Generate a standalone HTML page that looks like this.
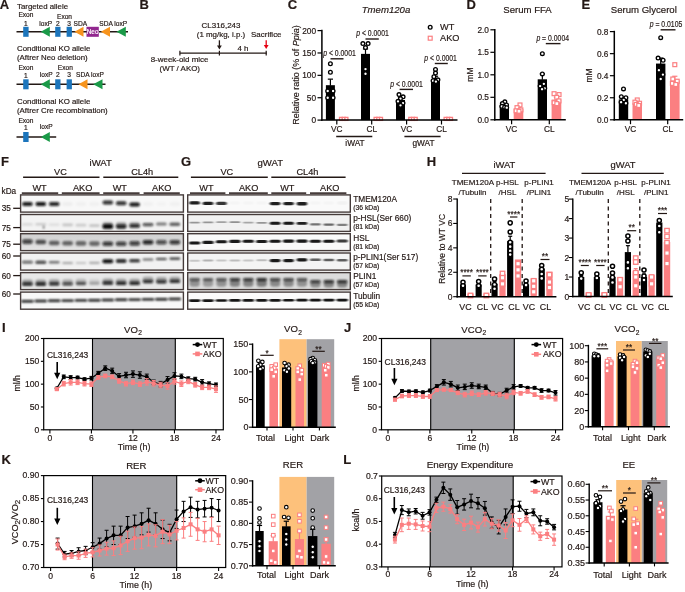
<!DOCTYPE html>
<html><head><meta charset="utf-8"><title>Figure</title>
<style>html,body{margin:0;padding:0;background:#fff;}body{width:685px;height:592px;overflow:hidden;font-family:"Liberation Sans",sans-serif;}svg{display:block;filter:blur(0.3px);}</style>
</head><body>
<svg width="685" height="592" viewBox="0 0 685 592" font-family="'Liberation Sans', sans-serif">
<defs><filter id="blF" x="-50%" y="-200%" width="200%" height="500%"><feGaussianBlur stdDeviation="1.3 0.9"/></filter>
<linearGradient id="g3" x1="0" y1="0" x2="0" y2="1"><stop offset="0" stop-color="#cfcfcf"/><stop offset="1" stop-color="#e6e6e6"/></linearGradient>
<filter id="bl" x="-50%" y="-200%" width="200%" height="500%"><feGaussianBlur stdDeviation="1.15 0.7"/></filter>
<filter id="bl2" x="-50%" y="-200%" width="200%" height="500%"><feGaussianBlur stdDeviation="1.1 1.0"/></filter></defs>
<text x="-0.3" y="9.2" font-size="13" text-anchor="start" fill="#231815" stroke="#231815" stroke-width="0.18" font-weight="bold">A</text>
<text x="17" y="8.7" font-size="7.85" text-anchor="start" fill="#231815" stroke="#231815" stroke-width="0.18">Targeted allele</text>
<text x="18.4" y="17.4" font-size="6.6" text-anchor="start" fill="#231815" stroke="#231815" stroke-width="0.18">Exon</text>
<text x="25.8" y="25.7" font-size="6.6" text-anchor="middle" fill="#231815" stroke="#231815" stroke-width="0.18">1</text>
<text x="39.3" y="25.7" font-size="6.6" text-anchor="start" fill="#231815" stroke="#231815" stroke-width="0.18">loxP</text>
<text x="57" y="19.2" font-size="6.6" text-anchor="start" fill="#231815" stroke="#231815" stroke-width="0.18">Exon</text>
<text x="57.8" y="25.7" font-size="6.6" text-anchor="middle" fill="#231815" stroke="#231815" stroke-width="0.18">2</text>
<text x="69.2" y="25.7" font-size="6.6" text-anchor="middle" fill="#231815" stroke="#231815" stroke-width="0.18">3</text>
<text x="73.5" y="25.7" font-size="6.6" text-anchor="start" fill="#231815" stroke="#231815" stroke-width="0.18">SDA</text>
<text x="99.3" y="25.7" font-size="6.6" text-anchor="start" fill="#231815" stroke="#231815" stroke-width="0.18">SDA</text>
<text x="114.3" y="25.7" font-size="6.6" text-anchor="start" fill="#231815" stroke="#231815" stroke-width="0.18">loxP</text>
<line x1="16.5" y1="31.8" x2="128" y2="31.8" stroke="#231815" stroke-width="1.5" stroke-linecap="butt"/>
<rect x="23.2" y="26.8" width="5.4" height="10" fill="#1c75bc" />
<polygon points="40.8,31.8 49.8,26.8 49.8,36.8" fill="#1a9a48"/>
<rect x="55.2" y="26.8" width="5.3" height="10" fill="#1c75bc" />
<rect x="66.6" y="26.8" width="5.3" height="10" fill="#1c75bc" />
<polygon points="74.5,31.8 83.5,26.8 83.5,36.8" fill="#f7941d"/>
<rect x="86.5" y="26.8" width="12.3" height="10" fill="#92278f" />
<text x="92.6" y="34.2" font-size="6.4" text-anchor="middle" fill="#ffffff" stroke="#ffffff" stroke-width="0.18">Neo</text>
<polygon points="100.8,31.8 110,26.8 110,36.8" fill="#f7941d"/>
<polygon points="116.5,31.8 125.8,26.8 125.8,36.8" fill="#1a9a48"/>
<text x="17" y="50.6" font-size="7.85" text-anchor="start" fill="#231815" stroke="#231815" stroke-width="0.18">Conditional KO allele</text>
<text x="17" y="60.1" font-size="7.85" text-anchor="start" fill="#231815" stroke="#231815" stroke-width="0.18">(Aftrer Neo deletion)</text>
<text x="18.4" y="70.2" font-size="6.6" text-anchor="start" fill="#231815" stroke="#231815" stroke-width="0.18">Exon</text>
<text x="25.8" y="77.8" font-size="6.6" text-anchor="middle" fill="#231815" stroke="#231815" stroke-width="0.18">1</text>
<text x="39.8" y="77" font-size="6.6" text-anchor="start" fill="#231815" stroke="#231815" stroke-width="0.18">loxP</text>
<text x="57.8" y="70.2" font-size="6.6" text-anchor="start" fill="#231815" stroke="#231815" stroke-width="0.18">Exon</text>
<text x="57.8" y="77" font-size="6.6" text-anchor="middle" fill="#231815" stroke="#231815" stroke-width="0.18">2</text>
<text x="69.2" y="77" font-size="6.6" text-anchor="middle" fill="#231815" stroke="#231815" stroke-width="0.18">3</text>
<text x="76" y="77" font-size="6.6" text-anchor="start" fill="#231815" stroke="#231815" stroke-width="0.18">SDA</text>
<text x="91" y="77" font-size="6.6" text-anchor="start" fill="#231815" stroke="#231815" stroke-width="0.18">loxP</text>
<line x1="16.5" y1="84.3" x2="105.5" y2="84.3" stroke="#231815" stroke-width="1.5" stroke-linecap="butt"/>
<rect x="23.2" y="79.3" width="5.4" height="10" fill="#1c75bc" />
<polygon points="40.8,84.3 49.8,79.3 49.8,89.3" fill="#1a9a48"/>
<rect x="55.2" y="79.3" width="5.3" height="10" fill="#1c75bc" />
<rect x="66.6" y="79.3" width="5.3" height="10" fill="#1c75bc" />
<polygon points="78.5,84.3 87.5,79.3 87.5,89.3" fill="#f7941d"/>
<polygon points="93.2,84.3 102.5,79.3 102.5,89.3" fill="#1a9a48"/>
<text x="17" y="103.7" font-size="7.85" text-anchor="start" fill="#231815" stroke="#231815" stroke-width="0.18">Conditional KO allele</text>
<text x="17" y="113.1" font-size="7.85" text-anchor="start" fill="#231815" stroke="#231815" stroke-width="0.18">(Aftrer Cre recombination)</text>
<text x="18.4" y="122.8" font-size="6.6" text-anchor="start" fill="#231815" stroke="#231815" stroke-width="0.18">Exon</text>
<text x="25.8" y="130.2" font-size="6.6" text-anchor="middle" fill="#231815" stroke="#231815" stroke-width="0.18">1</text>
<text x="39.8" y="129.4" font-size="6.6" text-anchor="start" fill="#231815" stroke="#231815" stroke-width="0.18">loxP</text>
<line x1="16.5" y1="137" x2="56.2" y2="137" stroke="#231815" stroke-width="1.5" stroke-linecap="butt"/>
<rect x="23.2" y="132" width="5.4" height="10" fill="#1c75bc" />
<polygon points="40.8,137 49.8,132 49.8,142" fill="#1a9a48"/>
<text x="139.6" y="9.2" font-size="13" text-anchor="start" fill="#231815" stroke="#231815" stroke-width="0.18" font-weight="bold">B</text>
<text x="221" y="28" font-size="7.95" text-anchor="middle" fill="#231815" stroke="#231815" stroke-width="0.18">CL316,243</text>
<text x="221" y="37.2" font-size="7.95" text-anchor="middle" fill="#231815" stroke="#231815" stroke-width="0.18">(1 mg/kg, i.p.)</text>
<text x="266.3" y="36.6" font-size="7.95" text-anchor="middle" fill="#231815" stroke="#231815" stroke-width="0.18">Sacrifice</text>
<line x1="219.4" y1="40.3" x2="219.4" y2="47.2" stroke="#231815" stroke-width="1.3" stroke-linecap="butt"/>
<polygon points="217,45.6 221.8,45.6 219.4,49.6" fill="#231815"/>
<line x1="266.2" y1="40.3" x2="266.2" y2="46.6" stroke="#e60012" stroke-width="1.3" stroke-linecap="butt"/>
<polygon points="263.8,45 268.6,45 266.2,49" fill="#e60012"/>
<line x1="179.9" y1="53.2" x2="266.7" y2="53.2" stroke="#231815" stroke-width="1.3" stroke-linecap="butt"/>
<line x1="179.9" y1="50.7" x2="179.9" y2="55.6" stroke="#231815" stroke-width="1.2" stroke-linecap="butt"/>
<line x1="219.4" y1="50.7" x2="219.4" y2="55.6" stroke="#231815" stroke-width="1.2" stroke-linecap="butt"/>
<line x1="266.2" y1="50.7" x2="266.2" y2="55.6" stroke="#231815" stroke-width="1.2" stroke-linecap="butt"/>
<text x="243" y="50.6" font-size="7.95" text-anchor="middle" fill="#231815" stroke="#231815" stroke-width="0.18">4 h</text>
<text x="179.6" y="62" font-size="7.95" text-anchor="middle" fill="#231815" stroke="#231815" stroke-width="0.18">8-week-old mice</text>
<text x="179.8" y="71" font-size="7.95" text-anchor="middle" fill="#231815" stroke="#231815" stroke-width="0.18">(WT / AKO)</text>
<text x="287.8" y="9.2" font-size="13" text-anchor="start" fill="#231815" stroke="#231815" stroke-width="0.18" font-weight="bold">C</text>
<text x="386" y="13.2" font-size="9.6" text-anchor="middle" fill="#231815" stroke="#231815" stroke-width="0.18" font-style="italic">Tmem120a</text>
<text x="0" y="0" font-size="9" text-anchor="middle" fill="#231815" stroke="#231815" stroke-width="0.18" transform="translate(299.3 75) rotate(-90)">Relative ratio (% of <tspan font-style="italic">Ppia</tspan>)</text>
<rect x="325.9" y="85.19" width="9" height="34.91" fill="#000000" />
<line x1="330.4" y1="79.15" x2="330.4" y2="85.69" stroke="#000000" stroke-width="1.2" stroke-linecap="butt"/>
<line x1="327.8" y1="79.15" x2="333" y2="79.15" stroke="#000000" stroke-width="1.2" stroke-linecap="butt"/>
<circle cx="330.4" cy="63.71" r="1.85" fill="#ffffff" stroke="#000000" stroke-width="1.35"/>
<circle cx="330.4" cy="72.22" r="1.85" fill="#ffffff" stroke="#000000" stroke-width="1.35"/>
<circle cx="327.7" cy="91.01" r="1.85" fill="#ffffff" stroke="#000000" stroke-width="1.35"/>
<circle cx="333.1" cy="91.01" r="1.85" fill="#ffffff" stroke="#000000" stroke-width="1.35"/>
<circle cx="327.7" cy="97.72" r="1.85" fill="#ffffff" stroke="#000000" stroke-width="1.35"/>
<circle cx="333.1" cy="97.72" r="1.85" fill="#ffffff" stroke="#000000" stroke-width="1.35"/>
<rect x="339.2" y="119.56" width="9" height="0.54" fill="#fb7f81" />
<rect x="339.5" y="117.39" width="3" height="3" fill="#ffffff" stroke="#fb7f81" stroke-width="1.3" />
<rect x="342.2" y="117.39" width="3" height="3" fill="#ffffff" stroke="#fb7f81" stroke-width="1.3" />
<rect x="344.9" y="117.39" width="3" height="3" fill="#ffffff" stroke="#fb7f81" stroke-width="1.3" />
<rect x="361" y="53.87" width="9" height="66.23" fill="#000000" />
<line x1="365.5" y1="48.95" x2="365.5" y2="54.37" stroke="#000000" stroke-width="1.2" stroke-linecap="butt"/>
<line x1="362.9" y1="48.95" x2="368.1" y2="48.95" stroke="#000000" stroke-width="1.2" stroke-linecap="butt"/>
<circle cx="362.9" cy="43.58" r="1.85" fill="#ffffff" stroke="#000000" stroke-width="1.35"/>
<circle cx="368.1" cy="43.58" r="1.85" fill="#ffffff" stroke="#000000" stroke-width="1.35"/>
<circle cx="365.5" cy="47.6" r="1.85" fill="#ffffff" stroke="#000000" stroke-width="1.35"/>
<circle cx="365.5" cy="69.08" r="1.85" fill="#ffffff" stroke="#000000" stroke-width="1.35"/>
<circle cx="365.5" cy="73.78" r="1.85" fill="#ffffff" stroke="#000000" stroke-width="1.35"/>
<rect x="373.8" y="119.56" width="9" height="0.54" fill="#fb7f81" />
<rect x="374.1" y="117.39" width="3" height="3" fill="#ffffff" stroke="#fb7f81" stroke-width="1.3" />
<rect x="376.8" y="117.39" width="3" height="3" fill="#ffffff" stroke="#fb7f81" stroke-width="1.3" />
<rect x="379.5" y="117.39" width="3" height="3" fill="#ffffff" stroke="#fb7f81" stroke-width="1.3" />
<rect x="396" y="99.96" width="9" height="20.14" fill="#000000" />
<line x1="400.5" y1="97.28" x2="400.5" y2="100.46" stroke="#000000" stroke-width="1.2" stroke-linecap="butt"/>
<line x1="397.9" y1="97.28" x2="403.1" y2="97.28" stroke="#000000" stroke-width="1.2" stroke-linecap="butt"/>
<circle cx="399" cy="94.59" r="1.85" fill="#ffffff" stroke="#000000" stroke-width="1.35"/>
<circle cx="403.1" cy="96.83" r="1.85" fill="#ffffff" stroke="#000000" stroke-width="1.35"/>
<circle cx="400.5" cy="98.62" r="1.85" fill="#ffffff" stroke="#000000" stroke-width="1.35"/>
<circle cx="398" cy="101.3" r="1.85" fill="#ffffff" stroke="#000000" stroke-width="1.35"/>
<circle cx="403" cy="103.09" r="1.85" fill="#ffffff" stroke="#000000" stroke-width="1.35"/>
<circle cx="400.5" cy="105.33" r="1.85" fill="#ffffff" stroke="#000000" stroke-width="1.35"/>
<rect x="408.5" y="119.56" width="9" height="0.54" fill="#fb7f81" />
<rect x="408.8" y="117.39" width="3" height="3" fill="#ffffff" stroke="#fb7f81" stroke-width="1.3" />
<rect x="411.5" y="117.39" width="3" height="3" fill="#ffffff" stroke="#fb7f81" stroke-width="1.3" />
<rect x="414.2" y="117.39" width="3" height="3" fill="#ffffff" stroke="#fb7f81" stroke-width="1.3" />
<rect x="431" y="79.82" width="9" height="40.28" fill="#000000" />
<line x1="435.5" y1="76.24" x2="435.5" y2="80.32" stroke="#000000" stroke-width="1.2" stroke-linecap="butt"/>
<line x1="432.9" y1="76.24" x2="438.1" y2="76.24" stroke="#000000" stroke-width="1.2" stroke-linecap="butt"/>
<circle cx="435.5" cy="69.53" r="1.85" fill="#ffffff" stroke="#000000" stroke-width="1.35"/>
<circle cx="435.5" cy="73.11" r="1.85" fill="#ffffff" stroke="#000000" stroke-width="1.35"/>
<circle cx="433.9" cy="76.69" r="1.85" fill="#ffffff" stroke="#000000" stroke-width="1.35"/>
<circle cx="437.9" cy="79.82" r="1.85" fill="#ffffff" stroke="#000000" stroke-width="1.35"/>
<circle cx="433.1" cy="80.72" r="1.85" fill="#ffffff" stroke="#000000" stroke-width="1.35"/>
<circle cx="435.9" cy="81.61" r="1.85" fill="#ffffff" stroke="#000000" stroke-width="1.35"/>
<rect x="443.8" y="119.56" width="9" height="0.54" fill="#fb7f81" />
<rect x="444.1" y="117.39" width="3" height="3" fill="#ffffff" stroke="#fb7f81" stroke-width="1.3" />
<rect x="446.8" y="117.39" width="3" height="3" fill="#ffffff" stroke="#fb7f81" stroke-width="1.3" />
<rect x="449.5" y="117.39" width="3" height="3" fill="#ffffff" stroke="#fb7f81" stroke-width="1.3" />
<line x1="321.9" y1="29.8" x2="321.9" y2="120.85" stroke="#000000" stroke-width="1.5" stroke-linecap="butt"/>
<line x1="321.15" y1="120.1" x2="457.5" y2="120.1" stroke="#000000" stroke-width="1.5" stroke-linecap="butt"/>
<line x1="317.5" y1="120.1" x2="321.9" y2="120.1" stroke="#000000" stroke-width="1.2" stroke-linecap="butt"/>
<text x="316.1" y="123" font-size="8.3" text-anchor="end" fill="#231815" stroke="#231815" stroke-width="0.18">0</text>
<line x1="317.5" y1="97.72" x2="321.9" y2="97.72" stroke="#000000" stroke-width="1.2" stroke-linecap="butt"/>
<text x="316.1" y="100.62" font-size="8.3" text-anchor="end" fill="#231815" stroke="#231815" stroke-width="0.18">50</text>
<line x1="317.5" y1="75.35" x2="321.9" y2="75.35" stroke="#000000" stroke-width="1.2" stroke-linecap="butt"/>
<text x="316.1" y="78.25" font-size="8.3" text-anchor="end" fill="#231815" stroke="#231815" stroke-width="0.18">100</text>
<line x1="317.5" y1="52.97" x2="321.9" y2="52.97" stroke="#000000" stroke-width="1.2" stroke-linecap="butt"/>
<text x="316.1" y="55.87" font-size="8.3" text-anchor="end" fill="#231815" stroke="#231815" stroke-width="0.18">150</text>
<line x1="317.5" y1="30.6" x2="321.9" y2="30.6" stroke="#000000" stroke-width="1.2" stroke-linecap="butt"/>
<text x="316.1" y="33.5" font-size="8.3" text-anchor="end" fill="#231815" stroke="#231815" stroke-width="0.18">200</text>
<line x1="336.8" y1="120.1" x2="336.8" y2="124.5" stroke="#000000" stroke-width="1.2" stroke-linecap="butt"/>
<text x="336.8" y="132" font-size="8.3" text-anchor="middle" fill="#231815" stroke="#231815" stroke-width="0.18">VC</text>
<line x1="371.7" y1="120.1" x2="371.7" y2="124.5" stroke="#000000" stroke-width="1.2" stroke-linecap="butt"/>
<text x="371.7" y="132" font-size="8.3" text-anchor="middle" fill="#231815" stroke="#231815" stroke-width="0.18">CL</text>
<line x1="406.6" y1="120.1" x2="406.6" y2="124.5" stroke="#000000" stroke-width="1.2" stroke-linecap="butt"/>
<text x="406.6" y="132" font-size="8.3" text-anchor="middle" fill="#231815" stroke="#231815" stroke-width="0.18">VC</text>
<line x1="441.5" y1="120.1" x2="441.5" y2="124.5" stroke="#000000" stroke-width="1.2" stroke-linecap="butt"/>
<text x="441.5" y="132" font-size="8.3" text-anchor="middle" fill="#231815" stroke="#231815" stroke-width="0.18">CL</text>
<line x1="336.2" y1="136.5" x2="372.3" y2="136.5" stroke="#231815" stroke-width="1.5" stroke-linecap="butt"/>
<text x="355" y="146" font-size="8.3" text-anchor="middle" fill="#231815" stroke="#231815" stroke-width="0.18">iWAT</text>
<line x1="404.4" y1="136.5" x2="440.6" y2="136.5" stroke="#231815" stroke-width="1.5" stroke-linecap="butt"/>
<text x="423.5" y="146" font-size="8.3" text-anchor="middle" fill="#231815" stroke="#231815" stroke-width="0.18">gWAT</text>
<text x="0" y="0" font-size="8.7" text-anchor="middle" fill="#231815" stroke="#231815" stroke-width="0.18" transform="translate(339.5 56) scale(0.79 1)"><tspan font-style="italic">p</tspan> &lt; 0.0001</text>
<line x1="330.5" y1="58.8" x2="343.5" y2="58.8" stroke="#231815" stroke-width="1.4" stroke-linecap="butt"/>
<text x="0" y="0" font-size="8.7" text-anchor="middle" fill="#231815" stroke="#231815" stroke-width="0.18" transform="translate(372.5 35.9) scale(0.79 1)"><tspan font-style="italic">p</tspan> &lt; 0.0001</text>
<line x1="365.5" y1="39" x2="378.8" y2="39" stroke="#231815" stroke-width="1.4" stroke-linecap="butt"/>
<text x="0" y="0" font-size="8.7" text-anchor="middle" fill="#231815" stroke="#231815" stroke-width="0.18" transform="translate(406.5 87.4) scale(0.79 1)"><tspan font-style="italic">p</tspan> &lt; 0.0001</text>
<line x1="399.6" y1="89.4" x2="413" y2="89.4" stroke="#231815" stroke-width="1.4" stroke-linecap="butt"/>
<text x="0" y="0" font-size="8.7" text-anchor="middle" fill="#231815" stroke="#231815" stroke-width="0.18" transform="translate(440.6 61) scale(0.79 1)"><tspan font-style="italic">p</tspan> &lt; 0.0001</text>
<line x1="434.8" y1="63.5" x2="447.8" y2="63.5" stroke="#231815" stroke-width="1.4" stroke-linecap="butt"/>
<circle cx="430.2" cy="27.2" r="1.85" fill="#ffffff" stroke="#000000" stroke-width="1.35"/>
<text x="440" y="30.4" font-size="9.2" text-anchor="start" fill="#231815" stroke="#231815" stroke-width="0.18">WT</text>
<rect x="428.25" y="36.25" width="3.9" height="3.9" fill="#ffffff" stroke="#fb7f81" stroke-width="1.2" />
<text x="440" y="41.4" font-size="9.2" text-anchor="start" fill="#231815" stroke="#231815" stroke-width="0.18">AKO</text>
<text x="466.6" y="9.2" font-size="13" text-anchor="start" fill="#231815" stroke="#231815" stroke-width="0.18" font-weight="bold">D</text>
<text x="527.5" y="13.2" font-size="9.6" text-anchor="middle" fill="#231815" stroke="#231815" stroke-width="0.18">Serum FFA</text>
<text x="0" y="0" font-size="8.5" text-anchor="middle" fill="#231815" stroke="#231815" stroke-width="0.18" transform="translate(472.6 74.6) rotate(-90)">mM</text>
<rect x="499.7" y="105.4" width="9.3" height="14.4" fill="#000000" />
<line x1="504.35" y1="104.05" x2="504.35" y2="105.9" stroke="#000000" stroke-width="1.2" stroke-linecap="butt"/>
<line x1="501.75" y1="104.05" x2="506.95" y2="104.05" stroke="#000000" stroke-width="1.2" stroke-linecap="butt"/>
<circle cx="504.85" cy="101.8" r="1.85" fill="#ffffff" stroke="#000000" stroke-width="1.35"/>
<circle cx="502.35" cy="103.6" r="1.85" fill="#ffffff" stroke="#000000" stroke-width="1.35"/>
<circle cx="506.55" cy="104.95" r="1.85" fill="#ffffff" stroke="#000000" stroke-width="1.35"/>
<circle cx="501.85" cy="106.3" r="1.85" fill="#ffffff" stroke="#000000" stroke-width="1.35"/>
<circle cx="504.65" cy="107.2" r="1.85" fill="#ffffff" stroke="#000000" stroke-width="1.35"/>
<circle cx="506.75" cy="107.65" r="1.85" fill="#ffffff" stroke="#000000" stroke-width="1.35"/>
<rect x="513.7" y="109" width="9.6" height="10.8" fill="#fb7f81" />
<line x1="518.5" y1="107.65" x2="518.5" y2="109.5" stroke="#fb7f81" stroke-width="1.2" stroke-linecap="butt"/>
<line x1="515.9" y1="107.65" x2="521.1" y2="107.65" stroke="#fb7f81" stroke-width="1.2" stroke-linecap="butt"/>
<rect x="518.05" y="103" width="3.9" height="3.9" fill="#ffffff" stroke="#fb7f81" stroke-width="1.2" />
<rect x="515.05" y="105.7" width="3.9" height="3.9" fill="#ffffff" stroke="#fb7f81" stroke-width="1.2" />
<rect x="518.95" y="107.95" width="3.9" height="3.9" fill="#ffffff" stroke="#fb7f81" stroke-width="1.2" />
<rect x="514.15" y="108.85" width="3.9" height="3.9" fill="#ffffff" stroke="#fb7f81" stroke-width="1.2" />
<rect x="517.05" y="109.3" width="3.9" height="3.9" fill="#ffffff" stroke="#fb7f81" stroke-width="1.2" />
<rect x="537.7" y="79.3" width="9.3" height="40.5" fill="#000000" />
<line x1="542.35" y1="73.9" x2="542.35" y2="79.8" stroke="#000000" stroke-width="1.2" stroke-linecap="butt"/>
<line x1="539.75" y1="73.9" x2="544.95" y2="73.9" stroke="#000000" stroke-width="1.2" stroke-linecap="butt"/>
<circle cx="542.35" cy="53.65" r="1.85" fill="#ffffff" stroke="#000000" stroke-width="1.35"/>
<circle cx="542.35" cy="73.9" r="1.85" fill="#ffffff" stroke="#000000" stroke-width="1.35"/>
<circle cx="543.85" cy="83.8" r="1.85" fill="#ffffff" stroke="#000000" stroke-width="1.35"/>
<circle cx="540.15" cy="86.05" r="1.85" fill="#ffffff" stroke="#000000" stroke-width="1.35"/>
<circle cx="544.75" cy="88.3" r="1.85" fill="#ffffff" stroke="#000000" stroke-width="1.35"/>
<circle cx="542.05" cy="89.2" r="1.85" fill="#ffffff" stroke="#000000" stroke-width="1.35"/>
<rect x="551.6" y="99.55" width="9.7" height="20.25" fill="#fb7f81" />
<line x1="556.45" y1="97.3" x2="556.45" y2="100.05" stroke="#fb7f81" stroke-width="1.2" stroke-linecap="butt"/>
<line x1="553.85" y1="97.3" x2="559.05" y2="97.3" stroke="#fb7f81" stroke-width="1.2" stroke-linecap="butt"/>
<rect x="552.1" y="91.75" width="3.9" height="3.9" fill="#ffffff" stroke="#fb7f81" stroke-width="1.2" />
<rect x="557.1" y="92.65" width="3.9" height="3.9" fill="#ffffff" stroke="#fb7f81" stroke-width="1.2" />
<rect x="554.8" y="95.35" width="3.9" height="3.9" fill="#ffffff" stroke="#fb7f81" stroke-width="1.2" />
<rect x="557" y="98.95" width="3.9" height="3.9" fill="#ffffff" stroke="#fb7f81" stroke-width="1.2" />
<rect x="552.2" y="100.75" width="3.9" height="3.9" fill="#ffffff" stroke="#fb7f81" stroke-width="1.2" />
<rect x="554.9" y="101.65" width="3.9" height="3.9" fill="#ffffff" stroke="#fb7f81" stroke-width="1.2" />
<line x1="494.8" y1="29" x2="494.8" y2="120.55" stroke="#000000" stroke-width="1.5" stroke-linecap="butt"/>
<line x1="494.05" y1="119.8" x2="565.8" y2="119.8" stroke="#000000" stroke-width="1.5" stroke-linecap="butt"/>
<line x1="490.4" y1="119.8" x2="494.8" y2="119.8" stroke="#000000" stroke-width="1.2" stroke-linecap="butt"/>
<text x="489" y="122.7" font-size="8.3" text-anchor="end" fill="#231815" stroke="#231815" stroke-width="0.18">0.0</text>
<line x1="490.4" y1="97.3" x2="494.8" y2="97.3" stroke="#000000" stroke-width="1.2" stroke-linecap="butt"/>
<text x="489" y="100.2" font-size="8.3" text-anchor="end" fill="#231815" stroke="#231815" stroke-width="0.18">0.5</text>
<line x1="490.4" y1="74.8" x2="494.8" y2="74.8" stroke="#000000" stroke-width="1.2" stroke-linecap="butt"/>
<text x="489" y="77.7" font-size="8.3" text-anchor="end" fill="#231815" stroke="#231815" stroke-width="0.18">1.0</text>
<line x1="490.4" y1="52.3" x2="494.8" y2="52.3" stroke="#000000" stroke-width="1.2" stroke-linecap="butt"/>
<text x="489" y="55.2" font-size="8.3" text-anchor="end" fill="#231815" stroke="#231815" stroke-width="0.18">1.5</text>
<line x1="490.4" y1="29.8" x2="494.8" y2="29.8" stroke="#000000" stroke-width="1.2" stroke-linecap="butt"/>
<text x="489" y="32.7" font-size="8.3" text-anchor="end" fill="#231815" stroke="#231815" stroke-width="0.18">2.0</text>
<line x1="511.6" y1="119.8" x2="511.6" y2="124.2" stroke="#000000" stroke-width="1.2" stroke-linecap="butt"/>
<text x="511.6" y="132" font-size="8.3" text-anchor="middle" fill="#231815" stroke="#231815" stroke-width="0.18">VC</text>
<line x1="549.3" y1="119.8" x2="549.3" y2="124.2" stroke="#000000" stroke-width="1.2" stroke-linecap="butt"/>
<text x="549.3" y="132" font-size="8.3" text-anchor="middle" fill="#231815" stroke="#231815" stroke-width="0.18">CL</text>
<text x="0" y="0" font-size="8.7" text-anchor="middle" fill="#231815" stroke="#231815" stroke-width="0.18" transform="translate(552.7 41.4) scale(0.79 1)"><tspan font-style="italic">p</tspan> = 0.0004</text>
<line x1="545.8" y1="43.6" x2="560.5" y2="43.6" stroke="#231815" stroke-width="1.4" stroke-linecap="butt"/>
<text x="581.6" y="9.2" font-size="13" text-anchor="start" fill="#231815" stroke="#231815" stroke-width="0.18" font-weight="bold">E</text>
<text x="643.8" y="13.2" font-size="9.6" text-anchor="middle" fill="#231815" stroke="#231815" stroke-width="0.18">Serum Glycerol</text>
<text x="0" y="0" font-size="8.5" text-anchor="middle" fill="#231815" stroke="#231815" stroke-width="0.18" transform="translate(591.8 75.4) rotate(-90)">mM</text>
<rect x="618.8" y="99.4" width="9.4" height="20.4" fill="#000000" />
<line x1="623.5" y1="97.2" x2="623.5" y2="99.9" stroke="#000000" stroke-width="1.2" stroke-linecap="butt"/>
<line x1="620.9" y1="97.2" x2="626.1" y2="97.2" stroke="#000000" stroke-width="1.2" stroke-linecap="butt"/>
<circle cx="623.5" cy="88.93" r="1.85" fill="#ffffff" stroke="#000000" stroke-width="1.35"/>
<circle cx="621.3" cy="96.65" r="1.85" fill="#ffffff" stroke="#000000" stroke-width="1.35"/>
<circle cx="625.9" cy="97.75" r="1.85" fill="#ffffff" stroke="#000000" stroke-width="1.35"/>
<circle cx="623.7" cy="99.95" r="1.85" fill="#ffffff" stroke="#000000" stroke-width="1.35"/>
<circle cx="621.1" cy="102.16" r="1.85" fill="#ffffff" stroke="#000000" stroke-width="1.35"/>
<circle cx="625.9" cy="103.26" r="1.85" fill="#ffffff" stroke="#000000" stroke-width="1.35"/>
<rect x="632.5" y="103.26" width="9.5" height="16.54" fill="#fb7f81" />
<line x1="637.25" y1="101.94" x2="637.25" y2="103.76" stroke="#fb7f81" stroke-width="1.2" stroke-linecap="butt"/>
<line x1="634.65" y1="101.94" x2="639.85" y2="101.94" stroke="#fb7f81" stroke-width="1.2" stroke-linecap="butt"/>
<rect x="635.3" y="98" width="3.9" height="3.9" fill="#ffffff" stroke="#fb7f81" stroke-width="1.2" />
<rect x="633" y="100.21" width="3.9" height="3.9" fill="#ffffff" stroke="#fb7f81" stroke-width="1.2" />
<rect x="637.6" y="101.31" width="3.9" height="3.9" fill="#ffffff" stroke="#fb7f81" stroke-width="1.2" />
<rect x="634.3" y="102.41" width="3.9" height="3.9" fill="#ffffff" stroke="#fb7f81" stroke-width="1.2" />
<rect x="636.8" y="103.52" width="3.9" height="3.9" fill="#ffffff" stroke="#fb7f81" stroke-width="1.2" />
<rect x="656" y="63.57" width="9.4" height="56.23" fill="#000000" />
<line x1="660.7" y1="58.06" x2="660.7" y2="64.07" stroke="#000000" stroke-width="1.2" stroke-linecap="butt"/>
<line x1="658.1" y1="58.06" x2="663.3" y2="58.06" stroke="#000000" stroke-width="1.2" stroke-linecap="butt"/>
<circle cx="660.7" cy="37.66" r="1.85" fill="#ffffff" stroke="#000000" stroke-width="1.35"/>
<circle cx="658.1" cy="58.06" r="1.85" fill="#ffffff" stroke="#000000" stroke-width="1.35"/>
<circle cx="663.1" cy="60.27" r="1.85" fill="#ffffff" stroke="#000000" stroke-width="1.35"/>
<circle cx="658.9" cy="70.19" r="1.85" fill="#ffffff" stroke="#000000" stroke-width="1.35"/>
<circle cx="662.9" cy="74.6" r="1.85" fill="#ffffff" stroke="#000000" stroke-width="1.35"/>
<circle cx="660.7" cy="79.01" r="1.85" fill="#ffffff" stroke="#000000" stroke-width="1.35"/>
<rect x="670" y="80.66" width="9.6" height="39.14" fill="#fb7f81" />
<line x1="674.8" y1="76.25" x2="674.8" y2="81.16" stroke="#fb7f81" stroke-width="1.2" stroke-linecap="butt"/>
<line x1="672.2" y1="76.25" x2="677.4" y2="76.25" stroke="#fb7f81" stroke-width="1.2" stroke-linecap="butt"/>
<rect x="672.85" y="62.73" width="3.9" height="3.9" fill="#ffffff" stroke="#fb7f81" stroke-width="1.2" />
<rect x="670.85" y="77.06" width="3.9" height="3.9" fill="#ffffff" stroke="#fb7f81" stroke-width="1.2" />
<rect x="675.25" y="79.26" width="3.9" height="3.9" fill="#ffffff" stroke="#fb7f81" stroke-width="1.2" />
<rect x="670.45" y="81.47" width="3.9" height="3.9" fill="#ffffff" stroke="#fb7f81" stroke-width="1.2" />
<rect x="673.85" y="82.57" width="3.9" height="3.9" fill="#ffffff" stroke="#fb7f81" stroke-width="1.2" />
<line x1="614.3" y1="30.8" x2="614.3" y2="120.55" stroke="#000000" stroke-width="1.5" stroke-linecap="butt"/>
<line x1="613.55" y1="119.8" x2="683.2" y2="119.8" stroke="#000000" stroke-width="1.5" stroke-linecap="butt"/>
<line x1="609.9" y1="119.8" x2="614.3" y2="119.8" stroke="#000000" stroke-width="1.2" stroke-linecap="butt"/>
<text x="608.5" y="122.7" font-size="8.3" text-anchor="end" fill="#231815" stroke="#231815" stroke-width="0.18">0.0</text>
<line x1="609.9" y1="97.75" x2="614.3" y2="97.75" stroke="#000000" stroke-width="1.2" stroke-linecap="butt"/>
<text x="608.5" y="100.65" font-size="8.3" text-anchor="end" fill="#231815" stroke="#231815" stroke-width="0.18">0.2</text>
<line x1="609.9" y1="75.7" x2="614.3" y2="75.7" stroke="#000000" stroke-width="1.2" stroke-linecap="butt"/>
<text x="608.5" y="78.6" font-size="8.3" text-anchor="end" fill="#231815" stroke="#231815" stroke-width="0.18">0.4</text>
<line x1="609.9" y1="53.65" x2="614.3" y2="53.65" stroke="#000000" stroke-width="1.2" stroke-linecap="butt"/>
<text x="608.5" y="56.55" font-size="8.3" text-anchor="end" fill="#231815" stroke="#231815" stroke-width="0.18">0.6</text>
<line x1="609.9" y1="31.6" x2="614.3" y2="31.6" stroke="#000000" stroke-width="1.2" stroke-linecap="butt"/>
<text x="608.5" y="34.5" font-size="8.3" text-anchor="end" fill="#231815" stroke="#231815" stroke-width="0.18">0.8</text>
<line x1="630.5" y1="119.8" x2="630.5" y2="124.2" stroke="#000000" stroke-width="1.2" stroke-linecap="butt"/>
<text x="630.5" y="132" font-size="8.3" text-anchor="middle" fill="#231815" stroke="#231815" stroke-width="0.18">VC</text>
<line x1="667.7" y1="119.8" x2="667.7" y2="124.2" stroke="#000000" stroke-width="1.2" stroke-linecap="butt"/>
<text x="667.7" y="132" font-size="8.3" text-anchor="middle" fill="#231815" stroke="#231815" stroke-width="0.18">CL</text>
<text x="0" y="0" font-size="8.7" text-anchor="middle" fill="#231815" stroke="#231815" stroke-width="0.18" transform="translate(666 27.4) scale(0.79 1)"><tspan font-style="italic">p</tspan> = 0.0105</text>
<line x1="660.6" y1="29.8" x2="675.5" y2="29.8" stroke="#231815" stroke-width="1.4" stroke-linecap="butt"/>
<text x="1" y="166.2" font-size="13" text-anchor="start" fill="#231815" stroke="#231815" stroke-width="0.18" font-weight="bold">F</text>
<text x="100.7" y="166.2" font-size="9.6" text-anchor="middle" fill="#231815" stroke="#231815" stroke-width="0.18">iWAT</text>
<text x="60.4" y="175.4" font-size="9.2" text-anchor="middle" fill="#231815" stroke="#231815" stroke-width="0.18">VC</text>
<text x="142.2" y="175.4" font-size="9.2" text-anchor="middle" fill="#231815" stroke="#231815" stroke-width="0.18">CL4h</text>
<line x1="23.1" y1="177.2" x2="99.5" y2="177.2" stroke="#231815" stroke-width="1.5" stroke-linecap="butt"/>
<line x1="103.3" y1="177.2" x2="178.3" y2="177.2" stroke="#231815" stroke-width="1.5" stroke-linecap="butt"/>
<text x="39.6" y="191" font-size="9.2" text-anchor="middle" fill="#231815" stroke="#231815" stroke-width="0.18">WT</text>
<text x="82.6" y="191" font-size="9.2" text-anchor="middle" fill="#231815" stroke="#231815" stroke-width="0.18">AKO</text>
<text x="119.8" y="191" font-size="9.2" text-anchor="middle" fill="#231815" stroke="#231815" stroke-width="0.18">WT</text>
<text x="161.8" y="191" font-size="9.2" text-anchor="middle" fill="#231815" stroke="#231815" stroke-width="0.18">AKO</text>
<text x="1.6" y="194.4" font-size="8.2" text-anchor="start" fill="#231815" stroke="#231815" stroke-width="0.18">kDa</text>
<line x1="21.8" y1="193.3" x2="58.2" y2="193.3" stroke="#463c3b" stroke-width="2" stroke-linecap="butt"/>
<line x1="61.8" y1="193.3" x2="99.6" y2="193.3" stroke="#463c3b" stroke-width="2" stroke-linecap="butt"/>
<line x1="103.2" y1="193.3" x2="139.6" y2="193.3" stroke="#463c3b" stroke-width="2" stroke-linecap="butt"/>
<line x1="143.6" y1="193.3" x2="179.8" y2="193.3" stroke="#463c3b" stroke-width="2" stroke-linecap="butt"/>
<text x="1.8" y="211.2" font-size="8.2" text-anchor="start" fill="#231815" stroke="#231815" stroke-width="0.18">35</text>
<line x1="13.2" y1="208.3" x2="20.3" y2="208.3" stroke="#231815" stroke-width="1.3" stroke-linecap="butt"/>
<text x="1.8" y="230.5" font-size="8.2" text-anchor="start" fill="#231815" stroke="#231815" stroke-width="0.18">75</text>
<line x1="13.2" y1="227.6" x2="20.3" y2="227.6" stroke="#231815" stroke-width="1.3" stroke-linecap="butt"/>
<text x="1.8" y="247.1" font-size="8.2" text-anchor="start" fill="#231815" stroke="#231815" stroke-width="0.18">75</text>
<line x1="13.2" y1="244.2" x2="20.3" y2="244.2" stroke="#231815" stroke-width="1.3" stroke-linecap="butt"/>
<text x="1.8" y="258.9" font-size="8.2" text-anchor="start" fill="#231815" stroke="#231815" stroke-width="0.18">60</text>
<line x1="13.2" y1="256" x2="20.3" y2="256" stroke="#231815" stroke-width="1.3" stroke-linecap="butt"/>
<text x="1.8" y="278.5" font-size="8.2" text-anchor="start" fill="#231815" stroke="#231815" stroke-width="0.18">60</text>
<line x1="13.2" y1="275.6" x2="20.3" y2="275.6" stroke="#231815" stroke-width="1.3" stroke-linecap="butt"/>
<text x="1.8" y="296.9" font-size="8.2" text-anchor="start" fill="#231815" stroke="#231815" stroke-width="0.18">60</text>
<line x1="13.2" y1="294" x2="20.3" y2="294" stroke="#231815" stroke-width="1.3" stroke-linecap="butt"/>
<clipPath id="c1"><rect x="20" y="194.3" width="164" height="18.4"/></clipPath>
<rect x="20" y="194.3" width="164" height="18.4" fill="#f8f8f8" />
<g clip-path="url(#c1)"><g filter="url(#blF)">
<rect x="22.1" y="202.1" width="10.6" height="4" rx="2" fill="#0a0a0a" fill-opacity="0.95"/>
<rect x="35.5" y="201.9" width="10.6" height="4" rx="2" fill="#0a0a0a" fill-opacity="0.97"/>
<rect x="48.9" y="202.1" width="10.6" height="4" rx="2" fill="#0a0a0a" fill-opacity="0.9"/>
<rect x="62.3" y="202.1" width="10.6" height="4" rx="2" fill="#0a0a0a" fill-opacity="0.04"/>
<rect x="75.7" y="202.1" width="10.6" height="4" rx="2" fill="#0a0a0a" fill-opacity="0.03"/>
<rect x="89.1" y="202.1" width="10.6" height="4" rx="2" fill="#0a0a0a" fill-opacity="0.03"/>
<rect x="102.5" y="200.5" width="10.6" height="4" rx="2" fill="#0a0a0a" fill-opacity="0.85"/>
<rect x="115.9" y="201.3" width="10.6" height="4" rx="2" fill="#0a0a0a" fill-opacity="0.85"/>
<rect x="129.3" y="202.6" width="10.6" height="4" rx="2" fill="#0a0a0a" fill-opacity="0.95"/>
<rect x="142.7" y="202.1" width="10.6" height="4" rx="2" fill="#0a0a0a" fill-opacity="0.03"/>
<rect x="156.1" y="202.1" width="10.6" height="4" rx="2" fill="#0a0a0a" fill-opacity="0.02"/>
<rect x="169.5" y="202.1" width="10.6" height="4" rx="2" fill="#0a0a0a" fill-opacity="0.03"/>
</g></g>
<rect x="20.6" y="194.9" width="162.8" height="17.2" fill="none" stroke="#463c3b" stroke-width="1.4" />
<clipPath id="c2"><rect x="20" y="213.9" width="164" height="18.1"/></clipPath>
<rect x="20" y="213.9" width="164" height="18.1" fill="#f3f3f3" />
<g clip-path="url(#c2)"><g filter="url(#blF)">
<rect x="22" y="223.2" width="10.8" height="2.4" rx="1.2" fill="#0a0a0a" fill-opacity="0.13"/>
<rect x="35.4" y="223" width="10.8" height="2.4" rx="1.2" fill="#0a0a0a" fill-opacity="0.16"/>
<rect x="48.8" y="223.4" width="10.8" height="2.4" rx="1.2" fill="#0a0a0a" fill-opacity="0.1"/>
<rect x="62.2" y="223.4" width="10.8" height="2.8" rx="1.4" fill="#0a0a0a" fill-opacity="0.2"/>
<rect x="75.6" y="223.8" width="10.8" height="2.8" rx="1.4" fill="#0a0a0a" fill-opacity="0.17"/>
<rect x="89" y="224.2" width="10.8" height="2.8" rx="1.4" fill="#0a0a0a" fill-opacity="0.2"/>
<rect x="102.4" y="224.1" width="10.8" height="5" rx="2.5" fill="#0a0a0a" fill-opacity="1"/>
<rect x="115.8" y="224.5" width="10.8" height="4.2" rx="2.1" fill="#0a0a0a" fill-opacity="0.9"/>
<rect x="129.2" y="224.1" width="10.8" height="3.8" rx="1.9" fill="#0a0a0a" fill-opacity="0.8"/>
<rect x="142.6" y="222.9" width="10.8" height="3.4" rx="1.7" fill="#0a0a0a" fill-opacity="0.7"/>
<rect x="156" y="222.4" width="10.8" height="3.2" rx="1.6" fill="#0a0a0a" fill-opacity="0.5"/>
<rect x="169.4" y="222.5" width="10.8" height="3.4" rx="1.7" fill="#0a0a0a" fill-opacity="0.6"/>
<rect x="43.25" y="225.6" width="1" height="3.4" rx="1.7" fill="#0a0a0a" fill-opacity="0.9"/>
<rect x="102.4" y="221.9" width="10.8" height="5" rx="2.5" fill="#0a0a0a" fill-opacity="0.3"/>
<rect x="115.8" y="221.9" width="10.8" height="5" rx="2.5" fill="#0a0a0a" fill-opacity="0.3"/>
<rect x="129.2" y="221.9" width="10.8" height="5" rx="2.5" fill="#0a0a0a" fill-opacity="0.3"/>
</g></g>
<rect x="20.6" y="214.5" width="162.8" height="16.9" fill="none" stroke="#463c3b" stroke-width="1.4" />
<clipPath id="c3"><rect x="20" y="233.1" width="164" height="18.1"/></clipPath>
<rect x="20" y="233.1" width="164" height="18.1" fill="url(#g3)" />
<g clip-path="url(#c3)"><g filter="url(#bl2)">
<rect x="22" y="239.3" width="10.8" height="4.6" rx="2.3" fill="#0a0a0a" fill-opacity="0.74"/>
<rect x="35.4" y="239.7" width="10.8" height="4.6" rx="2.3" fill="#0a0a0a" fill-opacity="0.64"/>
<rect x="48.8" y="240.7" width="10.8" height="4.6" rx="2.3" fill="#0a0a0a" fill-opacity="0.57"/>
<rect x="62.2" y="240.9" width="10.8" height="4.6" rx="2.3" fill="#0a0a0a" fill-opacity="0.55"/>
<rect x="75.6" y="241.1" width="10.8" height="4.6" rx="2.3" fill="#0a0a0a" fill-opacity="0.53"/>
<rect x="89" y="241.3" width="10.8" height="4.6" rx="2.3" fill="#0a0a0a" fill-opacity="0.53"/>
<rect x="102.4" y="241.5" width="10.8" height="4.6" rx="2.3" fill="#0a0a0a" fill-opacity="0.78"/>
<rect x="115.8" y="241.5" width="10.8" height="4.6" rx="2.3" fill="#0a0a0a" fill-opacity="0.74"/>
<rect x="129.2" y="241.1" width="10.8" height="4.6" rx="2.3" fill="#0a0a0a" fill-opacity="0.74"/>
<rect x="142.6" y="239.9" width="10.8" height="4.6" rx="2.3" fill="#0a0a0a" fill-opacity="0.87"/>
<rect x="156" y="239.9" width="10.8" height="4.6" rx="2.3" fill="#0a0a0a" fill-opacity="0.69"/>
<rect x="169.4" y="239.9" width="10.8" height="4.6" rx="2.3" fill="#0a0a0a" fill-opacity="0.78"/>
</g></g>
<rect x="20.6" y="233.7" width="162.8" height="16.9" fill="none" stroke="#463c3b" stroke-width="1.4" />
<clipPath id="c4"><rect x="20" y="252.4" width="164" height="18.3"/></clipPath>
<rect x="20" y="252.4" width="164" height="18.3" fill="#f2f2f2" />
<g clip-path="url(#c4)"><g filter="url(#blF)">
<rect x="22" y="260.8" width="10.8" height="2.8" rx="1.4" fill="#0a0a0a" fill-opacity="0.65"/>
<rect x="35.4" y="260.7" width="10.8" height="3" rx="1.5" fill="#0a0a0a" fill-opacity="0.78"/>
<rect x="48.8" y="260.9" width="10.8" height="2.6" rx="1.3" fill="#0a0a0a" fill-opacity="0.55"/>
<rect x="62.2" y="261.9" width="10.8" height="2.2" rx="1.1" fill="#0a0a0a" fill-opacity="0.32"/>
<rect x="75.6" y="261.9" width="10.8" height="2.2" rx="1.1" fill="#0a0a0a" fill-opacity="0.2"/>
<rect x="89" y="261.7" width="10.8" height="2.2" rx="1.1" fill="#0a0a0a" fill-opacity="0.3"/>
<rect x="102.4" y="259.2" width="10.8" height="4" rx="2" fill="#0a0a0a" fill-opacity="1"/>
<rect x="115.8" y="259.3" width="10.8" height="3.4" rx="1.7" fill="#0a0a0a" fill-opacity="0.95"/>
<rect x="129.2" y="259.3" width="10.8" height="3" rx="1.5" fill="#0a0a0a" fill-opacity="0.9"/>
<rect x="142.6" y="258.6" width="10.8" height="2" rx="1" fill="#0a0a0a" fill-opacity="0.6"/>
<rect x="156" y="257.9" width="10.8" height="2.2" rx="1.1" fill="#0a0a0a" fill-opacity="0.8"/>
<rect x="169.4" y="257.5" width="10.8" height="2.2" rx="1.1" fill="#0a0a0a" fill-opacity="0.8"/>
</g></g>
<rect x="20.6" y="253" width="162.8" height="17.1" fill="none" stroke="#463c3b" stroke-width="1.4" />
<clipPath id="c5"><rect x="20" y="272" width="164" height="18.2"/></clipPath>
<rect x="20" y="272" width="164" height="18.2" fill="#e8e8e8" />
<g clip-path="url(#c5)"><g filter="url(#blF)">
<rect x="21.9" y="279.45" width="11" height="5.5" rx="2.75" fill="#0a0a0a" fill-opacity="0.32"/>
<rect x="22.1" y="282.6" width="10.6" height="3.2" rx="1.6" fill="#0a0a0a" fill-opacity="0.9"/>
<rect x="35.3" y="279.45" width="11" height="5.5" rx="2.75" fill="#0a0a0a" fill-opacity="0.33"/>
<rect x="35.5" y="282.6" width="10.6" height="3.2" rx="1.6" fill="#0a0a0a" fill-opacity="0.95"/>
<rect x="48.7" y="279.25" width="11" height="5.5" rx="2.75" fill="#0a0a0a" fill-opacity="0.32"/>
<rect x="48.9" y="282.4" width="10.6" height="3.2" rx="1.6" fill="#0a0a0a" fill-opacity="0.9"/>
<rect x="62.1" y="279.25" width="11" height="5.5" rx="2.75" fill="#0a0a0a" fill-opacity="0.26"/>
<rect x="62.3" y="282.4" width="10.6" height="3.2" rx="1.6" fill="#0a0a0a" fill-opacity="0.75"/>
<rect x="75.5" y="278.85" width="11" height="5.5" rx="2.75" fill="#0a0a0a" fill-opacity="0.21"/>
<rect x="75.7" y="282" width="10.6" height="3.2" rx="1.6" fill="#0a0a0a" fill-opacity="0.6"/>
<rect x="88.9" y="278.65" width="11" height="5.5" rx="2.75" fill="#0a0a0a" fill-opacity="0.09"/>
<rect x="89.1" y="281.8" width="10.6" height="3.2" rx="1.6" fill="#0a0a0a" fill-opacity="0.25"/>
<rect x="102.3" y="278.45" width="11" height="5.5" rx="2.75" fill="#0a0a0a" fill-opacity="0.32"/>
<rect x="102.5" y="281.6" width="10.6" height="3.2" rx="1.6" fill="#0a0a0a" fill-opacity="0.9"/>
<rect x="115.7" y="278.65" width="11" height="5.5" rx="2.75" fill="#0a0a0a" fill-opacity="0.32"/>
<rect x="115.9" y="281.8" width="10.6" height="3.2" rx="1.6" fill="#0a0a0a" fill-opacity="0.9"/>
<rect x="129.1" y="278.65" width="11" height="5.5" rx="2.75" fill="#0a0a0a" fill-opacity="0.32"/>
<rect x="129.3" y="281.8" width="10.6" height="3.2" rx="1.6" fill="#0a0a0a" fill-opacity="0.9"/>
<rect x="142.5" y="276.85" width="11" height="5.5" rx="2.75" fill="#0a0a0a" fill-opacity="0.3"/>
<rect x="142.7" y="280" width="10.6" height="3.2" rx="1.6" fill="#0a0a0a" fill-opacity="0.85"/>
<rect x="155.9" y="277.05" width="11" height="5.5" rx="2.75" fill="#0a0a0a" fill-opacity="0.3"/>
<rect x="156.1" y="280.2" width="10.6" height="3.2" rx="1.6" fill="#0a0a0a" fill-opacity="0.85"/>
<rect x="169.3" y="276.65" width="11" height="5.5" rx="2.75" fill="#0a0a0a" fill-opacity="0.3"/>
<rect x="169.5" y="279.8" width="10.6" height="3.2" rx="1.6" fill="#0a0a0a" fill-opacity="0.85"/>
</g></g>
<rect x="20.6" y="272.6" width="162.8" height="17" fill="none" stroke="#463c3b" stroke-width="1.4" />
<clipPath id="c6"><rect x="20" y="291.5" width="164" height="18.3"/></clipPath>
<rect x="20" y="291.5" width="164" height="18.3" fill="#f8f8f8" />
<g clip-path="url(#c6)"><g filter="url(#blF)">
<rect x="21.2" y="300" width="12.4" height="2.4" rx="1.2" fill="#0a0a0a" fill-opacity="0.95"/>
<rect x="34.6" y="299.8" width="12.4" height="2.4" rx="1.2" fill="#0a0a0a" fill-opacity="0.95"/>
<rect x="48" y="299.6" width="12.4" height="2.4" rx="1.2" fill="#0a0a0a" fill-opacity="0.95"/>
<rect x="61.4" y="299.4" width="12.4" height="2.4" rx="1.2" fill="#0a0a0a" fill-opacity="0.95"/>
<rect x="74.8" y="299.2" width="12.4" height="2.4" rx="1.2" fill="#0a0a0a" fill-opacity="0.95"/>
<rect x="88.2" y="299" width="12.4" height="2.4" rx="1.2" fill="#0a0a0a" fill-opacity="0.95"/>
<rect x="101.6" y="298.8" width="12.4" height="2.4" rx="1.2" fill="#0a0a0a" fill-opacity="0.95"/>
<rect x="115" y="298.6" width="12.4" height="2.4" rx="1.2" fill="#0a0a0a" fill-opacity="0.95"/>
<rect x="128.4" y="298.4" width="12.4" height="2.4" rx="1.2" fill="#0a0a0a" fill-opacity="0.95"/>
<rect x="141.8" y="298.2" width="12.4" height="2.4" rx="1.2" fill="#0a0a0a" fill-opacity="0.95"/>
<rect x="155.2" y="298" width="12.4" height="2.4" rx="1.2" fill="#0a0a0a" fill-opacity="0.95"/>
<rect x="168.6" y="297.8" width="12.4" height="2.4" rx="1.2" fill="#0a0a0a" fill-opacity="0.95"/>
</g></g>
<rect x="20.6" y="292.1" width="162.8" height="17.1" fill="none" stroke="#463c3b" stroke-width="1.4" />
<text x="181" y="166.2" font-size="13" text-anchor="start" fill="#231815" stroke="#231815" stroke-width="0.18" font-weight="bold">G</text>
<text x="270.3" y="166.2" font-size="9.6" text-anchor="middle" fill="#231815" stroke="#231815" stroke-width="0.18">gWAT</text>
<text x="226.8" y="175.4" font-size="9.2" text-anchor="middle" fill="#231815" stroke="#231815" stroke-width="0.18">VC</text>
<text x="307.4" y="175.4" font-size="9.2" text-anchor="middle" fill="#231815" stroke="#231815" stroke-width="0.18">CL4h</text>
<line x1="190.9" y1="177.2" x2="267.8" y2="177.2" stroke="#231815" stroke-width="1.5" stroke-linecap="butt"/>
<line x1="271.3" y1="177.2" x2="345.6" y2="177.2" stroke="#231815" stroke-width="1.5" stroke-linecap="butt"/>
<text x="206.5" y="191" font-size="9.2" text-anchor="middle" fill="#231815" stroke="#231815" stroke-width="0.18">WT</text>
<text x="248.6" y="191" font-size="9.2" text-anchor="middle" fill="#231815" stroke="#231815" stroke-width="0.18">AKO</text>
<text x="287.3" y="191" font-size="9.2" text-anchor="middle" fill="#231815" stroke="#231815" stroke-width="0.18">WT</text>
<text x="329.8" y="191" font-size="9.2" text-anchor="middle" fill="#231815" stroke="#231815" stroke-width="0.18">AKO</text>
<line x1="190" y1="193.3" x2="225.4" y2="193.3" stroke="#463c3b" stroke-width="2" stroke-linecap="butt"/>
<line x1="229" y1="193.3" x2="267.8" y2="193.3" stroke="#463c3b" stroke-width="2" stroke-linecap="butt"/>
<line x1="271.3" y1="193.3" x2="306.2" y2="193.3" stroke="#463c3b" stroke-width="2" stroke-linecap="butt"/>
<line x1="310" y1="193.3" x2="346.4" y2="193.3" stroke="#463c3b" stroke-width="2" stroke-linecap="butt"/>
<clipPath id="c7"><rect x="187.1" y="194.3" width="163.8" height="18.4"/></clipPath>
<rect x="187.1" y="194.3" width="163.8" height="18.4" fill="#fafafa" />
<g clip-path="url(#c7)"><g filter="url(#bl)">
<rect x="189.3" y="201.2" width="10.6" height="3.4" rx="1.7" fill="#0a0a0a" fill-opacity="0.93"/>
<rect x="202.72" y="201.7" width="10.6" height="3.4" rx="1.7" fill="#0a0a0a" fill-opacity="0.93"/>
<rect x="216.14" y="201.7" width="10.6" height="3.4" rx="1.7" fill="#0a0a0a" fill-opacity="0.84"/>
<rect x="229.56" y="201.3" width="10.6" height="3.4" rx="1.7" fill="#0a0a0a" fill-opacity="0.02"/>
<rect x="242.98" y="201.3" width="10.6" height="3.4" rx="1.7" fill="#0a0a0a" fill-opacity="0.02"/>
<rect x="256.4" y="201.3" width="10.6" height="3.4" rx="1.7" fill="#0a0a0a" fill-opacity="0.02"/>
<rect x="269.82" y="201.9" width="10.6" height="3.4" rx="1.7" fill="#0a0a0a" fill-opacity="0.93"/>
<rect x="283.24" y="201.9" width="10.6" height="3.4" rx="1.7" fill="#0a0a0a" fill-opacity="0.93"/>
<rect x="296.66" y="202.1" width="10.6" height="3.4" rx="1.7" fill="#0a0a0a" fill-opacity="0.93"/>
<rect x="310.08" y="201.3" width="10.6" height="3.4" rx="1.7" fill="#0a0a0a" fill-opacity="0.02"/>
<rect x="323.5" y="201.3" width="10.6" height="3.4" rx="1.7" fill="#0a0a0a" fill-opacity="0.02"/>
<rect x="336.92" y="201.3" width="10.6" height="3.4" rx="1.7" fill="#0a0a0a" fill-opacity="0.03"/>
</g></g>
<rect x="187.7" y="194.9" width="162.6" height="17.2" fill="none" stroke="#463c3b" stroke-width="1.4" />
<clipPath id="c8"><rect x="187.1" y="213.9" width="163.8" height="18.1"/></clipPath>
<rect x="187.1" y="213.9" width="163.8" height="18.1" fill="#f1f1f1" />
<g clip-path="url(#c8)"><g filter="url(#bl)">
<rect x="189.3" y="221.7" width="10.6" height="1.8" rx="0.9" fill="#0a0a0a" fill-opacity="0.38"/>
<rect x="202.72" y="221.5" width="10.6" height="1.8" rx="0.9" fill="#0a0a0a" fill-opacity="0.38"/>
<rect x="216.14" y="221.3" width="10.6" height="1.8" rx="0.9" fill="#0a0a0a" fill-opacity="0.33"/>
<rect x="229.56" y="221.3" width="10.6" height="1.8" rx="0.9" fill="#0a0a0a" fill-opacity="0.4"/>
<rect x="242.98" y="221.7" width="10.6" height="1.8" rx="0.9" fill="#0a0a0a" fill-opacity="0.31"/>
<rect x="256.4" y="221.9" width="10.6" height="1.8" rx="0.9" fill="#0a0a0a" fill-opacity="0.38"/>
<rect x="269.82" y="221.67" width="10.6" height="3.06" rx="1.53" fill="#0a0a0a" fill-opacity="0.95"/>
<rect x="283.24" y="221.67" width="10.6" height="3.06" rx="1.53" fill="#0a0a0a" fill-opacity="0.95"/>
<rect x="296.66" y="221.96" width="10.6" height="2.88" rx="1.44" fill="#0a0a0a" fill-opacity="0.92"/>
<rect x="310.08" y="223.32" width="10.6" height="2.16" rx="1.08" fill="#0a0a0a" fill-opacity="0.52"/>
<rect x="323.5" y="223.52" width="10.6" height="2.16" rx="1.08" fill="#0a0a0a" fill-opacity="0.57"/>
<rect x="336.92" y="223.72" width="10.6" height="2.16" rx="1.08" fill="#0a0a0a" fill-opacity="0.47"/>
</g></g>
<rect x="187.7" y="214.5" width="162.6" height="16.9" fill="none" stroke="#463c3b" stroke-width="1.4" />
<clipPath id="c9"><rect x="187.1" y="233.1" width="163.8" height="18.1"/></clipPath>
<rect x="187.1" y="233.1" width="163.8" height="18.1" fill="#f9f9f9" />
<g clip-path="url(#c9)"><g filter="url(#bl)">
<rect x="189" y="241.45" width="11.2" height="3.1" rx="1.55" fill="#0a0a0a" fill-opacity="0.95"/>
<rect x="202.42" y="240.85" width="11.2" height="3.1" rx="1.55" fill="#0a0a0a" fill-opacity="0.95"/>
<rect x="215.84" y="240.25" width="11.2" height="3.1" rx="1.55" fill="#0a0a0a" fill-opacity="0.95"/>
<rect x="229.26" y="239.85" width="11.2" height="3.1" rx="1.55" fill="#0a0a0a" fill-opacity="0.95"/>
<rect x="242.68" y="239.75" width="11.2" height="3.1" rx="1.55" fill="#0a0a0a" fill-opacity="0.95"/>
<rect x="256.1" y="239.95" width="11.2" height="3.1" rx="1.55" fill="#0a0a0a" fill-opacity="0.95"/>
<rect x="269.52" y="239.75" width="11.2" height="3.1" rx="1.55" fill="#0a0a0a" fill-opacity="0.95"/>
<rect x="282.94" y="239.55" width="11.2" height="3.1" rx="1.55" fill="#0a0a0a" fill-opacity="0.95"/>
<rect x="296.36" y="239.55" width="11.2" height="3.1" rx="1.55" fill="#0a0a0a" fill-opacity="0.95"/>
<rect x="309.78" y="239.75" width="11.2" height="3.1" rx="1.55" fill="#0a0a0a" fill-opacity="0.95"/>
<rect x="323.2" y="239.75" width="11.2" height="3.1" rx="1.55" fill="#0a0a0a" fill-opacity="0.95"/>
<rect x="336.62" y="239.45" width="11.2" height="3.1" rx="1.55" fill="#0a0a0a" fill-opacity="0.8"/>
</g></g>
<rect x="187.7" y="233.7" width="162.6" height="16.9" fill="none" stroke="#463c3b" stroke-width="1.4" />
<clipPath id="c10"><rect x="187.1" y="252.4" width="163.8" height="18.3"/></clipPath>
<rect x="187.1" y="252.4" width="163.8" height="18.3" fill="#f4f4f4" />
<g clip-path="url(#c10)"><g filter="url(#bl)">
<rect x="189.3" y="259.81" width="10.6" height="1.98" rx="0.99" fill="#0a0a0a" fill-opacity="0.19"/>
<rect x="202.72" y="259.61" width="10.6" height="1.98" rx="0.99" fill="#0a0a0a" fill-opacity="0.27"/>
<rect x="216.14" y="259.61" width="10.6" height="1.98" rx="0.99" fill="#0a0a0a" fill-opacity="0.19"/>
<rect x="229.56" y="259.61" width="10.6" height="1.98" rx="0.99" fill="#0a0a0a" fill-opacity="0.23"/>
<rect x="242.98" y="259.41" width="10.6" height="1.98" rx="0.99" fill="#0a0a0a" fill-opacity="0.19"/>
<rect x="256.4" y="259.21" width="10.6" height="1.98" rx="0.99" fill="#0a0a0a" fill-opacity="0.23"/>
<rect x="269.82" y="258.89" width="10.6" height="3.42" rx="1.71" fill="#0a0a0a" fill-opacity="0.95"/>
<rect x="283.24" y="258.89" width="10.6" height="3.42" rx="1.71" fill="#0a0a0a" fill-opacity="0.95"/>
<rect x="296.66" y="258.18" width="10.6" height="3.24" rx="1.62" fill="#0a0a0a" fill-opacity="0.95"/>
<rect x="310.08" y="258.54" width="10.6" height="2.52" rx="1.26" fill="#0a0a0a" fill-opacity="0.66"/>
<rect x="323.5" y="258.74" width="10.6" height="2.52" rx="1.26" fill="#0a0a0a" fill-opacity="0.62"/>
<rect x="336.92" y="258.94" width="10.6" height="2.52" rx="1.26" fill="#0a0a0a" fill-opacity="0.62"/>
</g></g>
<rect x="187.7" y="253" width="162.6" height="17.1" fill="none" stroke="#463c3b" stroke-width="1.4" />
<clipPath id="c11"><rect x="187.1" y="272" width="163.8" height="18.2"/></clipPath>
<rect x="187.1" y="272" width="163.8" height="18.2" fill="#dcdcdc" />
<g clip-path="url(#c11)"><g filter="url(#bl2)">
<rect x="189.4" y="279.7" width="10.4" height="7" rx="3.5" fill="#0a0a0a" fill-opacity="0.34"/>
<rect x="189.3" y="278.1" width="10.6" height="3" rx="1.5" fill="#0a0a0a" fill-opacity="0.65"/>
<rect x="202.82" y="279.7" width="10.4" height="7" rx="3.5" fill="#0a0a0a" fill-opacity="0.3"/>
<rect x="202.72" y="278.1" width="10.6" height="3" rx="1.5" fill="#0a0a0a" fill-opacity="0.58"/>
<rect x="216.24" y="279.7" width="10.4" height="7" rx="3.5" fill="#0a0a0a" fill-opacity="0.34"/>
<rect x="216.14" y="278.1" width="10.6" height="3" rx="1.5" fill="#0a0a0a" fill-opacity="0.65"/>
<rect x="229.66" y="279.7" width="10.4" height="7" rx="3.5" fill="#0a0a0a" fill-opacity="0.41"/>
<rect x="229.56" y="278.1" width="10.6" height="3" rx="1.5" fill="#0a0a0a" fill-opacity="0.8"/>
<rect x="243.08" y="279.7" width="10.4" height="7" rx="3.5" fill="#0a0a0a" fill-opacity="0.41"/>
<rect x="242.98" y="278.1" width="10.6" height="3" rx="1.5" fill="#0a0a0a" fill-opacity="0.8"/>
<rect x="256.5" y="279.7" width="10.4" height="7" rx="3.5" fill="#0a0a0a" fill-opacity="0.45"/>
<rect x="256.4" y="278.1" width="10.6" height="3" rx="1.5" fill="#0a0a0a" fill-opacity="0.87"/>
<rect x="269.92" y="279.7" width="10.4" height="7" rx="3.5" fill="#0a0a0a" fill-opacity="0.38"/>
<rect x="269.82" y="278.1" width="10.6" height="3" rx="1.5" fill="#0a0a0a" fill-opacity="0.72"/>
<rect x="283.34" y="279.7" width="10.4" height="7" rx="3.5" fill="#0a0a0a" fill-opacity="0.38"/>
<rect x="283.24" y="278.1" width="10.6" height="3" rx="1.5" fill="#0a0a0a" fill-opacity="0.72"/>
<rect x="296.76" y="279.7" width="10.4" height="7" rx="3.5" fill="#0a0a0a" fill-opacity="0.34"/>
<rect x="296.66" y="278.1" width="10.6" height="3" rx="1.5" fill="#0a0a0a" fill-opacity="0.65"/>
<rect x="310.18" y="280.6" width="10.4" height="7" rx="3.5" fill="#0a0a0a" fill-opacity="0.38"/>
<rect x="310.08" y="279.9" width="10.6" height="3" rx="1.5" fill="#0a0a0a" fill-opacity="0.72"/>
<rect x="323.6" y="280.6" width="10.4" height="7" rx="3.5" fill="#0a0a0a" fill-opacity="0.41"/>
<rect x="323.5" y="279.9" width="10.6" height="3" rx="1.5" fill="#0a0a0a" fill-opacity="0.8"/>
<rect x="337.02" y="280.6" width="10.4" height="7" rx="3.5" fill="#0a0a0a" fill-opacity="0.41"/>
<rect x="336.92" y="279.9" width="10.6" height="3" rx="1.5" fill="#0a0a0a" fill-opacity="0.8"/>
</g></g>
<rect x="187.7" y="272.6" width="162.6" height="17" fill="none" stroke="#463c3b" stroke-width="1.4" />
<clipPath id="c12"><rect x="187.1" y="291.5" width="163.8" height="18.3"/></clipPath>
<rect x="187.1" y="291.5" width="163.8" height="18.3" fill="#fbfbfb" />
<g clip-path="url(#c12)"><g filter="url(#bl)">
<rect x="188.9" y="299.25" width="11.4" height="2.7" rx="1.35" fill="#0a0a0a" fill-opacity="0.97"/>
<rect x="202.32" y="299.2" width="11.4" height="2.7" rx="1.35" fill="#0a0a0a" fill-opacity="0.97"/>
<rect x="215.74" y="299.15" width="11.4" height="2.7" rx="1.35" fill="#0a0a0a" fill-opacity="0.97"/>
<rect x="229.16" y="299.1" width="11.4" height="2.7" rx="1.35" fill="#0a0a0a" fill-opacity="0.97"/>
<rect x="242.58" y="299.05" width="11.4" height="2.7" rx="1.35" fill="#0a0a0a" fill-opacity="0.97"/>
<rect x="256" y="299" width="11.4" height="2.7" rx="1.35" fill="#0a0a0a" fill-opacity="0.97"/>
<rect x="269.42" y="298.95" width="11.4" height="2.7" rx="1.35" fill="#0a0a0a" fill-opacity="0.97"/>
<rect x="282.84" y="298.9" width="11.4" height="2.7" rx="1.35" fill="#0a0a0a" fill-opacity="0.97"/>
<rect x="296.26" y="298.85" width="11.4" height="2.7" rx="1.35" fill="#0a0a0a" fill-opacity="0.97"/>
<rect x="309.68" y="298.8" width="11.4" height="2.7" rx="1.35" fill="#0a0a0a" fill-opacity="0.97"/>
<rect x="323.1" y="298.75" width="11.4" height="2.7" rx="1.35" fill="#0a0a0a" fill-opacity="0.97"/>
<rect x="336.52" y="298.7" width="11.4" height="2.7" rx="1.35" fill="#0a0a0a" fill-opacity="0.97"/>
</g></g>
<rect x="187.7" y="292.1" width="162.6" height="17.1" fill="none" stroke="#463c3b" stroke-width="1.4" />
<text x="353.2" y="202.2" font-size="8.3" text-anchor="start" fill="#231815" stroke="#231815" stroke-width="0.18">TMEM120A</text>
<text x="353.2" y="209.7" font-size="6.8" text-anchor="start" fill="#231815" stroke="#231815" stroke-width="0.18">(36 kDa)</text>
<text x="353.2" y="221" font-size="8.3" text-anchor="start" fill="#231815" stroke="#231815" stroke-width="0.18">p-HSL(Ser 660)</text>
<text x="353.2" y="229.4" font-size="6.8" text-anchor="start" fill="#231815" stroke="#231815" stroke-width="0.18">(81 kDa)</text>
<text x="353.2" y="241.2" font-size="8.3" text-anchor="start" fill="#231815" stroke="#231815" stroke-width="0.18">HSL</text>
<text x="353.2" y="249.4" font-size="6.8" text-anchor="start" fill="#231815" stroke="#231815" stroke-width="0.18">(81 kDa)</text>
<text x="353.2" y="260.1" font-size="8.3" text-anchor="start" fill="#231815" stroke="#231815" stroke-width="0.18">p-PLIN1(Ser 517)</text>
<text x="353.2" y="268.3" font-size="6.8" text-anchor="start" fill="#231815" stroke="#231815" stroke-width="0.18">(57 kDa)</text>
<text x="353.2" y="279" font-size="8.3" text-anchor="start" fill="#231815" stroke="#231815" stroke-width="0.18">PLIN1</text>
<text x="353.2" y="287.4" font-size="6.8" text-anchor="start" fill="#231815" stroke="#231815" stroke-width="0.18">(57 kDa)</text>
<text x="353.2" y="298.7" font-size="8.3" text-anchor="start" fill="#231815" stroke="#231815" stroke-width="0.18">Tubulin</text>
<text x="353.2" y="306.7" font-size="6.8" text-anchor="start" fill="#231815" stroke="#231815" stroke-width="0.18">(55 kDa)</text>
<text x="426.7" y="166.2" font-size="13" text-anchor="start" fill="#231815" stroke="#231815" stroke-width="0.18" font-weight="bold">H</text>
<text x="504.4" y="167.8" font-size="9.4" text-anchor="middle" fill="#231815" stroke="#231815" stroke-width="0.18">iWAT</text>
<line x1="462" y1="173.3" x2="545.6" y2="173.3" stroke="#231815" stroke-width="1.2" stroke-linecap="butt"/>
<text x="472.9" y="185.3" font-size="8" text-anchor="middle" fill="#231815" stroke="#231815" stroke-width="0.18">TMEM120A</text>
<text x="472.5" y="194.9" font-size="8" text-anchor="middle" fill="#231815" stroke="#231815" stroke-width="0.18">/Tubulin</text>
<text x="507.4" y="185.3" font-size="8" text-anchor="middle" fill="#231815" stroke="#231815" stroke-width="0.18">p-HSL</text>
<text x="507.5" y="194.9" font-size="8" text-anchor="middle" fill="#231815" stroke="#231815" stroke-width="0.18">/HSL</text>
<text x="539" y="185.3" font-size="8" text-anchor="middle" fill="#231815" stroke="#231815" stroke-width="0.18">p-PLIN1</text>
<text x="539" y="194.9" font-size="8" text-anchor="middle" fill="#231815" stroke="#231815" stroke-width="0.18">/PLIN1</text>
<text x="0" y="0" font-size="8.5" text-anchor="middle" fill="#231815" stroke="#231815" stroke-width="0.18" transform="translate(444.5 248.8) rotate(-90)">Relative to WT VC</text>
<rect x="460" y="284.49" width="6" height="12.21" fill="#000000" />
<line x1="463" y1="283.27" x2="463" y2="284.99" stroke="#000000" stroke-width="1.2" stroke-linecap="butt"/>
<line x1="461" y1="283.27" x2="465" y2="283.27" stroke="#000000" stroke-width="1.2" stroke-linecap="butt"/>
<circle cx="463" cy="282.29" r="2.05" fill="#ffffff" stroke="#000000" stroke-width="1.5"/>
<circle cx="463" cy="285.71" r="2.05" fill="#ffffff" stroke="#000000" stroke-width="1.5"/>
<rect x="467.4" y="293.65" width="6.2" height="3.05" fill="#fb7f81" />
<rect x="468.25" y="293.23" width="4.5" height="4.5" fill="#ffffff" stroke="#fb7f81" stroke-width="1.3" />
<rect x="475.6" y="284.49" width="6.1" height="12.21" fill="#000000" />
<line x1="478.65" y1="283.02" x2="478.65" y2="284.99" stroke="#000000" stroke-width="1.2" stroke-linecap="butt"/>
<line x1="476.65" y1="283.02" x2="480.65" y2="283.02" stroke="#000000" stroke-width="1.2" stroke-linecap="butt"/>
<circle cx="478.65" cy="281.44" r="2.05" fill="#ffffff" stroke="#000000" stroke-width="1.5"/>
<circle cx="478.65" cy="285.71" r="2.05" fill="#ffffff" stroke="#000000" stroke-width="1.5"/>
<rect x="483.3" y="293.65" width="6.1" height="3.05" fill="#fb7f81" />
<rect x="484.1" y="293.23" width="4.5" height="4.5" fill="#ffffff" stroke="#fb7f81" stroke-width="1.3" />
<rect x="491.5" y="283.88" width="6.1" height="12.82" fill="#000000" />
<line x1="494.55" y1="281.44" x2="494.55" y2="284.38" stroke="#000000" stroke-width="1.2" stroke-linecap="butt"/>
<line x1="492.55" y1="281.44" x2="496.55" y2="281.44" stroke="#000000" stroke-width="1.2" stroke-linecap="butt"/>
<circle cx="494.55" cy="279" r="2.05" fill="#ffffff" stroke="#000000" stroke-width="1.5"/>
<circle cx="494.55" cy="284.49" r="2.05" fill="#ffffff" stroke="#000000" stroke-width="1.5"/>
<circle cx="494.55" cy="288.76" r="2.05" fill="#ffffff" stroke="#000000" stroke-width="1.5"/>
<rect x="499.4" y="274.11" width="6.2" height="22.59" fill="#fb7f81" />
<rect x="500.25" y="271.25" width="4.5" height="4.5" fill="#ffffff" stroke="#fb7f81" stroke-width="1.3" />
<rect x="500.25" y="275.52" width="4.5" height="4.5" fill="#ffffff" stroke="#fb7f81" stroke-width="1.3" />
<rect x="500.25" y="281.63" width="4.5" height="4.5" fill="#ffffff" stroke="#fb7f81" stroke-width="1.3" />
<rect x="507.1" y="241.14" width="6.2" height="55.56" fill="#000000" />
<line x1="510.2" y1="236.26" x2="510.2" y2="241.64" stroke="#000000" stroke-width="1.2" stroke-linecap="butt"/>
<line x1="508.2" y1="236.26" x2="512.2" y2="236.26" stroke="#000000" stroke-width="1.2" stroke-linecap="butt"/>
<circle cx="510.2" cy="222.83" r="2.05" fill="#ffffff" stroke="#000000" stroke-width="1.5"/>
<circle cx="510.2" cy="231.99" r="2.05" fill="#ffffff" stroke="#000000" stroke-width="1.5"/>
<circle cx="510.2" cy="242.37" r="2.05" fill="#ffffff" stroke="#000000" stroke-width="1.5"/>
<circle cx="510.2" cy="246.64" r="2.05" fill="#ffffff" stroke="#000000" stroke-width="1.5"/>
<circle cx="510.2" cy="250.91" r="2.05" fill="#ffffff" stroke="#000000" stroke-width="1.5"/>
<circle cx="510.2" cy="254.58" r="2.05" fill="#ffffff" stroke="#000000" stroke-width="1.5"/>
<rect x="514.9" y="259.46" width="6.3" height="37.24" fill="#fb7f81" />
<rect x="515.8" y="261.48" width="4.5" height="4.5" fill="#ffffff" stroke="#fb7f81" stroke-width="1.3" />
<rect x="515.8" y="267.59" width="4.5" height="4.5" fill="#ffffff" stroke="#fb7f81" stroke-width="1.3" />
<rect x="515.8" y="273.69" width="4.5" height="4.5" fill="#ffffff" stroke="#fb7f81" stroke-width="1.3" />
<rect x="523" y="284.49" width="6.1" height="12.21" fill="#000000" />
<line x1="526.05" y1="283.02" x2="526.05" y2="284.99" stroke="#000000" stroke-width="1.2" stroke-linecap="butt"/>
<line x1="524.05" y1="283.02" x2="528.05" y2="283.02" stroke="#000000" stroke-width="1.2" stroke-linecap="butt"/>
<circle cx="526.05" cy="281.07" r="2.05" fill="#ffffff" stroke="#000000" stroke-width="1.5"/>
<circle cx="526.05" cy="285.1" r="2.05" fill="#ffffff" stroke="#000000" stroke-width="1.5"/>
<rect x="530.6" y="278.38" width="6.2" height="18.31" fill="#fb7f81" />
<rect x="531.45" y="278.58" width="4.5" height="4.5" fill="#ffffff" stroke="#fb7f81" stroke-width="1.3" />
<rect x="531.45" y="284.07" width="4.5" height="4.5" fill="#ffffff" stroke="#fb7f81" stroke-width="1.3" />
<rect x="531.45" y="289.57" width="4.5" height="4.5" fill="#ffffff" stroke="#fb7f81" stroke-width="1.3" />
<rect x="538.6" y="268.62" width="6.2" height="28.08" fill="#000000" />
<line x1="541.7" y1="266.18" x2="541.7" y2="269.12" stroke="#000000" stroke-width="1.2" stroke-linecap="butt"/>
<line x1="539.7" y1="266.18" x2="543.7" y2="266.18" stroke="#000000" stroke-width="1.2" stroke-linecap="butt"/>
<circle cx="541.7" cy="265.56" r="2.05" fill="#ffffff" stroke="#000000" stroke-width="1.5"/>
<circle cx="541.7" cy="269.23" r="2.05" fill="#ffffff" stroke="#000000" stroke-width="1.5"/>
<circle cx="541.7" cy="274.11" r="2.05" fill="#ffffff" stroke="#000000" stroke-width="1.5"/>
<circle cx="541.7" cy="278.38" r="2.05" fill="#ffffff" stroke="#000000" stroke-width="1.5"/>
<rect x="546.3" y="271.67" width="6.3" height="25.03" fill="#fb7f81" />
<rect x="547.2" y="272.47" width="4.5" height="4.5" fill="#ffffff" stroke="#fb7f81" stroke-width="1.3" />
<rect x="547.2" y="279.8" width="4.5" height="4.5" fill="#ffffff" stroke="#fb7f81" stroke-width="1.3" />
<rect x="547.2" y="285.29" width="4.5" height="4.5" fill="#ffffff" stroke="#fb7f81" stroke-width="1.3" />
<line x1="490.7" y1="199" x2="490.7" y2="296.7" stroke="#231815" stroke-width="1.3" stroke-linecap="butt" stroke-dasharray="4.0 3.5"/>
<line x1="522.2" y1="199" x2="522.2" y2="296.7" stroke="#231815" stroke-width="1.3" stroke-linecap="butt" stroke-dasharray="4.0 3.5"/>
<line x1="457.2" y1="198.4" x2="457.2" y2="297.4" stroke="#000000" stroke-width="1.4" stroke-linecap="butt"/>
<line x1="456.5" y1="296.7" x2="556.4" y2="296.7" stroke="#000000" stroke-width="1.4" stroke-linecap="butt"/>
<line x1="453.2" y1="296.7" x2="457.2" y2="296.7" stroke="#000000" stroke-width="1.1" stroke-linecap="butt"/>
<text x="452.4" y="299.7" font-size="8.5" text-anchor="end" fill="#231815" stroke="#231815" stroke-width="0.18">0</text>
<line x1="453.2" y1="272.28" x2="457.2" y2="272.28" stroke="#000000" stroke-width="1.1" stroke-linecap="butt"/>
<text x="452.4" y="275.28" font-size="8.5" text-anchor="end" fill="#231815" stroke="#231815" stroke-width="0.18">2</text>
<line x1="453.2" y1="247.86" x2="457.2" y2="247.86" stroke="#000000" stroke-width="1.1" stroke-linecap="butt"/>
<text x="452.4" y="250.86" font-size="8.5" text-anchor="end" fill="#231815" stroke="#231815" stroke-width="0.18">4</text>
<line x1="453.2" y1="223.44" x2="457.2" y2="223.44" stroke="#000000" stroke-width="1.1" stroke-linecap="butt"/>
<text x="452.4" y="226.44" font-size="8.5" text-anchor="end" fill="#231815" stroke="#231815" stroke-width="0.18">6</text>
<line x1="453.2" y1="199.02" x2="457.2" y2="199.02" stroke="#000000" stroke-width="1.1" stroke-linecap="butt"/>
<text x="452.4" y="202.02" font-size="8.5" text-anchor="end" fill="#231815" stroke="#231815" stroke-width="0.18">8</text>
<text x="465.5" y="309.6" font-size="8.9" text-anchor="middle" fill="#231815" stroke="#231815" stroke-width="0.18">VC</text>
<text x="482.5" y="309.6" font-size="8.9" text-anchor="middle" fill="#231815" stroke="#231815" stroke-width="0.18">CL</text>
<text x="497.5" y="309.6" font-size="8.9" text-anchor="middle" fill="#231815" stroke="#231815" stroke-width="0.18">VC</text>
<text x="514" y="309.6" font-size="8.9" text-anchor="middle" fill="#231815" stroke="#231815" stroke-width="0.18">CL</text>
<text x="529" y="309.6" font-size="8.9" text-anchor="middle" fill="#231815" stroke="#231815" stroke-width="0.18">VC</text>
<text x="545.4" y="309.6" font-size="8.9" text-anchor="middle" fill="#231815" stroke="#231815" stroke-width="0.18">CL</text>
<line x1="462.4" y1="275.9" x2="470.8" y2="275.9" stroke="#231815" stroke-width="1.2" stroke-linecap="butt"/>
<text x="0" y="0" font-size="8.6" text-anchor="middle" fill="#231815" stroke="#231815" stroke-width="0.18" transform="translate(466.6 275.4) scale(0.95 1)">****</text>
<line x1="478.2" y1="275.9" x2="486.6" y2="275.9" stroke="#231815" stroke-width="1.2" stroke-linecap="butt"/>
<text x="0" y="0" font-size="8.6" text-anchor="middle" fill="#231815" stroke="#231815" stroke-width="0.18" transform="translate(482.4 275.4) scale(0.95 1)">****</text>
<line x1="510" y1="217" x2="517.4" y2="217" stroke="#231815" stroke-width="1.2" stroke-linecap="butt"/>
<text x="0" y="0" font-size="8.6" text-anchor="middle" fill="#231815" stroke="#231815" stroke-width="0.18" transform="translate(513.7 216.5) scale(0.95 1)">****</text>
<line x1="540.5" y1="259.5" x2="549.5" y2="259.5" stroke="#231815" stroke-width="1.2" stroke-linecap="butt"/>
<text x="0" y="0" font-size="8.6" text-anchor="middle" fill="#231815" stroke="#231815" stroke-width="0.18" transform="translate(545 259) scale(0.95 1)">**</text>
<text x="623" y="168" font-size="9.4" text-anchor="middle" fill="#231815" stroke="#231815" stroke-width="0.18">gWAT</text>
<line x1="581.5" y1="173.3" x2="663.8" y2="173.3" stroke="#231815" stroke-width="1.2" stroke-linecap="butt"/>
<text x="590" y="185.3" font-size="8" text-anchor="middle" fill="#231815" stroke="#231815" stroke-width="0.18">TMEM120A</text>
<text x="589.7" y="194.9" font-size="8" text-anchor="middle" fill="#231815" stroke="#231815" stroke-width="0.18">/Tubulin</text>
<text x="625.7" y="185.3" font-size="8" text-anchor="middle" fill="#231815" stroke="#231815" stroke-width="0.18">p-HSL</text>
<text x="625.7" y="194.9" font-size="8" text-anchor="middle" fill="#231815" stroke="#231815" stroke-width="0.18">/HSL</text>
<text x="656" y="185.3" font-size="8" text-anchor="middle" fill="#231815" stroke="#231815" stroke-width="0.18">p-PLIN1</text>
<text x="656.3" y="194.9" font-size="8" text-anchor="middle" fill="#231815" stroke="#231815" stroke-width="0.18">/PLIN1</text>
<rect x="578.2" y="277.02" width="6.1" height="19.48" fill="#000000" />
<line x1="581.25" y1="275.46" x2="581.25" y2="277.52" stroke="#000000" stroke-width="1.2" stroke-linecap="butt"/>
<line x1="579.25" y1="275.46" x2="583.25" y2="275.46" stroke="#000000" stroke-width="1.2" stroke-linecap="butt"/>
<circle cx="581.25" cy="272.73" r="2.05" fill="#ffffff" stroke="#000000" stroke-width="1.5"/>
<circle cx="581.25" cy="278.58" r="2.05" fill="#ffffff" stroke="#000000" stroke-width="1.5"/>
<rect x="585.6" y="292.6" width="6.1" height="3.9" fill="#fb7f81" />
<rect x="586.4" y="292.69" width="4.5" height="4.5" fill="#ffffff" stroke="#fb7f81" stroke-width="1.3" />
<rect x="593.8" y="277.02" width="6.1" height="19.48" fill="#000000" />
<line x1="596.85" y1="275.85" x2="596.85" y2="277.52" stroke="#000000" stroke-width="1.2" stroke-linecap="butt"/>
<line x1="594.85" y1="275.85" x2="598.85" y2="275.85" stroke="#000000" stroke-width="1.2" stroke-linecap="butt"/>
<circle cx="596.85" cy="274.1" r="2.05" fill="#ffffff" stroke="#000000" stroke-width="1.5"/>
<circle cx="596.85" cy="277.99" r="2.05" fill="#ffffff" stroke="#000000" stroke-width="1.5"/>
<rect x="601.3" y="292.6" width="6.1" height="3.9" fill="#fb7f81" />
<rect x="602.1" y="292.69" width="4.5" height="4.5" fill="#ffffff" stroke="#fb7f81" stroke-width="1.3" />
<rect x="609.4" y="277.02" width="6.2" height="19.48" fill="#000000" />
<line x1="612.5" y1="273.12" x2="612.5" y2="277.52" stroke="#000000" stroke-width="1.2" stroke-linecap="butt"/>
<line x1="610.5" y1="273.12" x2="614.5" y2="273.12" stroke="#000000" stroke-width="1.2" stroke-linecap="butt"/>
<circle cx="612.5" cy="266.31" r="2.05" fill="#ffffff" stroke="#000000" stroke-width="1.5"/>
<circle cx="612.5" cy="273.12" r="2.05" fill="#ffffff" stroke="#000000" stroke-width="1.5"/>
<circle cx="612.5" cy="277.41" r="2.05" fill="#ffffff" stroke="#000000" stroke-width="1.5"/>
<circle cx="612.5" cy="282.47" r="2.05" fill="#ffffff" stroke="#000000" stroke-width="1.5"/>
<rect x="617" y="277.02" width="6.2" height="19.48" fill="#fb7f81" />
<rect x="617.85" y="277.5" width="4.5" height="4.5" fill="#ffffff" stroke="#fb7f81" stroke-width="1.3" />
<rect x="617.85" y="284.51" width="4.5" height="4.5" fill="#ffffff" stroke="#fb7f81" stroke-width="1.3" />
<rect x="624.8" y="252.09" width="6.2" height="44.41" fill="#000000" />
<line x1="627.9" y1="245.66" x2="627.9" y2="252.59" stroke="#000000" stroke-width="1.2" stroke-linecap="butt"/>
<line x1="625.9" y1="245.66" x2="629.9" y2="245.66" stroke="#000000" stroke-width="1.2" stroke-linecap="butt"/>
<circle cx="627.9" cy="236.11" r="2.05" fill="#ffffff" stroke="#000000" stroke-width="1.5"/>
<circle cx="627.9" cy="240.98" r="2.05" fill="#ffffff" stroke="#000000" stroke-width="1.5"/>
<circle cx="627.9" cy="262.41" r="2.05" fill="#ffffff" stroke="#000000" stroke-width="1.5"/>
<circle cx="627.9" cy="268.25" r="2.05" fill="#ffffff" stroke="#000000" stroke-width="1.5"/>
<rect x="632.6" y="271.18" width="6.3" height="25.32" fill="#fb7f81" />
<line x1="635.75" y1="268.64" x2="635.75" y2="271.68" stroke="#fb7f81" stroke-width="1.2" stroke-linecap="butt"/>
<line x1="633.75" y1="268.64" x2="637.75" y2="268.64" stroke="#fb7f81" stroke-width="1.2" stroke-linecap="butt"/>
<rect x="633.5" y="255.87" width="4.5" height="4.5" fill="#ffffff" stroke="#fb7f81" stroke-width="1.3" />
<rect x="633.5" y="259.77" width="4.5" height="4.5" fill="#ffffff" stroke="#fb7f81" stroke-width="1.3" />
<rect x="633.5" y="270.48" width="4.5" height="4.5" fill="#ffffff" stroke="#fb7f81" stroke-width="1.3" />
<rect x="633.5" y="274.77" width="4.5" height="4.5" fill="#ffffff" stroke="#fb7f81" stroke-width="1.3" />
<rect x="633.5" y="283.54" width="4.5" height="4.5" fill="#ffffff" stroke="#fb7f81" stroke-width="1.3" />
<rect x="640.9" y="277.02" width="6.2" height="19.48" fill="#000000" />
<line x1="644" y1="274.1" x2="644" y2="277.52" stroke="#000000" stroke-width="1.2" stroke-linecap="butt"/>
<line x1="642" y1="274.1" x2="646" y2="274.1" stroke="#000000" stroke-width="1.2" stroke-linecap="butt"/>
<circle cx="644" cy="270.01" r="2.05" fill="#ffffff" stroke="#000000" stroke-width="1.5"/>
<circle cx="644" cy="276.05" r="2.05" fill="#ffffff" stroke="#000000" stroke-width="1.5"/>
<circle cx="644" cy="279.94" r="2.05" fill="#ffffff" stroke="#000000" stroke-width="1.5"/>
<rect x="648.5" y="275.07" width="6.2" height="21.43" fill="#fb7f81" />
<rect x="649.35" y="274.77" width="4.5" height="4.5" fill="#ffffff" stroke="#fb7f81" stroke-width="1.3" />
<rect x="649.35" y="281.59" width="4.5" height="4.5" fill="#ffffff" stroke="#fb7f81" stroke-width="1.3" />
<rect x="656.2" y="222.48" width="6.2" height="74.02" fill="#000000" />
<line x1="659.3" y1="220.14" x2="659.3" y2="222.98" stroke="#000000" stroke-width="1.2" stroke-linecap="butt"/>
<line x1="657.3" y1="220.14" x2="661.3" y2="220.14" stroke="#000000" stroke-width="1.2" stroke-linecap="butt"/>
<circle cx="659.3" cy="220.53" r="2.05" fill="#ffffff" stroke="#000000" stroke-width="1.5"/>
<circle cx="659.3" cy="225.98" r="2.05" fill="#ffffff" stroke="#000000" stroke-width="1.5"/>
<circle cx="659.3" cy="232.22" r="2.05" fill="#ffffff" stroke="#000000" stroke-width="1.5"/>
<rect x="663.8" y="241.96" width="6.4" height="54.54" fill="#fb7f81" />
<rect x="664.75" y="228.41" width="4.5" height="4.5" fill="#ffffff" stroke="#fb7f81" stroke-width="1.3" />
<rect x="664.75" y="234.25" width="4.5" height="4.5" fill="#ffffff" stroke="#fb7f81" stroke-width="1.3" />
<rect x="664.75" y="240.49" width="4.5" height="4.5" fill="#ffffff" stroke="#fb7f81" stroke-width="1.3" />
<rect x="664.75" y="250.81" width="4.5" height="4.5" fill="#ffffff" stroke="#fb7f81" stroke-width="1.3" />
<rect x="664.75" y="261.33" width="4.5" height="4.5" fill="#ffffff" stroke="#fb7f81" stroke-width="1.3" />
<line x1="608.3" y1="199.1" x2="608.3" y2="296.5" stroke="#231815" stroke-width="1.3" stroke-linecap="butt" stroke-dasharray="4.0 3.5"/>
<line x1="639.8" y1="199.1" x2="639.8" y2="296.5" stroke="#231815" stroke-width="1.3" stroke-linecap="butt" stroke-dasharray="4.0 3.5"/>
<line x1="572.8" y1="198.5" x2="572.8" y2="297.2" stroke="#000000" stroke-width="1.4" stroke-linecap="butt"/>
<line x1="572.1" y1="296.5" x2="672.8" y2="296.5" stroke="#000000" stroke-width="1.4" stroke-linecap="butt"/>
<line x1="568.8" y1="296.5" x2="572.8" y2="296.5" stroke="#000000" stroke-width="1.1" stroke-linecap="butt"/>
<text x="569.2" y="299.5" font-size="8.5" text-anchor="end" fill="#231815" stroke="#231815" stroke-width="0.18">0</text>
<line x1="568.8" y1="277.02" x2="572.8" y2="277.02" stroke="#000000" stroke-width="1.1" stroke-linecap="butt"/>
<text x="569.2" y="280.02" font-size="8.5" text-anchor="end" fill="#231815" stroke="#231815" stroke-width="0.18">1</text>
<line x1="568.8" y1="257.54" x2="572.8" y2="257.54" stroke="#000000" stroke-width="1.1" stroke-linecap="butt"/>
<text x="569.2" y="260.54" font-size="8.5" text-anchor="end" fill="#231815" stroke="#231815" stroke-width="0.18">2</text>
<line x1="568.8" y1="238.06" x2="572.8" y2="238.06" stroke="#000000" stroke-width="1.1" stroke-linecap="butt"/>
<text x="569.2" y="241.06" font-size="8.5" text-anchor="end" fill="#231815" stroke="#231815" stroke-width="0.18">3</text>
<line x1="568.8" y1="218.58" x2="572.8" y2="218.58" stroke="#000000" stroke-width="1.1" stroke-linecap="butt"/>
<text x="569.2" y="221.58" font-size="8.5" text-anchor="end" fill="#231815" stroke="#231815" stroke-width="0.18">4</text>
<line x1="568.8" y1="199.1" x2="572.8" y2="199.1" stroke="#000000" stroke-width="1.1" stroke-linecap="butt"/>
<text x="569.2" y="202.1" font-size="8.5" text-anchor="end" fill="#231815" stroke="#231815" stroke-width="0.18">5</text>
<text x="584.2" y="309.6" font-size="8.9" text-anchor="middle" fill="#231815" stroke="#231815" stroke-width="0.18">VC</text>
<text x="600" y="309.6" font-size="8.9" text-anchor="middle" fill="#231815" stroke="#231815" stroke-width="0.18">CL</text>
<text x="615.7" y="309.6" font-size="8.9" text-anchor="middle" fill="#231815" stroke="#231815" stroke-width="0.18">VC</text>
<text x="632" y="309.6" font-size="8.9" text-anchor="middle" fill="#231815" stroke="#231815" stroke-width="0.18">CL</text>
<text x="647.7" y="309.6" font-size="8.9" text-anchor="middle" fill="#231815" stroke="#231815" stroke-width="0.18">VC</text>
<text x="663.6" y="309.6" font-size="8.9" text-anchor="middle" fill="#231815" stroke="#231815" stroke-width="0.18">CL</text>
<line x1="580.8" y1="265.5" x2="588.8" y2="265.5" stroke="#231815" stroke-width="1.2" stroke-linecap="butt"/>
<text x="0" y="0" font-size="8.6" text-anchor="middle" fill="#231815" stroke="#231815" stroke-width="0.18" transform="translate(584.8 265) scale(0.95 1)">****</text>
<line x1="596.2" y1="265.5" x2="604.6" y2="265.5" stroke="#231815" stroke-width="1.2" stroke-linecap="butt"/>
<text x="0" y="0" font-size="8.6" text-anchor="middle" fill="#231815" stroke="#231815" stroke-width="0.18" transform="translate(600.4 265) scale(0.95 1)">****</text>
<line x1="627.2" y1="230.7" x2="636.2" y2="230.7" stroke="#231815" stroke-width="1.2" stroke-linecap="butt"/>
<text x="0" y="0" font-size="8.6" text-anchor="middle" fill="#231815" stroke="#231815" stroke-width="0.18" transform="translate(631.7 230.2) scale(0.95 1)">**</text>
<line x1="658" y1="213.5" x2="667" y2="213.5" stroke="#231815" stroke-width="1.2" stroke-linecap="butt"/>
<text x="0" y="0" font-size="8.6" text-anchor="middle" fill="#231815" stroke="#231815" stroke-width="0.18" transform="translate(662.5 213) scale(0.95 1)">***</text>
<text x="1.9" y="332" font-size="13" text-anchor="start" fill="#231815" stroke="#231815" stroke-width="0.18" font-weight="bold">I</text>
<rect x="92.5" y="338.5" width="82.8" height="91.3" fill="#a2a2a6" />
<line x1="92.5" y1="338.5" x2="92.5" y2="429.8" stroke="#000000" stroke-width="1.1" stroke-linecap="butt"/>
<line x1="175.3" y1="338.5" x2="175.3" y2="429.8" stroke="#000000" stroke-width="1.1" stroke-linecap="butt"/>
<line x1="56.82" y1="387.35" x2="56.82" y2="389.17" stroke="#000000" stroke-width="1" stroke-linecap="butt"/>
<line x1="54.82" y1="387.35" x2="58.82" y2="387.35" stroke="#000000" stroke-width="1" stroke-linecap="butt"/>
<line x1="54.82" y1="389.17" x2="58.82" y2="389.17" stroke="#000000" stroke-width="1" stroke-linecap="butt"/>
<line x1="63.74" y1="375.02" x2="63.74" y2="378.67" stroke="#000000" stroke-width="1" stroke-linecap="butt"/>
<line x1="61.74" y1="375.02" x2="65.74" y2="375.02" stroke="#000000" stroke-width="1" stroke-linecap="butt"/>
<line x1="61.74" y1="378.67" x2="65.74" y2="378.67" stroke="#000000" stroke-width="1" stroke-linecap="butt"/>
<line x1="70.66" y1="375.7" x2="70.66" y2="379.36" stroke="#000000" stroke-width="1" stroke-linecap="butt"/>
<line x1="68.66" y1="375.7" x2="72.66" y2="375.7" stroke="#000000" stroke-width="1" stroke-linecap="butt"/>
<line x1="68.66" y1="379.36" x2="72.66" y2="379.36" stroke="#000000" stroke-width="1" stroke-linecap="butt"/>
<line x1="77.58" y1="376.16" x2="77.58" y2="378.9" stroke="#000000" stroke-width="1" stroke-linecap="butt"/>
<line x1="75.58" y1="376.16" x2="79.58" y2="376.16" stroke="#000000" stroke-width="1" stroke-linecap="butt"/>
<line x1="75.58" y1="378.9" x2="79.58" y2="378.9" stroke="#000000" stroke-width="1" stroke-linecap="butt"/>
<line x1="84.5" y1="377.76" x2="84.5" y2="380.5" stroke="#000000" stroke-width="1" stroke-linecap="butt"/>
<line x1="82.5" y1="377.76" x2="86.5" y2="377.76" stroke="#000000" stroke-width="1" stroke-linecap="butt"/>
<line x1="82.5" y1="380.5" x2="86.5" y2="380.5" stroke="#000000" stroke-width="1" stroke-linecap="butt"/>
<line x1="91.42" y1="376.39" x2="91.42" y2="380.04" stroke="#000000" stroke-width="1" stroke-linecap="butt"/>
<line x1="89.42" y1="376.39" x2="93.42" y2="376.39" stroke="#000000" stroke-width="1" stroke-linecap="butt"/>
<line x1="89.42" y1="380.04" x2="93.42" y2="380.04" stroke="#000000" stroke-width="1" stroke-linecap="butt"/>
<line x1="98.34" y1="371.37" x2="98.34" y2="375.02" stroke="#000000" stroke-width="1" stroke-linecap="butt"/>
<line x1="96.34" y1="371.37" x2="100.34" y2="371.37" stroke="#000000" stroke-width="1" stroke-linecap="butt"/>
<line x1="96.34" y1="375.02" x2="100.34" y2="375.02" stroke="#000000" stroke-width="1" stroke-linecap="butt"/>
<line x1="105.26" y1="365.89" x2="105.26" y2="370.46" stroke="#000000" stroke-width="1" stroke-linecap="butt"/>
<line x1="103.26" y1="365.89" x2="107.26" y2="365.89" stroke="#000000" stroke-width="1" stroke-linecap="butt"/>
<line x1="103.26" y1="370.46" x2="107.26" y2="370.46" stroke="#000000" stroke-width="1" stroke-linecap="butt"/>
<line x1="112.18" y1="368.17" x2="112.18" y2="373.65" stroke="#000000" stroke-width="1" stroke-linecap="butt"/>
<line x1="110.18" y1="368.17" x2="114.18" y2="368.17" stroke="#000000" stroke-width="1" stroke-linecap="butt"/>
<line x1="110.18" y1="373.65" x2="114.18" y2="373.65" stroke="#000000" stroke-width="1" stroke-linecap="butt"/>
<line x1="119.1" y1="373.65" x2="119.1" y2="379.13" stroke="#000000" stroke-width="1" stroke-linecap="butt"/>
<line x1="117.1" y1="373.65" x2="121.1" y2="373.65" stroke="#000000" stroke-width="1" stroke-linecap="butt"/>
<line x1="117.1" y1="379.13" x2="121.1" y2="379.13" stroke="#000000" stroke-width="1" stroke-linecap="butt"/>
<line x1="126.02" y1="372.28" x2="126.02" y2="377.76" stroke="#000000" stroke-width="1" stroke-linecap="butt"/>
<line x1="124.02" y1="372.28" x2="128.02" y2="372.28" stroke="#000000" stroke-width="1" stroke-linecap="butt"/>
<line x1="124.02" y1="377.76" x2="128.02" y2="377.76" stroke="#000000" stroke-width="1" stroke-linecap="butt"/>
<line x1="132.94" y1="370.91" x2="132.94" y2="377.3" stroke="#000000" stroke-width="1" stroke-linecap="butt"/>
<line x1="130.94" y1="370.91" x2="134.94" y2="370.91" stroke="#000000" stroke-width="1" stroke-linecap="butt"/>
<line x1="130.94" y1="377.3" x2="134.94" y2="377.3" stroke="#000000" stroke-width="1" stroke-linecap="butt"/>
<line x1="139.86" y1="371.82" x2="139.86" y2="378.22" stroke="#000000" stroke-width="1" stroke-linecap="butt"/>
<line x1="137.86" y1="371.82" x2="141.86" y2="371.82" stroke="#000000" stroke-width="1" stroke-linecap="butt"/>
<line x1="137.86" y1="378.22" x2="141.86" y2="378.22" stroke="#000000" stroke-width="1" stroke-linecap="butt"/>
<line x1="146.78" y1="374.11" x2="146.78" y2="379.58" stroke="#000000" stroke-width="1" stroke-linecap="butt"/>
<line x1="144.78" y1="374.11" x2="148.78" y2="374.11" stroke="#000000" stroke-width="1" stroke-linecap="butt"/>
<line x1="144.78" y1="379.58" x2="148.78" y2="379.58" stroke="#000000" stroke-width="1" stroke-linecap="butt"/>
<line x1="153.7" y1="380.04" x2="153.7" y2="384.61" stroke="#000000" stroke-width="1" stroke-linecap="butt"/>
<line x1="151.7" y1="380.04" x2="155.7" y2="380.04" stroke="#000000" stroke-width="1" stroke-linecap="butt"/>
<line x1="151.7" y1="384.61" x2="155.7" y2="384.61" stroke="#000000" stroke-width="1" stroke-linecap="butt"/>
<line x1="160.62" y1="381.41" x2="160.62" y2="386.89" stroke="#000000" stroke-width="1" stroke-linecap="butt"/>
<line x1="158.62" y1="381.41" x2="162.62" y2="381.41" stroke="#000000" stroke-width="1" stroke-linecap="butt"/>
<line x1="158.62" y1="386.89" x2="162.62" y2="386.89" stroke="#000000" stroke-width="1" stroke-linecap="butt"/>
<line x1="167.54" y1="376.62" x2="167.54" y2="383.01" stroke="#000000" stroke-width="1" stroke-linecap="butt"/>
<line x1="165.54" y1="376.62" x2="169.54" y2="376.62" stroke="#000000" stroke-width="1" stroke-linecap="butt"/>
<line x1="165.54" y1="383.01" x2="169.54" y2="383.01" stroke="#000000" stroke-width="1" stroke-linecap="butt"/>
<line x1="174.46" y1="372.74" x2="174.46" y2="379.13" stroke="#000000" stroke-width="1" stroke-linecap="butt"/>
<line x1="172.46" y1="372.74" x2="176.46" y2="372.74" stroke="#000000" stroke-width="1" stroke-linecap="butt"/>
<line x1="172.46" y1="379.13" x2="176.46" y2="379.13" stroke="#000000" stroke-width="1" stroke-linecap="butt"/>
<line x1="181.38" y1="374.11" x2="181.38" y2="378.67" stroke="#000000" stroke-width="1" stroke-linecap="butt"/>
<line x1="179.38" y1="374.11" x2="183.38" y2="374.11" stroke="#000000" stroke-width="1" stroke-linecap="butt"/>
<line x1="179.38" y1="378.67" x2="183.38" y2="378.67" stroke="#000000" stroke-width="1" stroke-linecap="butt"/>
<line x1="188.3" y1="376.85" x2="188.3" y2="380.5" stroke="#000000" stroke-width="1" stroke-linecap="butt"/>
<line x1="186.3" y1="376.85" x2="190.3" y2="376.85" stroke="#000000" stroke-width="1" stroke-linecap="butt"/>
<line x1="186.3" y1="380.5" x2="190.3" y2="380.5" stroke="#000000" stroke-width="1" stroke-linecap="butt"/>
<line x1="195.22" y1="377.3" x2="195.22" y2="380.95" stroke="#000000" stroke-width="1" stroke-linecap="butt"/>
<line x1="193.22" y1="377.3" x2="197.22" y2="377.3" stroke="#000000" stroke-width="1" stroke-linecap="butt"/>
<line x1="193.22" y1="380.95" x2="197.22" y2="380.95" stroke="#000000" stroke-width="1" stroke-linecap="butt"/>
<line x1="202.14" y1="379.59" x2="202.14" y2="385.06" stroke="#000000" stroke-width="1" stroke-linecap="butt"/>
<line x1="200.14" y1="379.59" x2="204.14" y2="379.59" stroke="#000000" stroke-width="1" stroke-linecap="butt"/>
<line x1="200.14" y1="385.06" x2="204.14" y2="385.06" stroke="#000000" stroke-width="1" stroke-linecap="butt"/>
<line x1="209.06" y1="381.87" x2="209.06" y2="385.52" stroke="#000000" stroke-width="1" stroke-linecap="butt"/>
<line x1="207.06" y1="381.87" x2="211.06" y2="381.87" stroke="#000000" stroke-width="1" stroke-linecap="butt"/>
<line x1="207.06" y1="385.52" x2="211.06" y2="385.52" stroke="#000000" stroke-width="1" stroke-linecap="butt"/>
<line x1="215.98" y1="383.01" x2="215.98" y2="386.66" stroke="#000000" stroke-width="1" stroke-linecap="butt"/>
<line x1="213.98" y1="383.01" x2="217.98" y2="383.01" stroke="#000000" stroke-width="1" stroke-linecap="butt"/>
<line x1="213.98" y1="386.66" x2="217.98" y2="386.66" stroke="#000000" stroke-width="1" stroke-linecap="butt"/>
<polyline points="56.82,388.26 63.74,376.85 70.66,377.53 77.58,377.53 84.5,379.13 91.42,378.22 98.34,373.19 105.26,368.17 112.18,370.91 119.1,376.39 126.02,375.02 132.94,374.11 139.86,375.02 146.78,376.85 153.7,382.32 160.62,384.15 167.54,379.81 174.46,375.93 181.38,376.39 188.3,378.67 195.22,379.13 202.14,382.32 209.06,383.69 215.98,384.83" fill="none" stroke="#000000" stroke-width="1.3" stroke-linejoin="round"/>
<circle cx="56.82" cy="388.26" r="2" fill="#000000"/>
<circle cx="63.74" cy="376.85" r="2" fill="#000000"/>
<circle cx="70.66" cy="377.53" r="2" fill="#000000"/>
<circle cx="77.58" cy="377.53" r="2" fill="#000000"/>
<circle cx="84.5" cy="379.13" r="2" fill="#000000"/>
<circle cx="91.42" cy="378.22" r="2" fill="#000000"/>
<circle cx="98.34" cy="373.19" r="2" fill="#000000"/>
<circle cx="105.26" cy="368.17" r="2" fill="#000000"/>
<circle cx="112.18" cy="370.91" r="2" fill="#000000"/>
<circle cx="119.1" cy="376.39" r="2" fill="#000000"/>
<circle cx="126.02" cy="375.02" r="2" fill="#000000"/>
<circle cx="132.94" cy="374.11" r="2" fill="#000000"/>
<circle cx="139.86" cy="375.02" r="2" fill="#000000"/>
<circle cx="146.78" cy="376.85" r="2" fill="#000000"/>
<circle cx="153.7" cy="382.32" r="2" fill="#000000"/>
<circle cx="160.62" cy="384.15" r="2" fill="#000000"/>
<circle cx="167.54" cy="379.81" r="2" fill="#000000"/>
<circle cx="174.46" cy="375.93" r="2" fill="#000000"/>
<circle cx="181.38" cy="376.39" r="2" fill="#000000"/>
<circle cx="188.3" cy="378.67" r="2" fill="#000000"/>
<circle cx="195.22" cy="379.13" r="2" fill="#000000"/>
<circle cx="202.14" cy="382.32" r="2" fill="#000000"/>
<circle cx="209.06" cy="383.69" r="2" fill="#000000"/>
<circle cx="215.98" cy="384.83" r="2" fill="#000000"/>
<line x1="56.82" y1="387.8" x2="56.82" y2="390.54" stroke="#fb7f81" stroke-width="1" stroke-linecap="butt"/>
<line x1="54.82" y1="387.8" x2="58.82" y2="387.8" stroke="#fb7f81" stroke-width="1" stroke-linecap="butt"/>
<line x1="54.82" y1="390.54" x2="58.82" y2="390.54" stroke="#fb7f81" stroke-width="1" stroke-linecap="butt"/>
<line x1="63.74" y1="381.41" x2="63.74" y2="385.98" stroke="#fb7f81" stroke-width="1" stroke-linecap="butt"/>
<line x1="61.74" y1="381.41" x2="65.74" y2="381.41" stroke="#fb7f81" stroke-width="1" stroke-linecap="butt"/>
<line x1="61.74" y1="385.98" x2="65.74" y2="385.98" stroke="#fb7f81" stroke-width="1" stroke-linecap="butt"/>
<line x1="70.66" y1="379.59" x2="70.66" y2="385.06" stroke="#fb7f81" stroke-width="1" stroke-linecap="butt"/>
<line x1="68.66" y1="379.59" x2="72.66" y2="379.59" stroke="#fb7f81" stroke-width="1" stroke-linecap="butt"/>
<line x1="68.66" y1="385.06" x2="72.66" y2="385.06" stroke="#fb7f81" stroke-width="1" stroke-linecap="butt"/>
<line x1="77.58" y1="380.04" x2="77.58" y2="384.61" stroke="#fb7f81" stroke-width="1" stroke-linecap="butt"/>
<line x1="75.58" y1="380.04" x2="79.58" y2="380.04" stroke="#fb7f81" stroke-width="1" stroke-linecap="butt"/>
<line x1="75.58" y1="384.61" x2="79.58" y2="384.61" stroke="#fb7f81" stroke-width="1" stroke-linecap="butt"/>
<line x1="84.5" y1="381.41" x2="84.5" y2="385.98" stroke="#fb7f81" stroke-width="1" stroke-linecap="butt"/>
<line x1="82.5" y1="381.41" x2="86.5" y2="381.41" stroke="#fb7f81" stroke-width="1" stroke-linecap="butt"/>
<line x1="82.5" y1="385.98" x2="86.5" y2="385.98" stroke="#fb7f81" stroke-width="1" stroke-linecap="butt"/>
<line x1="91.42" y1="381.87" x2="91.42" y2="386.43" stroke="#fb7f81" stroke-width="1" stroke-linecap="butt"/>
<line x1="89.42" y1="381.87" x2="93.42" y2="381.87" stroke="#fb7f81" stroke-width="1" stroke-linecap="butt"/>
<line x1="89.42" y1="386.43" x2="93.42" y2="386.43" stroke="#fb7f81" stroke-width="1" stroke-linecap="butt"/>
<line x1="98.34" y1="375.48" x2="98.34" y2="379.13" stroke="#fb7f81" stroke-width="1" stroke-linecap="butt"/>
<line x1="96.34" y1="375.48" x2="100.34" y2="375.48" stroke="#fb7f81" stroke-width="1" stroke-linecap="butt"/>
<line x1="96.34" y1="379.13" x2="100.34" y2="379.13" stroke="#fb7f81" stroke-width="1" stroke-linecap="butt"/>
<line x1="105.26" y1="374.11" x2="105.26" y2="377.76" stroke="#fb7f81" stroke-width="1" stroke-linecap="butt"/>
<line x1="103.26" y1="374.11" x2="107.26" y2="374.11" stroke="#fb7f81" stroke-width="1" stroke-linecap="butt"/>
<line x1="103.26" y1="377.76" x2="107.26" y2="377.76" stroke="#fb7f81" stroke-width="1" stroke-linecap="butt"/>
<line x1="112.18" y1="375.02" x2="112.18" y2="378.67" stroke="#fb7f81" stroke-width="1" stroke-linecap="butt"/>
<line x1="110.18" y1="375.02" x2="114.18" y2="375.02" stroke="#fb7f81" stroke-width="1" stroke-linecap="butt"/>
<line x1="110.18" y1="378.67" x2="114.18" y2="378.67" stroke="#fb7f81" stroke-width="1" stroke-linecap="butt"/>
<line x1="119.1" y1="378.67" x2="119.1" y2="383.24" stroke="#fb7f81" stroke-width="1" stroke-linecap="butt"/>
<line x1="117.1" y1="378.67" x2="121.1" y2="378.67" stroke="#fb7f81" stroke-width="1" stroke-linecap="butt"/>
<line x1="117.1" y1="383.24" x2="121.1" y2="383.24" stroke="#fb7f81" stroke-width="1" stroke-linecap="butt"/>
<line x1="126.02" y1="381.41" x2="126.02" y2="385.98" stroke="#fb7f81" stroke-width="1" stroke-linecap="butt"/>
<line x1="124.02" y1="381.41" x2="128.02" y2="381.41" stroke="#fb7f81" stroke-width="1" stroke-linecap="butt"/>
<line x1="124.02" y1="385.98" x2="128.02" y2="385.98" stroke="#fb7f81" stroke-width="1" stroke-linecap="butt"/>
<line x1="132.94" y1="380.04" x2="132.94" y2="384.61" stroke="#fb7f81" stroke-width="1" stroke-linecap="butt"/>
<line x1="130.94" y1="380.04" x2="134.94" y2="380.04" stroke="#fb7f81" stroke-width="1" stroke-linecap="butt"/>
<line x1="130.94" y1="384.61" x2="134.94" y2="384.61" stroke="#fb7f81" stroke-width="1" stroke-linecap="butt"/>
<line x1="139.86" y1="381.87" x2="139.86" y2="386.43" stroke="#fb7f81" stroke-width="1" stroke-linecap="butt"/>
<line x1="137.86" y1="381.87" x2="141.86" y2="381.87" stroke="#fb7f81" stroke-width="1" stroke-linecap="butt"/>
<line x1="137.86" y1="386.43" x2="141.86" y2="386.43" stroke="#fb7f81" stroke-width="1" stroke-linecap="butt"/>
<line x1="146.78" y1="378.67" x2="146.78" y2="385.06" stroke="#fb7f81" stroke-width="1" stroke-linecap="butt"/>
<line x1="144.78" y1="378.67" x2="148.78" y2="378.67" stroke="#fb7f81" stroke-width="1" stroke-linecap="butt"/>
<line x1="144.78" y1="385.06" x2="148.78" y2="385.06" stroke="#fb7f81" stroke-width="1" stroke-linecap="butt"/>
<line x1="153.7" y1="380.5" x2="153.7" y2="385.98" stroke="#fb7f81" stroke-width="1" stroke-linecap="butt"/>
<line x1="151.7" y1="380.5" x2="155.7" y2="380.5" stroke="#fb7f81" stroke-width="1" stroke-linecap="butt"/>
<line x1="151.7" y1="385.98" x2="155.7" y2="385.98" stroke="#fb7f81" stroke-width="1" stroke-linecap="butt"/>
<line x1="160.62" y1="382.32" x2="160.62" y2="387.8" stroke="#fb7f81" stroke-width="1" stroke-linecap="butt"/>
<line x1="158.62" y1="382.32" x2="162.62" y2="382.32" stroke="#fb7f81" stroke-width="1" stroke-linecap="butt"/>
<line x1="158.62" y1="387.8" x2="162.62" y2="387.8" stroke="#fb7f81" stroke-width="1" stroke-linecap="butt"/>
<line x1="167.54" y1="382.78" x2="167.54" y2="389.17" stroke="#fb7f81" stroke-width="1" stroke-linecap="butt"/>
<line x1="165.54" y1="382.78" x2="169.54" y2="382.78" stroke="#fb7f81" stroke-width="1" stroke-linecap="butt"/>
<line x1="165.54" y1="389.17" x2="169.54" y2="389.17" stroke="#fb7f81" stroke-width="1" stroke-linecap="butt"/>
<line x1="174.46" y1="378.67" x2="174.46" y2="384.15" stroke="#fb7f81" stroke-width="1" stroke-linecap="butt"/>
<line x1="172.46" y1="378.67" x2="176.46" y2="378.67" stroke="#fb7f81" stroke-width="1" stroke-linecap="butt"/>
<line x1="172.46" y1="384.15" x2="176.46" y2="384.15" stroke="#fb7f81" stroke-width="1" stroke-linecap="butt"/>
<line x1="181.38" y1="380.95" x2="181.38" y2="386.43" stroke="#fb7f81" stroke-width="1" stroke-linecap="butt"/>
<line x1="179.38" y1="380.95" x2="183.38" y2="380.95" stroke="#fb7f81" stroke-width="1" stroke-linecap="butt"/>
<line x1="179.38" y1="386.43" x2="183.38" y2="386.43" stroke="#fb7f81" stroke-width="1" stroke-linecap="butt"/>
<line x1="188.3" y1="379.13" x2="188.3" y2="383.69" stroke="#fb7f81" stroke-width="1" stroke-linecap="butt"/>
<line x1="186.3" y1="379.13" x2="190.3" y2="379.13" stroke="#fb7f81" stroke-width="1" stroke-linecap="butt"/>
<line x1="186.3" y1="383.69" x2="190.3" y2="383.69" stroke="#fb7f81" stroke-width="1" stroke-linecap="butt"/>
<line x1="195.22" y1="382.55" x2="195.22" y2="387.12" stroke="#fb7f81" stroke-width="1" stroke-linecap="butt"/>
<line x1="193.22" y1="382.55" x2="197.22" y2="382.55" stroke="#fb7f81" stroke-width="1" stroke-linecap="butt"/>
<line x1="193.22" y1="387.12" x2="197.22" y2="387.12" stroke="#fb7f81" stroke-width="1" stroke-linecap="butt"/>
<line x1="202.14" y1="385.06" x2="202.14" y2="389.63" stroke="#fb7f81" stroke-width="1" stroke-linecap="butt"/>
<line x1="200.14" y1="385.06" x2="204.14" y2="385.06" stroke="#fb7f81" stroke-width="1" stroke-linecap="butt"/>
<line x1="200.14" y1="389.63" x2="204.14" y2="389.63" stroke="#fb7f81" stroke-width="1" stroke-linecap="butt"/>
<line x1="209.06" y1="385.06" x2="209.06" y2="389.63" stroke="#fb7f81" stroke-width="1" stroke-linecap="butt"/>
<line x1="207.06" y1="385.06" x2="211.06" y2="385.06" stroke="#fb7f81" stroke-width="1" stroke-linecap="butt"/>
<line x1="207.06" y1="389.63" x2="211.06" y2="389.63" stroke="#fb7f81" stroke-width="1" stroke-linecap="butt"/>
<line x1="215.98" y1="385.98" x2="215.98" y2="392.37" stroke="#fb7f81" stroke-width="1" stroke-linecap="butt"/>
<line x1="213.98" y1="385.98" x2="217.98" y2="385.98" stroke="#fb7f81" stroke-width="1" stroke-linecap="butt"/>
<line x1="213.98" y1="392.37" x2="217.98" y2="392.37" stroke="#fb7f81" stroke-width="1" stroke-linecap="butt"/>
<polyline points="56.82,389.17 63.74,383.69 70.66,382.32 77.58,382.32 84.5,383.69 91.42,384.15 98.34,377.3 105.26,375.93 112.18,376.85 119.1,380.95 126.02,383.69 132.94,382.32 139.86,384.15 146.78,381.87 153.7,383.24 160.62,385.06 167.54,385.98 174.46,381.41 181.38,383.69 188.3,381.41 195.22,384.83 202.14,387.35 209.06,387.35 215.98,389.17" fill="none" stroke="#fb7f81" stroke-width="1.3" stroke-linejoin="round"/>
<rect x="54.82" y="387.17" width="4" height="4" fill="#fb7f81" />
<rect x="61.74" y="381.69" width="4" height="4" fill="#fb7f81" />
<rect x="68.66" y="380.32" width="4" height="4" fill="#fb7f81" />
<rect x="75.58" y="380.32" width="4" height="4" fill="#fb7f81" />
<rect x="82.5" y="381.69" width="4" height="4" fill="#fb7f81" />
<rect x="89.42" y="382.15" width="4" height="4" fill="#fb7f81" />
<rect x="96.34" y="375.3" width="4" height="4" fill="#fb7f81" />
<rect x="103.26" y="373.93" width="4" height="4" fill="#fb7f81" />
<rect x="110.18" y="374.85" width="4" height="4" fill="#fb7f81" />
<rect x="117.1" y="378.95" width="4" height="4" fill="#fb7f81" />
<rect x="124.02" y="381.69" width="4" height="4" fill="#fb7f81" />
<rect x="130.94" y="380.32" width="4" height="4" fill="#fb7f81" />
<rect x="137.86" y="382.15" width="4" height="4" fill="#fb7f81" />
<rect x="144.78" y="379.87" width="4" height="4" fill="#fb7f81" />
<rect x="151.7" y="381.24" width="4" height="4" fill="#fb7f81" />
<rect x="158.62" y="383.06" width="4" height="4" fill="#fb7f81" />
<rect x="165.54" y="383.98" width="4" height="4" fill="#fb7f81" />
<rect x="172.46" y="379.41" width="4" height="4" fill="#fb7f81" />
<rect x="179.38" y="381.69" width="4" height="4" fill="#fb7f81" />
<rect x="186.3" y="379.41" width="4" height="4" fill="#fb7f81" />
<rect x="193.22" y="382.83" width="4" height="4" fill="#fb7f81" />
<rect x="200.14" y="385.35" width="4" height="4" fill="#fb7f81" />
<rect x="207.06" y="385.35" width="4" height="4" fill="#fb7f81" />
<rect x="213.98" y="387.17" width="4" height="4" fill="#fb7f81" />
<rect x="43.7" y="338.5" width="179.6" height="91.3" fill="none" stroke="#000000" stroke-width="1.2" />
<line x1="40.9" y1="429.8" x2="43.7" y2="429.8" stroke="#000000" stroke-width="1.1" stroke-linecap="butt"/>
<text x="39.3" y="432.5" font-size="8.6" text-anchor="end" fill="#231815" stroke="#231815" stroke-width="0.18">0</text>
<line x1="40.9" y1="406.98" x2="43.7" y2="406.98" stroke="#000000" stroke-width="1.1" stroke-linecap="butt"/>
<text x="39.3" y="409.68" font-size="8.6" text-anchor="end" fill="#231815" stroke="#231815" stroke-width="0.18">50</text>
<line x1="40.9" y1="384.15" x2="43.7" y2="384.15" stroke="#000000" stroke-width="1.1" stroke-linecap="butt"/>
<text x="39.3" y="386.85" font-size="8.6" text-anchor="end" fill="#231815" stroke="#231815" stroke-width="0.18">100</text>
<line x1="40.9" y1="361.32" x2="43.7" y2="361.32" stroke="#000000" stroke-width="1.1" stroke-linecap="butt"/>
<text x="39.3" y="364.02" font-size="8.6" text-anchor="end" fill="#231815" stroke="#231815" stroke-width="0.18">150</text>
<line x1="40.9" y1="338.5" x2="43.7" y2="338.5" stroke="#000000" stroke-width="1.1" stroke-linecap="butt"/>
<text x="39.3" y="341.2" font-size="8.6" text-anchor="end" fill="#231815" stroke="#231815" stroke-width="0.18">200</text>
<line x1="49.9" y1="429.8" x2="49.9" y2="433.4" stroke="#000000" stroke-width="1.1" stroke-linecap="butt"/>
<text x="49.9" y="440.8" font-size="8.6" text-anchor="middle" fill="#231815" stroke="#231815" stroke-width="0.18">0</text>
<line x1="91.42" y1="429.8" x2="91.42" y2="433.4" stroke="#000000" stroke-width="1.1" stroke-linecap="butt"/>
<text x="91.42" y="440.8" font-size="8.6" text-anchor="middle" fill="#231815" stroke="#231815" stroke-width="0.18">6</text>
<line x1="132.94" y1="429.8" x2="132.94" y2="433.4" stroke="#000000" stroke-width="1.1" stroke-linecap="butt"/>
<text x="132.94" y="440.8" font-size="8.6" text-anchor="middle" fill="#231815" stroke="#231815" stroke-width="0.18">12</text>
<line x1="174.46" y1="429.8" x2="174.46" y2="433.4" stroke="#000000" stroke-width="1.1" stroke-linecap="butt"/>
<text x="174.46" y="440.8" font-size="8.6" text-anchor="middle" fill="#231815" stroke="#231815" stroke-width="0.18">18</text>
<line x1="215.98" y1="429.8" x2="215.98" y2="433.4" stroke="#000000" stroke-width="1.1" stroke-linecap="butt"/>
<text x="215.98" y="440.8" font-size="8.6" text-anchor="middle" fill="#231815" stroke="#231815" stroke-width="0.18">24</text>
<text x="134.14" y="450" font-size="8.9" text-anchor="middle" fill="#231815" stroke="#231815" stroke-width="0.18">Time (h)</text>
<text x="133" y="332.6" font-size="9.6" text-anchor="middle" fill="#231815" stroke="#231815" stroke-width="0.18">VO<tspan font-size="6.6" dy="2.2" dx="0.4">2</tspan></text>
<text x="0" y="0" font-size="8.8" text-anchor="middle" fill="#231815" stroke="#231815" stroke-width="0.18" transform="translate(20 383.3) rotate(-90)">ml/h</text>
<text x="47" y="357.6" font-size="8.45" text-anchor="start" fill="#231815" stroke="#231815" stroke-width="0.18">CL316,243</text>
<line x1="57.2" y1="362" x2="57.2" y2="375.36" stroke="#000000" stroke-width="1.6" stroke-linecap="butt"/>
<polygon points="54.1,372.8 60.3,372.8 57.2,379.2" fill="#000000"/>
<line x1="192.7" y1="344.6" x2="202.3" y2="344.6" stroke="#000000" stroke-width="1.5" stroke-linecap="butt"/>
<circle cx="197.5" cy="344.6" r="2.45" fill="#000000"/>
<text x="203.1" y="347.7" font-size="8.8" text-anchor="start" fill="#231815" stroke="#231815" stroke-width="0.18">WT</text>
<line x1="192.7" y1="353.9" x2="202.3" y2="353.9" stroke="#fb7f81" stroke-width="1.5" stroke-linecap="butt"/>
<rect x="195.2" y="351.6" width="4.6" height="4.6" fill="#fb7f81" />
<text x="203.1" y="357" font-size="8.8" text-anchor="start" fill="#231815" stroke="#231815" stroke-width="0.18">AKO</text>
<text x="343.9" y="332" font-size="13" text-anchor="start" fill="#231815" stroke="#231815" stroke-width="0.18" font-weight="bold">J</text>
<rect x="430.7" y="338.5" width="83.6" height="91.3" fill="#a2a2a6" />
<line x1="430.7" y1="338.5" x2="430.7" y2="429.8" stroke="#000000" stroke-width="1.1" stroke-linecap="butt"/>
<line x1="514.3" y1="338.5" x2="514.3" y2="429.8" stroke="#000000" stroke-width="1.1" stroke-linecap="butt"/>
<line x1="394.98" y1="396.93" x2="394.98" y2="398.76" stroke="#000000" stroke-width="1" stroke-linecap="butt"/>
<line x1="392.98" y1="396.93" x2="396.98" y2="396.93" stroke="#000000" stroke-width="1" stroke-linecap="butt"/>
<line x1="392.98" y1="398.76" x2="396.98" y2="398.76" stroke="#000000" stroke-width="1" stroke-linecap="butt"/>
<line x1="401.96" y1="389.63" x2="401.96" y2="392.37" stroke="#000000" stroke-width="1" stroke-linecap="butt"/>
<line x1="399.96" y1="389.63" x2="403.96" y2="389.63" stroke="#000000" stroke-width="1" stroke-linecap="butt"/>
<line x1="399.96" y1="392.37" x2="403.96" y2="392.37" stroke="#000000" stroke-width="1" stroke-linecap="butt"/>
<line x1="408.94" y1="390.08" x2="408.94" y2="392.82" stroke="#000000" stroke-width="1" stroke-linecap="butt"/>
<line x1="406.94" y1="390.08" x2="410.94" y2="390.08" stroke="#000000" stroke-width="1" stroke-linecap="butt"/>
<line x1="406.94" y1="392.82" x2="410.94" y2="392.82" stroke="#000000" stroke-width="1" stroke-linecap="butt"/>
<line x1="415.92" y1="389.86" x2="415.92" y2="392.6" stroke="#000000" stroke-width="1" stroke-linecap="butt"/>
<line x1="413.92" y1="389.86" x2="417.92" y2="389.86" stroke="#000000" stroke-width="1" stroke-linecap="butt"/>
<line x1="413.92" y1="392.6" x2="417.92" y2="392.6" stroke="#000000" stroke-width="1" stroke-linecap="butt"/>
<line x1="422.9" y1="391" x2="422.9" y2="393.74" stroke="#000000" stroke-width="1" stroke-linecap="butt"/>
<line x1="420.9" y1="391" x2="424.9" y2="391" stroke="#000000" stroke-width="1" stroke-linecap="butt"/>
<line x1="420.9" y1="393.74" x2="424.9" y2="393.74" stroke="#000000" stroke-width="1" stroke-linecap="butt"/>
<line x1="429.88" y1="389.17" x2="429.88" y2="391.91" stroke="#000000" stroke-width="1" stroke-linecap="butt"/>
<line x1="427.88" y1="389.17" x2="431.88" y2="389.17" stroke="#000000" stroke-width="1" stroke-linecap="butt"/>
<line x1="427.88" y1="391.91" x2="431.88" y2="391.91" stroke="#000000" stroke-width="1" stroke-linecap="butt"/>
<line x1="436.86" y1="384.61" x2="436.86" y2="388.26" stroke="#000000" stroke-width="1" stroke-linecap="butt"/>
<line x1="434.86" y1="384.61" x2="438.86" y2="384.61" stroke="#000000" stroke-width="1" stroke-linecap="butt"/>
<line x1="434.86" y1="388.26" x2="438.86" y2="388.26" stroke="#000000" stroke-width="1" stroke-linecap="butt"/>
<line x1="443.84" y1="379.59" x2="443.84" y2="385.06" stroke="#000000" stroke-width="1" stroke-linecap="butt"/>
<line x1="441.84" y1="379.59" x2="445.84" y2="379.59" stroke="#000000" stroke-width="1" stroke-linecap="butt"/>
<line x1="441.84" y1="385.06" x2="445.84" y2="385.06" stroke="#000000" stroke-width="1" stroke-linecap="butt"/>
<line x1="450.82" y1="381.41" x2="450.82" y2="386.89" stroke="#000000" stroke-width="1" stroke-linecap="butt"/>
<line x1="448.82" y1="381.41" x2="452.82" y2="381.41" stroke="#000000" stroke-width="1" stroke-linecap="butt"/>
<line x1="448.82" y1="386.89" x2="452.82" y2="386.89" stroke="#000000" stroke-width="1" stroke-linecap="butt"/>
<line x1="457.8" y1="385.06" x2="457.8" y2="390.54" stroke="#000000" stroke-width="1" stroke-linecap="butt"/>
<line x1="455.8" y1="385.06" x2="459.8" y2="385.06" stroke="#000000" stroke-width="1" stroke-linecap="butt"/>
<line x1="455.8" y1="390.54" x2="459.8" y2="390.54" stroke="#000000" stroke-width="1" stroke-linecap="butt"/>
<line x1="464.78" y1="384.15" x2="464.78" y2="389.63" stroke="#000000" stroke-width="1" stroke-linecap="butt"/>
<line x1="462.78" y1="384.15" x2="466.78" y2="384.15" stroke="#000000" stroke-width="1" stroke-linecap="butt"/>
<line x1="462.78" y1="389.63" x2="466.78" y2="389.63" stroke="#000000" stroke-width="1" stroke-linecap="butt"/>
<line x1="471.76" y1="382.78" x2="471.76" y2="388.26" stroke="#000000" stroke-width="1" stroke-linecap="butt"/>
<line x1="469.76" y1="382.78" x2="473.76" y2="382.78" stroke="#000000" stroke-width="1" stroke-linecap="butt"/>
<line x1="469.76" y1="388.26" x2="473.76" y2="388.26" stroke="#000000" stroke-width="1" stroke-linecap="butt"/>
<line x1="478.74" y1="384.15" x2="478.74" y2="388.72" stroke="#000000" stroke-width="1" stroke-linecap="butt"/>
<line x1="476.74" y1="384.15" x2="480.74" y2="384.15" stroke="#000000" stroke-width="1" stroke-linecap="butt"/>
<line x1="476.74" y1="388.72" x2="480.74" y2="388.72" stroke="#000000" stroke-width="1" stroke-linecap="butt"/>
<line x1="485.72" y1="385.06" x2="485.72" y2="389.63" stroke="#000000" stroke-width="1" stroke-linecap="butt"/>
<line x1="483.72" y1="385.06" x2="487.72" y2="385.06" stroke="#000000" stroke-width="1" stroke-linecap="butt"/>
<line x1="483.72" y1="389.63" x2="487.72" y2="389.63" stroke="#000000" stroke-width="1" stroke-linecap="butt"/>
<line x1="492.7" y1="391.45" x2="492.7" y2="395.11" stroke="#000000" stroke-width="1" stroke-linecap="butt"/>
<line x1="490.7" y1="391.45" x2="494.7" y2="391.45" stroke="#000000" stroke-width="1" stroke-linecap="butt"/>
<line x1="490.7" y1="395.11" x2="494.7" y2="395.11" stroke="#000000" stroke-width="1" stroke-linecap="butt"/>
<line x1="499.68" y1="392.37" x2="499.68" y2="396.02" stroke="#000000" stroke-width="1" stroke-linecap="butt"/>
<line x1="497.68" y1="392.37" x2="501.68" y2="392.37" stroke="#000000" stroke-width="1" stroke-linecap="butt"/>
<line x1="497.68" y1="396.02" x2="501.68" y2="396.02" stroke="#000000" stroke-width="1" stroke-linecap="butt"/>
<line x1="506.66" y1="388.26" x2="506.66" y2="392.82" stroke="#000000" stroke-width="1" stroke-linecap="butt"/>
<line x1="504.66" y1="388.26" x2="508.66" y2="388.26" stroke="#000000" stroke-width="1" stroke-linecap="butt"/>
<line x1="504.66" y1="392.82" x2="508.66" y2="392.82" stroke="#000000" stroke-width="1" stroke-linecap="butt"/>
<line x1="513.64" y1="384.61" x2="513.64" y2="389.17" stroke="#000000" stroke-width="1" stroke-linecap="butt"/>
<line x1="511.64" y1="384.61" x2="515.64" y2="384.61" stroke="#000000" stroke-width="1" stroke-linecap="butt"/>
<line x1="511.64" y1="389.17" x2="515.64" y2="389.17" stroke="#000000" stroke-width="1" stroke-linecap="butt"/>
<line x1="520.62" y1="384.61" x2="520.62" y2="387.35" stroke="#000000" stroke-width="1" stroke-linecap="butt"/>
<line x1="518.62" y1="384.61" x2="522.62" y2="384.61" stroke="#000000" stroke-width="1" stroke-linecap="butt"/>
<line x1="518.62" y1="387.35" x2="522.62" y2="387.35" stroke="#000000" stroke-width="1" stroke-linecap="butt"/>
<line x1="527.6" y1="386.43" x2="527.6" y2="389.17" stroke="#000000" stroke-width="1" stroke-linecap="butt"/>
<line x1="525.6" y1="386.43" x2="529.6" y2="386.43" stroke="#000000" stroke-width="1" stroke-linecap="butt"/>
<line x1="525.6" y1="389.17" x2="529.6" y2="389.17" stroke="#000000" stroke-width="1" stroke-linecap="butt"/>
<line x1="534.58" y1="386.43" x2="534.58" y2="389.17" stroke="#000000" stroke-width="1" stroke-linecap="butt"/>
<line x1="532.58" y1="386.43" x2="536.58" y2="386.43" stroke="#000000" stroke-width="1" stroke-linecap="butt"/>
<line x1="532.58" y1="389.17" x2="536.58" y2="389.17" stroke="#000000" stroke-width="1" stroke-linecap="butt"/>
<line x1="541.56" y1="388.71" x2="541.56" y2="392.37" stroke="#000000" stroke-width="1" stroke-linecap="butt"/>
<line x1="539.56" y1="388.71" x2="543.56" y2="388.71" stroke="#000000" stroke-width="1" stroke-linecap="butt"/>
<line x1="539.56" y1="392.37" x2="543.56" y2="392.37" stroke="#000000" stroke-width="1" stroke-linecap="butt"/>
<line x1="548.54" y1="389.17" x2="548.54" y2="391.91" stroke="#000000" stroke-width="1" stroke-linecap="butt"/>
<line x1="546.54" y1="389.17" x2="550.54" y2="389.17" stroke="#000000" stroke-width="1" stroke-linecap="butt"/>
<line x1="546.54" y1="391.91" x2="550.54" y2="391.91" stroke="#000000" stroke-width="1" stroke-linecap="butt"/>
<line x1="555.52" y1="390.54" x2="555.52" y2="395.11" stroke="#000000" stroke-width="1" stroke-linecap="butt"/>
<line x1="553.52" y1="390.54" x2="557.52" y2="390.54" stroke="#000000" stroke-width="1" stroke-linecap="butt"/>
<line x1="553.52" y1="395.11" x2="557.52" y2="395.11" stroke="#000000" stroke-width="1" stroke-linecap="butt"/>
<polyline points="394.98,397.85 401.96,391 408.94,391.45 415.92,391.23 422.9,392.37 429.88,390.54 436.86,386.43 443.84,382.32 450.82,384.15 457.8,387.8 464.78,386.89 471.76,385.52 478.74,386.43 485.72,387.35 492.7,393.28 499.68,394.19 506.66,390.54 513.64,386.89 520.62,385.98 527.6,387.8 534.58,387.8 541.56,390.54 548.54,390.54 555.52,392.82" fill="none" stroke="#000000" stroke-width="1.3" stroke-linejoin="round"/>
<circle cx="394.98" cy="397.85" r="2" fill="#000000"/>
<circle cx="401.96" cy="391" r="2" fill="#000000"/>
<circle cx="408.94" cy="391.45" r="2" fill="#000000"/>
<circle cx="415.92" cy="391.23" r="2" fill="#000000"/>
<circle cx="422.9" cy="392.37" r="2" fill="#000000"/>
<circle cx="429.88" cy="390.54" r="2" fill="#000000"/>
<circle cx="436.86" cy="386.43" r="2" fill="#000000"/>
<circle cx="443.84" cy="382.32" r="2" fill="#000000"/>
<circle cx="450.82" cy="384.15" r="2" fill="#000000"/>
<circle cx="457.8" cy="387.8" r="2" fill="#000000"/>
<circle cx="464.78" cy="386.89" r="2" fill="#000000"/>
<circle cx="471.76" cy="385.52" r="2" fill="#000000"/>
<circle cx="478.74" cy="386.43" r="2" fill="#000000"/>
<circle cx="485.72" cy="387.35" r="2" fill="#000000"/>
<circle cx="492.7" cy="393.28" r="2" fill="#000000"/>
<circle cx="499.68" cy="394.19" r="2" fill="#000000"/>
<circle cx="506.66" cy="390.54" r="2" fill="#000000"/>
<circle cx="513.64" cy="386.89" r="2" fill="#000000"/>
<circle cx="520.62" cy="385.98" r="2" fill="#000000"/>
<circle cx="527.6" cy="387.8" r="2" fill="#000000"/>
<circle cx="534.58" cy="387.8" r="2" fill="#000000"/>
<circle cx="541.56" cy="390.54" r="2" fill="#000000"/>
<circle cx="548.54" cy="390.54" r="2" fill="#000000"/>
<circle cx="555.52" cy="392.82" r="2" fill="#000000"/>
<line x1="394.98" y1="398.3" x2="394.98" y2="401.04" stroke="#fb7f81" stroke-width="1" stroke-linecap="butt"/>
<line x1="392.98" y1="398.3" x2="396.98" y2="398.3" stroke="#fb7f81" stroke-width="1" stroke-linecap="butt"/>
<line x1="392.98" y1="401.04" x2="396.98" y2="401.04" stroke="#fb7f81" stroke-width="1" stroke-linecap="butt"/>
<line x1="401.96" y1="394.19" x2="401.96" y2="397.85" stroke="#fb7f81" stroke-width="1" stroke-linecap="butt"/>
<line x1="399.96" y1="394.19" x2="403.96" y2="394.19" stroke="#fb7f81" stroke-width="1" stroke-linecap="butt"/>
<line x1="399.96" y1="397.85" x2="403.96" y2="397.85" stroke="#fb7f81" stroke-width="1" stroke-linecap="butt"/>
<line x1="408.94" y1="393.74" x2="408.94" y2="397.39" stroke="#fb7f81" stroke-width="1" stroke-linecap="butt"/>
<line x1="406.94" y1="393.74" x2="410.94" y2="393.74" stroke="#fb7f81" stroke-width="1" stroke-linecap="butt"/>
<line x1="406.94" y1="397.39" x2="410.94" y2="397.39" stroke="#fb7f81" stroke-width="1" stroke-linecap="butt"/>
<line x1="415.92" y1="393.74" x2="415.92" y2="397.39" stroke="#fb7f81" stroke-width="1" stroke-linecap="butt"/>
<line x1="413.92" y1="393.74" x2="417.92" y2="393.74" stroke="#fb7f81" stroke-width="1" stroke-linecap="butt"/>
<line x1="413.92" y1="397.39" x2="417.92" y2="397.39" stroke="#fb7f81" stroke-width="1" stroke-linecap="butt"/>
<line x1="422.9" y1="394.65" x2="422.9" y2="398.3" stroke="#fb7f81" stroke-width="1" stroke-linecap="butt"/>
<line x1="420.9" y1="394.65" x2="424.9" y2="394.65" stroke="#fb7f81" stroke-width="1" stroke-linecap="butt"/>
<line x1="420.9" y1="398.3" x2="424.9" y2="398.3" stroke="#fb7f81" stroke-width="1" stroke-linecap="butt"/>
<line x1="429.88" y1="394.65" x2="429.88" y2="398.3" stroke="#fb7f81" stroke-width="1" stroke-linecap="butt"/>
<line x1="427.88" y1="394.65" x2="431.88" y2="394.65" stroke="#fb7f81" stroke-width="1" stroke-linecap="butt"/>
<line x1="427.88" y1="398.3" x2="431.88" y2="398.3" stroke="#fb7f81" stroke-width="1" stroke-linecap="butt"/>
<line x1="436.86" y1="388.71" x2="436.86" y2="391.45" stroke="#fb7f81" stroke-width="1" stroke-linecap="butt"/>
<line x1="434.86" y1="388.71" x2="438.86" y2="388.71" stroke="#fb7f81" stroke-width="1" stroke-linecap="butt"/>
<line x1="434.86" y1="391.45" x2="438.86" y2="391.45" stroke="#fb7f81" stroke-width="1" stroke-linecap="butt"/>
<line x1="443.84" y1="388.26" x2="443.84" y2="391" stroke="#fb7f81" stroke-width="1" stroke-linecap="butt"/>
<line x1="441.84" y1="388.26" x2="445.84" y2="388.26" stroke="#fb7f81" stroke-width="1" stroke-linecap="butt"/>
<line x1="441.84" y1="391" x2="445.84" y2="391" stroke="#fb7f81" stroke-width="1" stroke-linecap="butt"/>
<line x1="450.82" y1="388.71" x2="450.82" y2="391.45" stroke="#fb7f81" stroke-width="1" stroke-linecap="butt"/>
<line x1="448.82" y1="388.71" x2="452.82" y2="388.71" stroke="#fb7f81" stroke-width="1" stroke-linecap="butt"/>
<line x1="448.82" y1="391.45" x2="452.82" y2="391.45" stroke="#fb7f81" stroke-width="1" stroke-linecap="butt"/>
<line x1="457.8" y1="391" x2="457.8" y2="394.65" stroke="#fb7f81" stroke-width="1" stroke-linecap="butt"/>
<line x1="455.8" y1="391" x2="459.8" y2="391" stroke="#fb7f81" stroke-width="1" stroke-linecap="butt"/>
<line x1="455.8" y1="394.65" x2="459.8" y2="394.65" stroke="#fb7f81" stroke-width="1" stroke-linecap="butt"/>
<line x1="464.78" y1="392.37" x2="464.78" y2="396.93" stroke="#fb7f81" stroke-width="1" stroke-linecap="butt"/>
<line x1="462.78" y1="392.37" x2="466.78" y2="392.37" stroke="#fb7f81" stroke-width="1" stroke-linecap="butt"/>
<line x1="462.78" y1="396.93" x2="466.78" y2="396.93" stroke="#fb7f81" stroke-width="1" stroke-linecap="butt"/>
<line x1="471.76" y1="391" x2="471.76" y2="395.56" stroke="#fb7f81" stroke-width="1" stroke-linecap="butt"/>
<line x1="469.76" y1="391" x2="473.76" y2="391" stroke="#fb7f81" stroke-width="1" stroke-linecap="butt"/>
<line x1="469.76" y1="395.56" x2="473.76" y2="395.56" stroke="#fb7f81" stroke-width="1" stroke-linecap="butt"/>
<line x1="478.74" y1="392.82" x2="478.74" y2="396.48" stroke="#fb7f81" stroke-width="1" stroke-linecap="butt"/>
<line x1="476.74" y1="392.82" x2="480.74" y2="392.82" stroke="#fb7f81" stroke-width="1" stroke-linecap="butt"/>
<line x1="476.74" y1="396.48" x2="480.74" y2="396.48" stroke="#fb7f81" stroke-width="1" stroke-linecap="butt"/>
<line x1="485.72" y1="390.54" x2="485.72" y2="395.11" stroke="#fb7f81" stroke-width="1" stroke-linecap="butt"/>
<line x1="483.72" y1="390.54" x2="487.72" y2="390.54" stroke="#fb7f81" stroke-width="1" stroke-linecap="butt"/>
<line x1="483.72" y1="395.11" x2="487.72" y2="395.11" stroke="#fb7f81" stroke-width="1" stroke-linecap="butt"/>
<line x1="492.7" y1="391.91" x2="492.7" y2="395.56" stroke="#fb7f81" stroke-width="1" stroke-linecap="butt"/>
<line x1="490.7" y1="391.91" x2="494.7" y2="391.91" stroke="#fb7f81" stroke-width="1" stroke-linecap="butt"/>
<line x1="490.7" y1="395.56" x2="494.7" y2="395.56" stroke="#fb7f81" stroke-width="1" stroke-linecap="butt"/>
<line x1="499.68" y1="392.37" x2="499.68" y2="396.93" stroke="#fb7f81" stroke-width="1" stroke-linecap="butt"/>
<line x1="497.68" y1="392.37" x2="501.68" y2="392.37" stroke="#fb7f81" stroke-width="1" stroke-linecap="butt"/>
<line x1="497.68" y1="396.93" x2="501.68" y2="396.93" stroke="#fb7f81" stroke-width="1" stroke-linecap="butt"/>
<line x1="506.66" y1="393.28" x2="506.66" y2="398.76" stroke="#fb7f81" stroke-width="1" stroke-linecap="butt"/>
<line x1="504.66" y1="393.28" x2="508.66" y2="393.28" stroke="#fb7f81" stroke-width="1" stroke-linecap="butt"/>
<line x1="504.66" y1="398.76" x2="508.66" y2="398.76" stroke="#fb7f81" stroke-width="1" stroke-linecap="butt"/>
<line x1="513.64" y1="390.08" x2="513.64" y2="394.65" stroke="#fb7f81" stroke-width="1" stroke-linecap="butt"/>
<line x1="511.64" y1="390.08" x2="515.64" y2="390.08" stroke="#fb7f81" stroke-width="1" stroke-linecap="butt"/>
<line x1="511.64" y1="394.65" x2="515.64" y2="394.65" stroke="#fb7f81" stroke-width="1" stroke-linecap="butt"/>
<line x1="520.62" y1="391.45" x2="520.62" y2="395.11" stroke="#fb7f81" stroke-width="1" stroke-linecap="butt"/>
<line x1="518.62" y1="391.45" x2="522.62" y2="391.45" stroke="#fb7f81" stroke-width="1" stroke-linecap="butt"/>
<line x1="518.62" y1="395.11" x2="522.62" y2="395.11" stroke="#fb7f81" stroke-width="1" stroke-linecap="butt"/>
<line x1="527.6" y1="389.63" x2="527.6" y2="393.28" stroke="#fb7f81" stroke-width="1" stroke-linecap="butt"/>
<line x1="525.6" y1="389.63" x2="529.6" y2="389.63" stroke="#fb7f81" stroke-width="1" stroke-linecap="butt"/>
<line x1="525.6" y1="393.28" x2="529.6" y2="393.28" stroke="#fb7f81" stroke-width="1" stroke-linecap="butt"/>
<line x1="534.58" y1="392.82" x2="534.58" y2="396.48" stroke="#fb7f81" stroke-width="1" stroke-linecap="butt"/>
<line x1="532.58" y1="392.82" x2="536.58" y2="392.82" stroke="#fb7f81" stroke-width="1" stroke-linecap="butt"/>
<line x1="532.58" y1="396.48" x2="536.58" y2="396.48" stroke="#fb7f81" stroke-width="1" stroke-linecap="butt"/>
<line x1="541.56" y1="395.56" x2="541.56" y2="399.21" stroke="#fb7f81" stroke-width="1" stroke-linecap="butt"/>
<line x1="539.56" y1="395.56" x2="543.56" y2="395.56" stroke="#fb7f81" stroke-width="1" stroke-linecap="butt"/>
<line x1="539.56" y1="399.21" x2="543.56" y2="399.21" stroke="#fb7f81" stroke-width="1" stroke-linecap="butt"/>
<line x1="548.54" y1="395.11" x2="548.54" y2="398.76" stroke="#fb7f81" stroke-width="1" stroke-linecap="butt"/>
<line x1="546.54" y1="395.11" x2="550.54" y2="395.11" stroke="#fb7f81" stroke-width="1" stroke-linecap="butt"/>
<line x1="546.54" y1="398.76" x2="550.54" y2="398.76" stroke="#fb7f81" stroke-width="1" stroke-linecap="butt"/>
<line x1="555.52" y1="396.48" x2="555.52" y2="401.04" stroke="#fb7f81" stroke-width="1" stroke-linecap="butt"/>
<line x1="553.52" y1="396.48" x2="557.52" y2="396.48" stroke="#fb7f81" stroke-width="1" stroke-linecap="butt"/>
<line x1="553.52" y1="401.04" x2="557.52" y2="401.04" stroke="#fb7f81" stroke-width="1" stroke-linecap="butt"/>
<polyline points="394.98,399.67 401.96,396.02 408.94,395.56 415.92,395.56 422.9,396.48 429.88,396.48 436.86,390.08 443.84,389.63 450.82,390.08 457.8,392.82 464.78,394.65 471.76,393.28 478.74,394.65 485.72,392.82 492.7,393.74 499.68,394.65 506.66,396.02 513.64,392.37 520.62,393.28 527.6,391.45 534.58,394.65 541.56,397.39 548.54,396.93 555.52,398.76" fill="none" stroke="#fb7f81" stroke-width="1.3" stroke-linejoin="round"/>
<rect x="392.98" y="397.67" width="4" height="4" fill="#fb7f81" />
<rect x="399.96" y="394.02" width="4" height="4" fill="#fb7f81" />
<rect x="406.94" y="393.56" width="4" height="4" fill="#fb7f81" />
<rect x="413.92" y="393.56" width="4" height="4" fill="#fb7f81" />
<rect x="420.9" y="394.48" width="4" height="4" fill="#fb7f81" />
<rect x="427.88" y="394.48" width="4" height="4" fill="#fb7f81" />
<rect x="434.86" y="388.08" width="4" height="4" fill="#fb7f81" />
<rect x="441.84" y="387.63" width="4" height="4" fill="#fb7f81" />
<rect x="448.82" y="388.08" width="4" height="4" fill="#fb7f81" />
<rect x="455.8" y="390.82" width="4" height="4" fill="#fb7f81" />
<rect x="462.78" y="392.65" width="4" height="4" fill="#fb7f81" />
<rect x="469.76" y="391.28" width="4" height="4" fill="#fb7f81" />
<rect x="476.74" y="392.65" width="4" height="4" fill="#fb7f81" />
<rect x="483.72" y="390.82" width="4" height="4" fill="#fb7f81" />
<rect x="490.7" y="391.74" width="4" height="4" fill="#fb7f81" />
<rect x="497.68" y="392.65" width="4" height="4" fill="#fb7f81" />
<rect x="504.66" y="394.02" width="4" height="4" fill="#fb7f81" />
<rect x="511.64" y="390.37" width="4" height="4" fill="#fb7f81" />
<rect x="518.62" y="391.28" width="4" height="4" fill="#fb7f81" />
<rect x="525.6" y="389.45" width="4" height="4" fill="#fb7f81" />
<rect x="532.58" y="392.65" width="4" height="4" fill="#fb7f81" />
<rect x="539.56" y="395.39" width="4" height="4" fill="#fb7f81" />
<rect x="546.54" y="394.93" width="4" height="4" fill="#fb7f81" />
<rect x="553.52" y="396.76" width="4" height="4" fill="#fb7f81" />
<rect x="381.5" y="338.5" width="181.1" height="91.3" fill="none" stroke="#000000" stroke-width="1.2" />
<line x1="378.7" y1="429.8" x2="381.5" y2="429.8" stroke="#000000" stroke-width="1.1" stroke-linecap="butt"/>
<text x="377.1" y="432.5" font-size="8.6" text-anchor="end" fill="#231815" stroke="#231815" stroke-width="0.18">0</text>
<line x1="378.7" y1="406.98" x2="381.5" y2="406.98" stroke="#000000" stroke-width="1.1" stroke-linecap="butt"/>
<text x="377.1" y="409.68" font-size="8.6" text-anchor="end" fill="#231815" stroke="#231815" stroke-width="0.18">50</text>
<line x1="378.7" y1="384.15" x2="381.5" y2="384.15" stroke="#000000" stroke-width="1.1" stroke-linecap="butt"/>
<text x="377.1" y="386.85" font-size="8.6" text-anchor="end" fill="#231815" stroke="#231815" stroke-width="0.18">100</text>
<line x1="378.7" y1="361.32" x2="381.5" y2="361.32" stroke="#000000" stroke-width="1.1" stroke-linecap="butt"/>
<text x="377.1" y="364.02" font-size="8.6" text-anchor="end" fill="#231815" stroke="#231815" stroke-width="0.18">150</text>
<line x1="378.7" y1="338.5" x2="381.5" y2="338.5" stroke="#000000" stroke-width="1.1" stroke-linecap="butt"/>
<text x="377.1" y="341.2" font-size="8.6" text-anchor="end" fill="#231815" stroke="#231815" stroke-width="0.18">200</text>
<line x1="388" y1="429.8" x2="388" y2="433.4" stroke="#000000" stroke-width="1.1" stroke-linecap="butt"/>
<text x="388" y="440.8" font-size="8.6" text-anchor="middle" fill="#231815" stroke="#231815" stroke-width="0.18">0</text>
<line x1="429.88" y1="429.8" x2="429.88" y2="433.4" stroke="#000000" stroke-width="1.1" stroke-linecap="butt"/>
<text x="429.88" y="440.8" font-size="8.6" text-anchor="middle" fill="#231815" stroke="#231815" stroke-width="0.18">6</text>
<line x1="471.76" y1="429.8" x2="471.76" y2="433.4" stroke="#000000" stroke-width="1.1" stroke-linecap="butt"/>
<text x="471.76" y="440.8" font-size="8.6" text-anchor="middle" fill="#231815" stroke="#231815" stroke-width="0.18">12</text>
<line x1="513.64" y1="429.8" x2="513.64" y2="433.4" stroke="#000000" stroke-width="1.1" stroke-linecap="butt"/>
<text x="513.64" y="440.8" font-size="8.6" text-anchor="middle" fill="#231815" stroke="#231815" stroke-width="0.18">18</text>
<line x1="555.52" y1="429.8" x2="555.52" y2="433.4" stroke="#000000" stroke-width="1.1" stroke-linecap="butt"/>
<text x="555.52" y="440.8" font-size="8.6" text-anchor="middle" fill="#231815" stroke="#231815" stroke-width="0.18">24</text>
<text x="472.96" y="450" font-size="8.9" text-anchor="middle" fill="#231815" stroke="#231815" stroke-width="0.18">Time (h)</text>
<text x="473.8" y="332.6" font-size="9.6" text-anchor="middle" fill="#231815" stroke="#231815" stroke-width="0.18">VCO<tspan font-size="6.6" dy="2.2" dx="0.4">2</tspan></text>
<text x="0" y="0" font-size="8.8" text-anchor="middle" fill="#231815" stroke="#231815" stroke-width="0.18" transform="translate(359.4 383.3) rotate(-90)">ml/h</text>
<text x="384.6" y="364.6" font-size="8.45" text-anchor="start" fill="#231815" stroke="#231815" stroke-width="0.18">CL316,243</text>
<line x1="394.4" y1="368" x2="394.4" y2="381.36" stroke="#000000" stroke-width="1.6" stroke-linecap="butt"/>
<polygon points="391.3,378.8 397.5,378.8 394.4,385.2" fill="#000000"/>
<line x1="531.5" y1="344.6" x2="541.1" y2="344.6" stroke="#000000" stroke-width="1.5" stroke-linecap="butt"/>
<circle cx="536.3" cy="344.6" r="2.45" fill="#000000"/>
<text x="542.9" y="347.7" font-size="8.8" text-anchor="start" fill="#231815" stroke="#231815" stroke-width="0.18">WT</text>
<line x1="531.5" y1="354.3" x2="541.1" y2="354.3" stroke="#fb7f81" stroke-width="1.5" stroke-linecap="butt"/>
<rect x="534" y="352" width="4.6" height="4.6" fill="#fb7f81" />
<text x="542.9" y="357.4" font-size="8.8" text-anchor="start" fill="#231815" stroke="#231815" stroke-width="0.18">AKO</text>
<text x="1.6" y="464" font-size="13" text-anchor="start" fill="#231815" stroke="#231815" stroke-width="0.18" font-weight="bold">K</text>
<rect x="92.5" y="475.6" width="84.2" height="91.9" fill="#a2a2a6" />
<line x1="92.5" y1="475.6" x2="92.5" y2="567.5" stroke="#000000" stroke-width="1.1" stroke-linecap="butt"/>
<line x1="176.7" y1="475.6" x2="176.7" y2="567.5" stroke="#000000" stroke-width="1.1" stroke-linecap="butt"/>
<line x1="57.6" y1="538.09" x2="57.6" y2="549.12" stroke="#000000" stroke-width="1" stroke-linecap="butt"/>
<line x1="55.6" y1="538.09" x2="59.6" y2="538.09" stroke="#000000" stroke-width="1" stroke-linecap="butt"/>
<line x1="55.6" y1="549.12" x2="59.6" y2="549.12" stroke="#000000" stroke-width="1" stroke-linecap="butt"/>
<line x1="64.6" y1="551.42" x2="64.6" y2="556.93" stroke="#000000" stroke-width="1" stroke-linecap="butt"/>
<line x1="62.6" y1="551.42" x2="66.6" y2="551.42" stroke="#000000" stroke-width="1" stroke-linecap="butt"/>
<line x1="62.6" y1="556.93" x2="66.6" y2="556.93" stroke="#000000" stroke-width="1" stroke-linecap="butt"/>
<line x1="71.6" y1="550.5" x2="71.6" y2="556.01" stroke="#000000" stroke-width="1" stroke-linecap="butt"/>
<line x1="69.6" y1="550.5" x2="73.6" y2="550.5" stroke="#000000" stroke-width="1" stroke-linecap="butt"/>
<line x1="69.6" y1="556.01" x2="73.6" y2="556.01" stroke="#000000" stroke-width="1" stroke-linecap="butt"/>
<line x1="78.6" y1="547.74" x2="78.6" y2="555.09" stroke="#000000" stroke-width="1" stroke-linecap="butt"/>
<line x1="76.6" y1="547.74" x2="80.6" y2="547.74" stroke="#000000" stroke-width="1" stroke-linecap="butt"/>
<line x1="76.6" y1="555.09" x2="80.6" y2="555.09" stroke="#000000" stroke-width="1" stroke-linecap="butt"/>
<line x1="85.6" y1="546.36" x2="85.6" y2="554.63" stroke="#000000" stroke-width="1" stroke-linecap="butt"/>
<line x1="83.6" y1="546.36" x2="87.6" y2="546.36" stroke="#000000" stroke-width="1" stroke-linecap="butt"/>
<line x1="83.6" y1="554.63" x2="87.6" y2="554.63" stroke="#000000" stroke-width="1" stroke-linecap="butt"/>
<line x1="92.6" y1="542.69" x2="92.6" y2="551.88" stroke="#000000" stroke-width="1" stroke-linecap="butt"/>
<line x1="90.6" y1="542.69" x2="94.6" y2="542.69" stroke="#000000" stroke-width="1" stroke-linecap="butt"/>
<line x1="90.6" y1="551.88" x2="94.6" y2="551.88" stroke="#000000" stroke-width="1" stroke-linecap="butt"/>
<line x1="99.6" y1="538.09" x2="99.6" y2="549.12" stroke="#000000" stroke-width="1" stroke-linecap="butt"/>
<line x1="97.6" y1="538.09" x2="101.6" y2="538.09" stroke="#000000" stroke-width="1" stroke-linecap="butt"/>
<line x1="97.6" y1="549.12" x2="101.6" y2="549.12" stroke="#000000" stroke-width="1" stroke-linecap="butt"/>
<line x1="106.6" y1="530.28" x2="106.6" y2="546.82" stroke="#000000" stroke-width="1" stroke-linecap="butt"/>
<line x1="104.6" y1="530.28" x2="108.6" y2="530.28" stroke="#000000" stroke-width="1" stroke-linecap="butt"/>
<line x1="104.6" y1="546.82" x2="108.6" y2="546.82" stroke="#000000" stroke-width="1" stroke-linecap="butt"/>
<line x1="113.6" y1="526.15" x2="113.6" y2="544.52" stroke="#000000" stroke-width="1" stroke-linecap="butt"/>
<line x1="111.6" y1="526.15" x2="115.6" y2="526.15" stroke="#000000" stroke-width="1" stroke-linecap="butt"/>
<line x1="111.6" y1="544.52" x2="115.6" y2="544.52" stroke="#000000" stroke-width="1" stroke-linecap="butt"/>
<line x1="120.6" y1="526.15" x2="120.6" y2="544.52" stroke="#000000" stroke-width="1" stroke-linecap="butt"/>
<line x1="118.6" y1="526.15" x2="122.6" y2="526.15" stroke="#000000" stroke-width="1" stroke-linecap="butt"/>
<line x1="118.6" y1="544.52" x2="122.6" y2="544.52" stroke="#000000" stroke-width="1" stroke-linecap="butt"/>
<line x1="127.6" y1="516.5" x2="127.6" y2="538.55" stroke="#000000" stroke-width="1" stroke-linecap="butt"/>
<line x1="125.6" y1="516.5" x2="129.6" y2="516.5" stroke="#000000" stroke-width="1" stroke-linecap="butt"/>
<line x1="125.6" y1="538.55" x2="129.6" y2="538.55" stroke="#000000" stroke-width="1" stroke-linecap="butt"/>
<line x1="134.6" y1="515.12" x2="134.6" y2="537.17" stroke="#000000" stroke-width="1" stroke-linecap="butt"/>
<line x1="132.6" y1="515.12" x2="136.6" y2="515.12" stroke="#000000" stroke-width="1" stroke-linecap="butt"/>
<line x1="132.6" y1="537.17" x2="136.6" y2="537.17" stroke="#000000" stroke-width="1" stroke-linecap="butt"/>
<line x1="141.6" y1="512.82" x2="141.6" y2="534.88" stroke="#000000" stroke-width="1" stroke-linecap="butt"/>
<line x1="139.6" y1="512.82" x2="143.6" y2="512.82" stroke="#000000" stroke-width="1" stroke-linecap="butt"/>
<line x1="139.6" y1="534.88" x2="143.6" y2="534.88" stroke="#000000" stroke-width="1" stroke-linecap="butt"/>
<line x1="148.6" y1="508.22" x2="148.6" y2="532.12" stroke="#000000" stroke-width="1" stroke-linecap="butt"/>
<line x1="146.6" y1="508.22" x2="150.6" y2="508.22" stroke="#000000" stroke-width="1" stroke-linecap="butt"/>
<line x1="146.6" y1="532.12" x2="150.6" y2="532.12" stroke="#000000" stroke-width="1" stroke-linecap="butt"/>
<line x1="155.6" y1="512.82" x2="155.6" y2="534.88" stroke="#000000" stroke-width="1" stroke-linecap="butt"/>
<line x1="153.6" y1="512.82" x2="157.6" y2="512.82" stroke="#000000" stroke-width="1" stroke-linecap="butt"/>
<line x1="153.6" y1="534.88" x2="157.6" y2="534.88" stroke="#000000" stroke-width="1" stroke-linecap="butt"/>
<line x1="162.6" y1="520.17" x2="162.6" y2="538.55" stroke="#000000" stroke-width="1" stroke-linecap="butt"/>
<line x1="160.6" y1="520.17" x2="164.6" y2="520.17" stroke="#000000" stroke-width="1" stroke-linecap="butt"/>
<line x1="160.6" y1="538.55" x2="164.6" y2="538.55" stroke="#000000" stroke-width="1" stroke-linecap="butt"/>
<line x1="169.6" y1="524.31" x2="169.6" y2="540.85" stroke="#000000" stroke-width="1" stroke-linecap="butt"/>
<line x1="167.6" y1="524.31" x2="171.6" y2="524.31" stroke="#000000" stroke-width="1" stroke-linecap="butt"/>
<line x1="167.6" y1="540.85" x2="171.6" y2="540.85" stroke="#000000" stroke-width="1" stroke-linecap="butt"/>
<line x1="176.6" y1="510.06" x2="176.6" y2="528.44" stroke="#000000" stroke-width="1" stroke-linecap="butt"/>
<line x1="174.6" y1="510.06" x2="178.6" y2="510.06" stroke="#000000" stroke-width="1" stroke-linecap="butt"/>
<line x1="174.6" y1="528.44" x2="178.6" y2="528.44" stroke="#000000" stroke-width="1" stroke-linecap="butt"/>
<line x1="183.6" y1="501.33" x2="183.6" y2="521.55" stroke="#000000" stroke-width="1" stroke-linecap="butt"/>
<line x1="181.6" y1="501.33" x2="185.6" y2="501.33" stroke="#000000" stroke-width="1" stroke-linecap="butt"/>
<line x1="181.6" y1="521.55" x2="185.6" y2="521.55" stroke="#000000" stroke-width="1" stroke-linecap="butt"/>
<line x1="190.6" y1="497.2" x2="190.6" y2="517.41" stroke="#000000" stroke-width="1" stroke-linecap="butt"/>
<line x1="188.6" y1="497.2" x2="192.6" y2="497.2" stroke="#000000" stroke-width="1" stroke-linecap="butt"/>
<line x1="188.6" y1="517.41" x2="192.6" y2="517.41" stroke="#000000" stroke-width="1" stroke-linecap="butt"/>
<line x1="197.6" y1="501.33" x2="197.6" y2="517.87" stroke="#000000" stroke-width="1" stroke-linecap="butt"/>
<line x1="195.6" y1="501.33" x2="199.6" y2="501.33" stroke="#000000" stroke-width="1" stroke-linecap="butt"/>
<line x1="195.6" y1="517.87" x2="199.6" y2="517.87" stroke="#000000" stroke-width="1" stroke-linecap="butt"/>
<line x1="204.6" y1="500.41" x2="204.6" y2="516.96" stroke="#000000" stroke-width="1" stroke-linecap="butt"/>
<line x1="202.6" y1="500.41" x2="206.6" y2="500.41" stroke="#000000" stroke-width="1" stroke-linecap="butt"/>
<line x1="202.6" y1="516.96" x2="206.6" y2="516.96" stroke="#000000" stroke-width="1" stroke-linecap="butt"/>
<line x1="211.6" y1="498.58" x2="211.6" y2="516.96" stroke="#000000" stroke-width="1" stroke-linecap="butt"/>
<line x1="209.6" y1="498.58" x2="213.6" y2="498.58" stroke="#000000" stroke-width="1" stroke-linecap="butt"/>
<line x1="209.6" y1="516.96" x2="213.6" y2="516.96" stroke="#000000" stroke-width="1" stroke-linecap="butt"/>
<line x1="218.6" y1="499.49" x2="218.6" y2="521.55" stroke="#000000" stroke-width="1" stroke-linecap="butt"/>
<line x1="216.6" y1="499.49" x2="220.6" y2="499.49" stroke="#000000" stroke-width="1" stroke-linecap="butt"/>
<line x1="216.6" y1="521.55" x2="220.6" y2="521.55" stroke="#000000" stroke-width="1" stroke-linecap="butt"/>
<polyline points="57.6,543.61 64.6,554.17 71.6,553.26 78.6,551.42 85.6,550.5 92.6,547.28 99.6,543.61 106.6,538.55 113.6,535.34 120.6,535.34 127.6,527.52 134.6,526.14 141.6,523.85 148.6,520.17 155.6,523.85 162.6,529.36 169.6,532.58 176.6,519.25 183.6,511.44 190.6,507.31 197.6,509.6 204.6,508.68 211.6,507.77 218.6,510.52" fill="none" stroke="#000000" stroke-width="1.3" stroke-linejoin="round"/>
<circle cx="57.6" cy="543.61" r="2" fill="#000000"/>
<circle cx="64.6" cy="554.17" r="2" fill="#000000"/>
<circle cx="71.6" cy="553.26" r="2" fill="#000000"/>
<circle cx="78.6" cy="551.42" r="2" fill="#000000"/>
<circle cx="85.6" cy="550.5" r="2" fill="#000000"/>
<circle cx="92.6" cy="547.28" r="2" fill="#000000"/>
<circle cx="99.6" cy="543.61" r="2" fill="#000000"/>
<circle cx="106.6" cy="538.55" r="2" fill="#000000"/>
<circle cx="113.6" cy="535.34" r="2" fill="#000000"/>
<circle cx="120.6" cy="535.34" r="2" fill="#000000"/>
<circle cx="127.6" cy="527.52" r="2" fill="#000000"/>
<circle cx="134.6" cy="526.14" r="2" fill="#000000"/>
<circle cx="141.6" cy="523.85" r="2" fill="#000000"/>
<circle cx="148.6" cy="520.17" r="2" fill="#000000"/>
<circle cx="155.6" cy="523.85" r="2" fill="#000000"/>
<circle cx="162.6" cy="529.36" r="2" fill="#000000"/>
<circle cx="169.6" cy="532.58" r="2" fill="#000000"/>
<circle cx="176.6" cy="519.25" r="2" fill="#000000"/>
<circle cx="183.6" cy="511.44" r="2" fill="#000000"/>
<circle cx="190.6" cy="507.31" r="2" fill="#000000"/>
<circle cx="197.6" cy="509.6" r="2" fill="#000000"/>
<circle cx="204.6" cy="508.68" r="2" fill="#000000"/>
<circle cx="211.6" cy="507.77" r="2" fill="#000000"/>
<circle cx="218.6" cy="510.52" r="2" fill="#000000"/>
<line x1="57.6" y1="539.01" x2="57.6" y2="550.04" stroke="#fb7f81" stroke-width="1" stroke-linecap="butt"/>
<line x1="55.6" y1="539.01" x2="59.6" y2="539.01" stroke="#fb7f81" stroke-width="1" stroke-linecap="butt"/>
<line x1="55.6" y1="550.04" x2="59.6" y2="550.04" stroke="#fb7f81" stroke-width="1" stroke-linecap="butt"/>
<line x1="64.6" y1="554.17" x2="64.6" y2="559.69" stroke="#fb7f81" stroke-width="1" stroke-linecap="butt"/>
<line x1="62.6" y1="554.17" x2="66.6" y2="554.17" stroke="#fb7f81" stroke-width="1" stroke-linecap="butt"/>
<line x1="62.6" y1="559.69" x2="66.6" y2="559.69" stroke="#fb7f81" stroke-width="1" stroke-linecap="butt"/>
<line x1="71.6" y1="552.8" x2="71.6" y2="558.31" stroke="#fb7f81" stroke-width="1" stroke-linecap="butt"/>
<line x1="69.6" y1="552.8" x2="73.6" y2="552.8" stroke="#fb7f81" stroke-width="1" stroke-linecap="butt"/>
<line x1="69.6" y1="558.31" x2="73.6" y2="558.31" stroke="#fb7f81" stroke-width="1" stroke-linecap="butt"/>
<line x1="78.6" y1="551.88" x2="78.6" y2="559.23" stroke="#fb7f81" stroke-width="1" stroke-linecap="butt"/>
<line x1="76.6" y1="551.88" x2="80.6" y2="551.88" stroke="#fb7f81" stroke-width="1" stroke-linecap="butt"/>
<line x1="76.6" y1="559.23" x2="80.6" y2="559.23" stroke="#fb7f81" stroke-width="1" stroke-linecap="butt"/>
<line x1="85.6" y1="549.12" x2="85.6" y2="557.39" stroke="#fb7f81" stroke-width="1" stroke-linecap="butt"/>
<line x1="83.6" y1="549.12" x2="87.6" y2="549.12" stroke="#fb7f81" stroke-width="1" stroke-linecap="butt"/>
<line x1="83.6" y1="557.39" x2="87.6" y2="557.39" stroke="#fb7f81" stroke-width="1" stroke-linecap="butt"/>
<line x1="92.6" y1="547.74" x2="92.6" y2="556.93" stroke="#fb7f81" stroke-width="1" stroke-linecap="butt"/>
<line x1="90.6" y1="547.74" x2="94.6" y2="547.74" stroke="#fb7f81" stroke-width="1" stroke-linecap="butt"/>
<line x1="90.6" y1="556.93" x2="94.6" y2="556.93" stroke="#fb7f81" stroke-width="1" stroke-linecap="butt"/>
<line x1="99.6" y1="544.98" x2="99.6" y2="556.01" stroke="#fb7f81" stroke-width="1" stroke-linecap="butt"/>
<line x1="97.6" y1="544.98" x2="101.6" y2="544.98" stroke="#fb7f81" stroke-width="1" stroke-linecap="butt"/>
<line x1="97.6" y1="556.01" x2="101.6" y2="556.01" stroke="#fb7f81" stroke-width="1" stroke-linecap="butt"/>
<line x1="106.6" y1="542.23" x2="106.6" y2="555.09" stroke="#fb7f81" stroke-width="1" stroke-linecap="butt"/>
<line x1="104.6" y1="542.23" x2="108.6" y2="542.23" stroke="#fb7f81" stroke-width="1" stroke-linecap="butt"/>
<line x1="104.6" y1="555.09" x2="108.6" y2="555.09" stroke="#fb7f81" stroke-width="1" stroke-linecap="butt"/>
<line x1="113.6" y1="540.85" x2="113.6" y2="555.55" stroke="#fb7f81" stroke-width="1" stroke-linecap="butt"/>
<line x1="111.6" y1="540.85" x2="115.6" y2="540.85" stroke="#fb7f81" stroke-width="1" stroke-linecap="butt"/>
<line x1="111.6" y1="555.55" x2="115.6" y2="555.55" stroke="#fb7f81" stroke-width="1" stroke-linecap="butt"/>
<line x1="120.6" y1="536.25" x2="120.6" y2="554.63" stroke="#fb7f81" stroke-width="1" stroke-linecap="butt"/>
<line x1="118.6" y1="536.25" x2="122.6" y2="536.25" stroke="#fb7f81" stroke-width="1" stroke-linecap="butt"/>
<line x1="118.6" y1="554.63" x2="122.6" y2="554.63" stroke="#fb7f81" stroke-width="1" stroke-linecap="butt"/>
<line x1="127.6" y1="531.2" x2="127.6" y2="551.42" stroke="#fb7f81" stroke-width="1" stroke-linecap="butt"/>
<line x1="125.6" y1="531.2" x2="129.6" y2="531.2" stroke="#fb7f81" stroke-width="1" stroke-linecap="butt"/>
<line x1="125.6" y1="551.42" x2="129.6" y2="551.42" stroke="#fb7f81" stroke-width="1" stroke-linecap="butt"/>
<line x1="134.6" y1="527.06" x2="134.6" y2="549.12" stroke="#fb7f81" stroke-width="1" stroke-linecap="butt"/>
<line x1="132.6" y1="527.06" x2="136.6" y2="527.06" stroke="#fb7f81" stroke-width="1" stroke-linecap="butt"/>
<line x1="132.6" y1="549.12" x2="136.6" y2="549.12" stroke="#fb7f81" stroke-width="1" stroke-linecap="butt"/>
<line x1="141.6" y1="526.6" x2="141.6" y2="548.66" stroke="#fb7f81" stroke-width="1" stroke-linecap="butt"/>
<line x1="139.6" y1="526.6" x2="143.6" y2="526.6" stroke="#fb7f81" stroke-width="1" stroke-linecap="butt"/>
<line x1="139.6" y1="548.66" x2="143.6" y2="548.66" stroke="#fb7f81" stroke-width="1" stroke-linecap="butt"/>
<line x1="148.6" y1="523.85" x2="148.6" y2="545.9" stroke="#fb7f81" stroke-width="1" stroke-linecap="butt"/>
<line x1="146.6" y1="523.85" x2="150.6" y2="523.85" stroke="#fb7f81" stroke-width="1" stroke-linecap="butt"/>
<line x1="146.6" y1="545.9" x2="150.6" y2="545.9" stroke="#fb7f81" stroke-width="1" stroke-linecap="butt"/>
<line x1="155.6" y1="524.77" x2="155.6" y2="546.82" stroke="#fb7f81" stroke-width="1" stroke-linecap="butt"/>
<line x1="153.6" y1="524.77" x2="157.6" y2="524.77" stroke="#fb7f81" stroke-width="1" stroke-linecap="butt"/>
<line x1="153.6" y1="546.82" x2="157.6" y2="546.82" stroke="#fb7f81" stroke-width="1" stroke-linecap="butt"/>
<line x1="162.6" y1="519.71" x2="162.6" y2="543.61" stroke="#fb7f81" stroke-width="1" stroke-linecap="butt"/>
<line x1="160.6" y1="519.71" x2="164.6" y2="519.71" stroke="#fb7f81" stroke-width="1" stroke-linecap="butt"/>
<line x1="160.6" y1="543.61" x2="164.6" y2="543.61" stroke="#fb7f81" stroke-width="1" stroke-linecap="butt"/>
<line x1="169.6" y1="525.23" x2="169.6" y2="543.61" stroke="#fb7f81" stroke-width="1" stroke-linecap="butt"/>
<line x1="167.6" y1="525.23" x2="171.6" y2="525.23" stroke="#fb7f81" stroke-width="1" stroke-linecap="butt"/>
<line x1="167.6" y1="543.61" x2="171.6" y2="543.61" stroke="#fb7f81" stroke-width="1" stroke-linecap="butt"/>
<line x1="176.6" y1="521.55" x2="176.6" y2="539.93" stroke="#fb7f81" stroke-width="1" stroke-linecap="butt"/>
<line x1="174.6" y1="521.55" x2="178.6" y2="521.55" stroke="#fb7f81" stroke-width="1" stroke-linecap="butt"/>
<line x1="174.6" y1="539.93" x2="178.6" y2="539.93" stroke="#fb7f81" stroke-width="1" stroke-linecap="butt"/>
<line x1="183.6" y1="517.87" x2="183.6" y2="538.09" stroke="#fb7f81" stroke-width="1" stroke-linecap="butt"/>
<line x1="181.6" y1="517.87" x2="185.6" y2="517.87" stroke="#fb7f81" stroke-width="1" stroke-linecap="butt"/>
<line x1="181.6" y1="538.09" x2="185.6" y2="538.09" stroke="#fb7f81" stroke-width="1" stroke-linecap="butt"/>
<line x1="190.6" y1="512.36" x2="190.6" y2="536.25" stroke="#fb7f81" stroke-width="1" stroke-linecap="butt"/>
<line x1="188.6" y1="512.36" x2="192.6" y2="512.36" stroke="#fb7f81" stroke-width="1" stroke-linecap="butt"/>
<line x1="188.6" y1="536.25" x2="192.6" y2="536.25" stroke="#fb7f81" stroke-width="1" stroke-linecap="butt"/>
<line x1="197.6" y1="518.33" x2="197.6" y2="540.39" stroke="#fb7f81" stroke-width="1" stroke-linecap="butt"/>
<line x1="195.6" y1="518.33" x2="199.6" y2="518.33" stroke="#fb7f81" stroke-width="1" stroke-linecap="butt"/>
<line x1="195.6" y1="540.39" x2="199.6" y2="540.39" stroke="#fb7f81" stroke-width="1" stroke-linecap="butt"/>
<line x1="204.6" y1="521.55" x2="204.6" y2="541.77" stroke="#fb7f81" stroke-width="1" stroke-linecap="butt"/>
<line x1="202.6" y1="521.55" x2="206.6" y2="521.55" stroke="#fb7f81" stroke-width="1" stroke-linecap="butt"/>
<line x1="202.6" y1="541.77" x2="206.6" y2="541.77" stroke="#fb7f81" stroke-width="1" stroke-linecap="butt"/>
<line x1="211.6" y1="517.41" x2="211.6" y2="541.31" stroke="#fb7f81" stroke-width="1" stroke-linecap="butt"/>
<line x1="209.6" y1="517.41" x2="213.6" y2="517.41" stroke="#fb7f81" stroke-width="1" stroke-linecap="butt"/>
<line x1="209.6" y1="541.31" x2="213.6" y2="541.31" stroke="#fb7f81" stroke-width="1" stroke-linecap="butt"/>
<line x1="218.6" y1="526.15" x2="218.6" y2="544.52" stroke="#fb7f81" stroke-width="1" stroke-linecap="butt"/>
<line x1="216.6" y1="526.15" x2="220.6" y2="526.15" stroke="#fb7f81" stroke-width="1" stroke-linecap="butt"/>
<line x1="216.6" y1="544.52" x2="220.6" y2="544.52" stroke="#fb7f81" stroke-width="1" stroke-linecap="butt"/>
<polyline points="57.6,544.52 64.6,556.93 71.6,555.55 78.6,555.55 85.6,553.26 92.6,552.34 99.6,550.5 106.6,548.66 113.6,548.2 120.6,545.44 127.6,541.31 134.6,538.09 141.6,537.63 148.6,534.88 155.6,535.79 162.6,531.66 169.6,534.42 176.6,530.74 183.6,527.98 190.6,524.31 197.6,529.36 204.6,531.66 211.6,529.36 218.6,535.34" fill="none" stroke="#fb7f81" stroke-width="1.3" stroke-linejoin="round"/>
<rect x="55.6" y="542.52" width="4" height="4" fill="#fb7f81" />
<rect x="62.6" y="554.93" width="4" height="4" fill="#fb7f81" />
<rect x="69.6" y="553.55" width="4" height="4" fill="#fb7f81" />
<rect x="76.6" y="553.55" width="4" height="4" fill="#fb7f81" />
<rect x="83.6" y="551.26" width="4" height="4" fill="#fb7f81" />
<rect x="90.6" y="550.34" width="4" height="4" fill="#fb7f81" />
<rect x="97.6" y="548.5" width="4" height="4" fill="#fb7f81" />
<rect x="104.6" y="546.66" width="4" height="4" fill="#fb7f81" />
<rect x="111.6" y="546.2" width="4" height="4" fill="#fb7f81" />
<rect x="118.6" y="543.44" width="4" height="4" fill="#fb7f81" />
<rect x="125.6" y="539.31" width="4" height="4" fill="#fb7f81" />
<rect x="132.6" y="536.09" width="4" height="4" fill="#fb7f81" />
<rect x="139.6" y="535.63" width="4" height="4" fill="#fb7f81" />
<rect x="146.6" y="532.88" width="4" height="4" fill="#fb7f81" />
<rect x="153.6" y="533.79" width="4" height="4" fill="#fb7f81" />
<rect x="160.6" y="529.66" width="4" height="4" fill="#fb7f81" />
<rect x="167.6" y="532.42" width="4" height="4" fill="#fb7f81" />
<rect x="174.6" y="528.74" width="4" height="4" fill="#fb7f81" />
<rect x="181.6" y="525.98" width="4" height="4" fill="#fb7f81" />
<rect x="188.6" y="522.31" width="4" height="4" fill="#fb7f81" />
<rect x="195.6" y="527.36" width="4" height="4" fill="#fb7f81" />
<rect x="202.6" y="529.66" width="4" height="4" fill="#fb7f81" />
<rect x="209.6" y="527.36" width="4" height="4" fill="#fb7f81" />
<rect x="216.6" y="533.34" width="4" height="4" fill="#fb7f81" />
<rect x="43.7" y="475.6" width="182" height="91.9" fill="none" stroke="#000000" stroke-width="1.2" />
<line x1="40.9" y1="567.5" x2="43.7" y2="567.5" stroke="#000000" stroke-width="1.1" stroke-linecap="butt"/>
<text x="39.3" y="570.2" font-size="8.6" text-anchor="end" fill="#231815" stroke="#231815" stroke-width="0.18">0.70</text>
<line x1="40.9" y1="544.52" x2="43.7" y2="544.52" stroke="#000000" stroke-width="1.1" stroke-linecap="butt"/>
<text x="39.3" y="547.23" font-size="8.6" text-anchor="end" fill="#231815" stroke="#231815" stroke-width="0.18">0.75</text>
<line x1="40.9" y1="521.55" x2="43.7" y2="521.55" stroke="#000000" stroke-width="1.1" stroke-linecap="butt"/>
<text x="39.3" y="524.25" font-size="8.6" text-anchor="end" fill="#231815" stroke="#231815" stroke-width="0.18">0.80</text>
<line x1="40.9" y1="498.58" x2="43.7" y2="498.58" stroke="#000000" stroke-width="1.1" stroke-linecap="butt"/>
<text x="39.3" y="501.28" font-size="8.6" text-anchor="end" fill="#231815" stroke="#231815" stroke-width="0.18">0.85</text>
<line x1="40.9" y1="475.6" x2="43.7" y2="475.6" stroke="#000000" stroke-width="1.1" stroke-linecap="butt"/>
<text x="39.3" y="478.3" font-size="8.6" text-anchor="end" fill="#231815" stroke="#231815" stroke-width="0.18">0.90</text>
<line x1="50.6" y1="567.5" x2="50.6" y2="571.1" stroke="#000000" stroke-width="1.1" stroke-linecap="butt"/>
<text x="50.6" y="579.1" font-size="8.6" text-anchor="middle" fill="#231815" stroke="#231815" stroke-width="0.18">0</text>
<line x1="92.6" y1="567.5" x2="92.6" y2="571.1" stroke="#000000" stroke-width="1.1" stroke-linecap="butt"/>
<text x="92.6" y="579.1" font-size="8.6" text-anchor="middle" fill="#231815" stroke="#231815" stroke-width="0.18">6</text>
<line x1="134.6" y1="567.5" x2="134.6" y2="571.1" stroke="#000000" stroke-width="1.1" stroke-linecap="butt"/>
<text x="134.6" y="579.1" font-size="8.6" text-anchor="middle" fill="#231815" stroke="#231815" stroke-width="0.18">12</text>
<line x1="176.6" y1="567.5" x2="176.6" y2="571.1" stroke="#000000" stroke-width="1.1" stroke-linecap="butt"/>
<text x="176.6" y="579.1" font-size="8.6" text-anchor="middle" fill="#231815" stroke="#231815" stroke-width="0.18">18</text>
<line x1="218.6" y1="567.5" x2="218.6" y2="571.1" stroke="#000000" stroke-width="1.1" stroke-linecap="butt"/>
<text x="218.6" y="579.1" font-size="8.6" text-anchor="middle" fill="#231815" stroke="#231815" stroke-width="0.18">24</text>
<text x="135.8" y="588.3" font-size="8.9" text-anchor="middle" fill="#231815" stroke="#231815" stroke-width="0.18">Time (h)</text>
<text x="136.3" y="469.2" font-size="9.6" text-anchor="middle" fill="#231815" stroke="#231815" stroke-width="0.18">RER</text>
<text x="0" y="0" font-size="9.2" text-anchor="middle" fill="#231815" stroke="#231815" stroke-width="0.18" transform="translate(17.6 522) rotate(-90)">VCO<tspan font-size="8" dy="2.4">2</tspan><tspan dy="-2.4">/VO</tspan><tspan font-size="8" dy="2.4">2</tspan></text>
<text x="47" y="503.2" font-size="8.45" text-anchor="start" fill="#231815" stroke="#231815" stroke-width="0.18">CL316,243</text>
<line x1="57.3" y1="507.8" x2="57.3" y2="521.06" stroke="#000000" stroke-width="1.6" stroke-linecap="butt"/>
<polygon points="54.2,518.5 60.4,518.5 57.3,524.9" fill="#000000"/>
<line x1="195.2" y1="480.8" x2="204.8" y2="480.8" stroke="#000000" stroke-width="1.5" stroke-linecap="butt"/>
<circle cx="200" cy="480.8" r="2.45" fill="#000000"/>
<text x="205.5" y="483.9" font-size="8.8" text-anchor="start" fill="#231815" stroke="#231815" stroke-width="0.18">WT</text>
<line x1="195.2" y1="489.7" x2="204.8" y2="489.7" stroke="#fb7f81" stroke-width="1.5" stroke-linecap="butt"/>
<rect x="197.7" y="487.4" width="4.6" height="4.6" fill="#fb7f81" />
<text x="205.5" y="492.8" font-size="8.8" text-anchor="start" fill="#231815" stroke="#231815" stroke-width="0.18">AKO</text>
<text x="343.3" y="464" font-size="13" text-anchor="start" fill="#231815" stroke="#231815" stroke-width="0.18" font-weight="bold">L</text>
<rect x="430.2" y="476" width="83" height="90.9" fill="#a2a2a6" />
<line x1="430.2" y1="476" x2="430.2" y2="566.9" stroke="#000000" stroke-width="1.1" stroke-linecap="butt"/>
<line x1="513.2" y1="476" x2="513.2" y2="566.9" stroke="#000000" stroke-width="1.1" stroke-linecap="butt"/>
<line x1="394.92" y1="532.36" x2="394.92" y2="537.81" stroke="#000000" stroke-width="1" stroke-linecap="butt"/>
<line x1="392.92" y1="532.36" x2="396.92" y2="532.36" stroke="#000000" stroke-width="1" stroke-linecap="butt"/>
<line x1="392.92" y1="537.81" x2="396.92" y2="537.81" stroke="#000000" stroke-width="1" stroke-linecap="butt"/>
<line x1="401.84" y1="505.54" x2="401.84" y2="514.63" stroke="#000000" stroke-width="1" stroke-linecap="butt"/>
<line x1="399.84" y1="505.54" x2="403.84" y2="505.54" stroke="#000000" stroke-width="1" stroke-linecap="butt"/>
<line x1="399.84" y1="514.63" x2="403.84" y2="514.63" stroke="#000000" stroke-width="1" stroke-linecap="butt"/>
<line x1="408.76" y1="508.95" x2="408.76" y2="515.77" stroke="#000000" stroke-width="1" stroke-linecap="butt"/>
<line x1="406.76" y1="508.95" x2="410.76" y2="508.95" stroke="#000000" stroke-width="1" stroke-linecap="butt"/>
<line x1="406.76" y1="515.77" x2="410.76" y2="515.77" stroke="#000000" stroke-width="1" stroke-linecap="butt"/>
<line x1="415.68" y1="508.5" x2="415.68" y2="513.95" stroke="#000000" stroke-width="1" stroke-linecap="butt"/>
<line x1="413.68" y1="508.5" x2="417.68" y2="508.5" stroke="#000000" stroke-width="1" stroke-linecap="butt"/>
<line x1="413.68" y1="513.95" x2="417.68" y2="513.95" stroke="#000000" stroke-width="1" stroke-linecap="butt"/>
<line x1="422.6" y1="512.36" x2="422.6" y2="519.18" stroke="#000000" stroke-width="1" stroke-linecap="butt"/>
<line x1="420.6" y1="512.36" x2="424.6" y2="512.36" stroke="#000000" stroke-width="1" stroke-linecap="butt"/>
<line x1="420.6" y1="519.18" x2="424.6" y2="519.18" stroke="#000000" stroke-width="1" stroke-linecap="butt"/>
<line x1="429.52" y1="509.63" x2="429.52" y2="515.09" stroke="#000000" stroke-width="1" stroke-linecap="butt"/>
<line x1="427.52" y1="509.63" x2="431.52" y2="509.63" stroke="#000000" stroke-width="1" stroke-linecap="butt"/>
<line x1="427.52" y1="515.09" x2="431.52" y2="515.09" stroke="#000000" stroke-width="1" stroke-linecap="butt"/>
<line x1="436.44" y1="497.13" x2="436.44" y2="502.59" stroke="#000000" stroke-width="1" stroke-linecap="butt"/>
<line x1="434.44" y1="497.13" x2="438.44" y2="497.13" stroke="#000000" stroke-width="1" stroke-linecap="butt"/>
<line x1="434.44" y1="502.59" x2="438.44" y2="502.59" stroke="#000000" stroke-width="1" stroke-linecap="butt"/>
<line x1="443.36" y1="482.14" x2="443.36" y2="493.5" stroke="#000000" stroke-width="1" stroke-linecap="butt"/>
<line x1="441.36" y1="482.14" x2="445.36" y2="482.14" stroke="#000000" stroke-width="1" stroke-linecap="butt"/>
<line x1="441.36" y1="493.5" x2="445.36" y2="493.5" stroke="#000000" stroke-width="1" stroke-linecap="butt"/>
<line x1="450.28" y1="488.95" x2="450.28" y2="500.32" stroke="#000000" stroke-width="1" stroke-linecap="butt"/>
<line x1="448.28" y1="488.95" x2="452.28" y2="488.95" stroke="#000000" stroke-width="1" stroke-linecap="butt"/>
<line x1="448.28" y1="500.32" x2="452.28" y2="500.32" stroke="#000000" stroke-width="1" stroke-linecap="butt"/>
<line x1="457.2" y1="500.54" x2="457.2" y2="514.18" stroke="#000000" stroke-width="1" stroke-linecap="butt"/>
<line x1="455.2" y1="500.54" x2="459.2" y2="500.54" stroke="#000000" stroke-width="1" stroke-linecap="butt"/>
<line x1="455.2" y1="514.18" x2="459.2" y2="514.18" stroke="#000000" stroke-width="1" stroke-linecap="butt"/>
<line x1="464.12" y1="498.73" x2="464.12" y2="510.09" stroke="#000000" stroke-width="1" stroke-linecap="butt"/>
<line x1="462.12" y1="498.73" x2="466.12" y2="498.73" stroke="#000000" stroke-width="1" stroke-linecap="butt"/>
<line x1="462.12" y1="510.09" x2="466.12" y2="510.09" stroke="#000000" stroke-width="1" stroke-linecap="butt"/>
<line x1="471.04" y1="494.18" x2="471.04" y2="507.81" stroke="#000000" stroke-width="1" stroke-linecap="butt"/>
<line x1="469.04" y1="494.18" x2="473.04" y2="494.18" stroke="#000000" stroke-width="1" stroke-linecap="butt"/>
<line x1="469.04" y1="507.81" x2="473.04" y2="507.81" stroke="#000000" stroke-width="1" stroke-linecap="butt"/>
<line x1="477.96" y1="497.59" x2="477.96" y2="508.95" stroke="#000000" stroke-width="1" stroke-linecap="butt"/>
<line x1="475.96" y1="497.59" x2="479.96" y2="497.59" stroke="#000000" stroke-width="1" stroke-linecap="butt"/>
<line x1="475.96" y1="508.95" x2="479.96" y2="508.95" stroke="#000000" stroke-width="1" stroke-linecap="butt"/>
<line x1="484.88" y1="501.45" x2="484.88" y2="515.09" stroke="#000000" stroke-width="1" stroke-linecap="butt"/>
<line x1="482.88" y1="501.45" x2="486.88" y2="501.45" stroke="#000000" stroke-width="1" stroke-linecap="butt"/>
<line x1="482.88" y1="515.09" x2="486.88" y2="515.09" stroke="#000000" stroke-width="1" stroke-linecap="butt"/>
<line x1="491.8" y1="516.9" x2="491.8" y2="528.27" stroke="#000000" stroke-width="1" stroke-linecap="butt"/>
<line x1="489.8" y1="516.9" x2="493.8" y2="516.9" stroke="#000000" stroke-width="1" stroke-linecap="butt"/>
<line x1="489.8" y1="528.27" x2="493.8" y2="528.27" stroke="#000000" stroke-width="1" stroke-linecap="butt"/>
<line x1="498.72" y1="520.31" x2="498.72" y2="533.95" stroke="#000000" stroke-width="1" stroke-linecap="butt"/>
<line x1="496.72" y1="520.31" x2="500.72" y2="520.31" stroke="#000000" stroke-width="1" stroke-linecap="butt"/>
<line x1="496.72" y1="533.95" x2="500.72" y2="533.95" stroke="#000000" stroke-width="1" stroke-linecap="butt"/>
<line x1="505.64" y1="508.95" x2="505.64" y2="524.86" stroke="#000000" stroke-width="1" stroke-linecap="butt"/>
<line x1="503.64" y1="508.95" x2="507.64" y2="508.95" stroke="#000000" stroke-width="1" stroke-linecap="butt"/>
<line x1="503.64" y1="524.86" x2="507.64" y2="524.86" stroke="#000000" stroke-width="1" stroke-linecap="butt"/>
<line x1="512.56" y1="499.86" x2="512.56" y2="513.5" stroke="#000000" stroke-width="1" stroke-linecap="butt"/>
<line x1="510.56" y1="499.86" x2="514.56" y2="499.86" stroke="#000000" stroke-width="1" stroke-linecap="butt"/>
<line x1="510.56" y1="513.5" x2="514.56" y2="513.5" stroke="#000000" stroke-width="1" stroke-linecap="butt"/>
<line x1="519.48" y1="501.22" x2="519.48" y2="511.22" stroke="#000000" stroke-width="1" stroke-linecap="butt"/>
<line x1="517.48" y1="501.22" x2="521.48" y2="501.22" stroke="#000000" stroke-width="1" stroke-linecap="butt"/>
<line x1="517.48" y1="511.22" x2="521.48" y2="511.22" stroke="#000000" stroke-width="1" stroke-linecap="butt"/>
<line x1="526.4" y1="509.41" x2="526.4" y2="517.59" stroke="#000000" stroke-width="1" stroke-linecap="butt"/>
<line x1="524.4" y1="509.41" x2="528.4" y2="509.41" stroke="#000000" stroke-width="1" stroke-linecap="butt"/>
<line x1="524.4" y1="517.59" x2="528.4" y2="517.59" stroke="#000000" stroke-width="1" stroke-linecap="butt"/>
<line x1="533.32" y1="508.95" x2="533.32" y2="515.77" stroke="#000000" stroke-width="1" stroke-linecap="butt"/>
<line x1="531.32" y1="508.95" x2="535.32" y2="508.95" stroke="#000000" stroke-width="1" stroke-linecap="butt"/>
<line x1="531.32" y1="515.77" x2="535.32" y2="515.77" stroke="#000000" stroke-width="1" stroke-linecap="butt"/>
<line x1="540.24" y1="515.77" x2="540.24" y2="525.77" stroke="#000000" stroke-width="1" stroke-linecap="butt"/>
<line x1="538.24" y1="515.77" x2="542.24" y2="515.77" stroke="#000000" stroke-width="1" stroke-linecap="butt"/>
<line x1="538.24" y1="525.77" x2="542.24" y2="525.77" stroke="#000000" stroke-width="1" stroke-linecap="butt"/>
<line x1="547.16" y1="518.72" x2="547.16" y2="524.18" stroke="#000000" stroke-width="1" stroke-linecap="butt"/>
<line x1="545.16" y1="518.72" x2="549.16" y2="518.72" stroke="#000000" stroke-width="1" stroke-linecap="butt"/>
<line x1="545.16" y1="524.18" x2="549.16" y2="524.18" stroke="#000000" stroke-width="1" stroke-linecap="butt"/>
<line x1="554.08" y1="524.4" x2="554.08" y2="529.86" stroke="#000000" stroke-width="1" stroke-linecap="butt"/>
<line x1="552.08" y1="524.4" x2="556.08" y2="524.4" stroke="#000000" stroke-width="1" stroke-linecap="butt"/>
<line x1="552.08" y1="529.86" x2="556.08" y2="529.86" stroke="#000000" stroke-width="1" stroke-linecap="butt"/>
<polyline points="394.92,535.08 401.84,510.09 408.76,512.36 415.68,511.22 422.6,515.77 429.52,512.36 436.44,499.86 443.36,487.82 450.28,494.63 457.2,507.36 464.12,504.41 471.04,501 477.96,503.27 484.88,508.27 491.8,522.59 498.72,527.13 505.64,516.9 512.56,506.68 519.48,506.22 526.4,513.5 533.32,512.36 540.24,520.77 547.16,521.45 554.08,527.13" fill="none" stroke="#000000" stroke-width="1.3" stroke-linejoin="round"/>
<circle cx="394.92" cy="535.08" r="2" fill="#000000"/>
<circle cx="401.84" cy="510.09" r="2" fill="#000000"/>
<circle cx="408.76" cy="512.36" r="2" fill="#000000"/>
<circle cx="415.68" cy="511.22" r="2" fill="#000000"/>
<circle cx="422.6" cy="515.77" r="2" fill="#000000"/>
<circle cx="429.52" cy="512.36" r="2" fill="#000000"/>
<circle cx="436.44" cy="499.86" r="2" fill="#000000"/>
<circle cx="443.36" cy="487.82" r="2" fill="#000000"/>
<circle cx="450.28" cy="494.63" r="2" fill="#000000"/>
<circle cx="457.2" cy="507.36" r="2" fill="#000000"/>
<circle cx="464.12" cy="504.41" r="2" fill="#000000"/>
<circle cx="471.04" cy="501" r="2" fill="#000000"/>
<circle cx="477.96" cy="503.27" r="2" fill="#000000"/>
<circle cx="484.88" cy="508.27" r="2" fill="#000000"/>
<circle cx="491.8" cy="522.59" r="2" fill="#000000"/>
<circle cx="498.72" cy="527.13" r="2" fill="#000000"/>
<circle cx="505.64" cy="516.9" r="2" fill="#000000"/>
<circle cx="512.56" cy="506.68" r="2" fill="#000000"/>
<circle cx="519.48" cy="506.22" r="2" fill="#000000"/>
<circle cx="526.4" cy="513.5" r="2" fill="#000000"/>
<circle cx="533.32" cy="512.36" r="2" fill="#000000"/>
<circle cx="540.24" cy="520.77" r="2" fill="#000000"/>
<circle cx="547.16" cy="521.45" r="2" fill="#000000"/>
<circle cx="554.08" cy="527.13" r="2" fill="#000000"/>
<line x1="394.92" y1="536.22" x2="394.92" y2="543.04" stroke="#fb7f81" stroke-width="1" stroke-linecap="butt"/>
<line x1="392.92" y1="536.22" x2="396.92" y2="536.22" stroke="#fb7f81" stroke-width="1" stroke-linecap="butt"/>
<line x1="392.92" y1="543.04" x2="396.92" y2="543.04" stroke="#fb7f81" stroke-width="1" stroke-linecap="butt"/>
<line x1="401.84" y1="518.04" x2="401.84" y2="531.68" stroke="#fb7f81" stroke-width="1" stroke-linecap="butt"/>
<line x1="399.84" y1="518.04" x2="403.84" y2="518.04" stroke="#fb7f81" stroke-width="1" stroke-linecap="butt"/>
<line x1="399.84" y1="531.68" x2="403.84" y2="531.68" stroke="#fb7f81" stroke-width="1" stroke-linecap="butt"/>
<line x1="408.76" y1="518.04" x2="408.76" y2="529.4" stroke="#fb7f81" stroke-width="1" stroke-linecap="butt"/>
<line x1="406.76" y1="518.04" x2="410.76" y2="518.04" stroke="#fb7f81" stroke-width="1" stroke-linecap="butt"/>
<line x1="406.76" y1="529.4" x2="410.76" y2="529.4" stroke="#fb7f81" stroke-width="1" stroke-linecap="butt"/>
<line x1="415.68" y1="519.4" x2="415.68" y2="529.4" stroke="#fb7f81" stroke-width="1" stroke-linecap="butt"/>
<line x1="413.68" y1="519.4" x2="417.68" y2="519.4" stroke="#fb7f81" stroke-width="1" stroke-linecap="butt"/>
<line x1="413.68" y1="529.4" x2="417.68" y2="529.4" stroke="#fb7f81" stroke-width="1" stroke-linecap="butt"/>
<line x1="422.6" y1="521" x2="422.6" y2="530.99" stroke="#fb7f81" stroke-width="1" stroke-linecap="butt"/>
<line x1="420.6" y1="521" x2="424.6" y2="521" stroke="#fb7f81" stroke-width="1" stroke-linecap="butt"/>
<line x1="420.6" y1="530.99" x2="424.6" y2="530.99" stroke="#fb7f81" stroke-width="1" stroke-linecap="butt"/>
<line x1="429.52" y1="521.68" x2="429.52" y2="531.68" stroke="#fb7f81" stroke-width="1" stroke-linecap="butt"/>
<line x1="427.52" y1="521.68" x2="431.52" y2="521.68" stroke="#fb7f81" stroke-width="1" stroke-linecap="butt"/>
<line x1="427.52" y1="531.68" x2="431.52" y2="531.68" stroke="#fb7f81" stroke-width="1" stroke-linecap="butt"/>
<line x1="436.44" y1="503.27" x2="436.44" y2="512.36" stroke="#fb7f81" stroke-width="1" stroke-linecap="butt"/>
<line x1="434.44" y1="503.27" x2="438.44" y2="503.27" stroke="#fb7f81" stroke-width="1" stroke-linecap="butt"/>
<line x1="434.44" y1="512.36" x2="438.44" y2="512.36" stroke="#fb7f81" stroke-width="1" stroke-linecap="butt"/>
<line x1="443.36" y1="502.13" x2="443.36" y2="511.22" stroke="#fb7f81" stroke-width="1" stroke-linecap="butt"/>
<line x1="441.36" y1="502.13" x2="445.36" y2="502.13" stroke="#fb7f81" stroke-width="1" stroke-linecap="butt"/>
<line x1="441.36" y1="511.22" x2="445.36" y2="511.22" stroke="#fb7f81" stroke-width="1" stroke-linecap="butt"/>
<line x1="450.28" y1="504.86" x2="450.28" y2="513.04" stroke="#fb7f81" stroke-width="1" stroke-linecap="butt"/>
<line x1="448.28" y1="504.86" x2="452.28" y2="504.86" stroke="#fb7f81" stroke-width="1" stroke-linecap="butt"/>
<line x1="448.28" y1="513.04" x2="452.28" y2="513.04" stroke="#fb7f81" stroke-width="1" stroke-linecap="butt"/>
<line x1="457.2" y1="514.63" x2="457.2" y2="523.72" stroke="#fb7f81" stroke-width="1" stroke-linecap="butt"/>
<line x1="455.2" y1="514.63" x2="459.2" y2="514.63" stroke="#fb7f81" stroke-width="1" stroke-linecap="butt"/>
<line x1="455.2" y1="523.72" x2="459.2" y2="523.72" stroke="#fb7f81" stroke-width="1" stroke-linecap="butt"/>
<line x1="464.12" y1="519.18" x2="464.12" y2="530.54" stroke="#fb7f81" stroke-width="1" stroke-linecap="butt"/>
<line x1="462.12" y1="519.18" x2="466.12" y2="519.18" stroke="#fb7f81" stroke-width="1" stroke-linecap="butt"/>
<line x1="462.12" y1="530.54" x2="466.12" y2="530.54" stroke="#fb7f81" stroke-width="1" stroke-linecap="butt"/>
<line x1="471.04" y1="516.22" x2="471.04" y2="528.95" stroke="#fb7f81" stroke-width="1" stroke-linecap="butt"/>
<line x1="469.04" y1="516.22" x2="473.04" y2="516.22" stroke="#fb7f81" stroke-width="1" stroke-linecap="butt"/>
<line x1="469.04" y1="528.95" x2="473.04" y2="528.95" stroke="#fb7f81" stroke-width="1" stroke-linecap="butt"/>
<line x1="477.96" y1="522.13" x2="477.96" y2="532.13" stroke="#fb7f81" stroke-width="1" stroke-linecap="butt"/>
<line x1="475.96" y1="522.13" x2="479.96" y2="522.13" stroke="#fb7f81" stroke-width="1" stroke-linecap="butt"/>
<line x1="475.96" y1="532.13" x2="479.96" y2="532.13" stroke="#fb7f81" stroke-width="1" stroke-linecap="butt"/>
<line x1="484.88" y1="512.36" x2="484.88" y2="526" stroke="#fb7f81" stroke-width="1" stroke-linecap="butt"/>
<line x1="482.88" y1="512.36" x2="486.88" y2="512.36" stroke="#fb7f81" stroke-width="1" stroke-linecap="butt"/>
<line x1="482.88" y1="526" x2="486.88" y2="526" stroke="#fb7f81" stroke-width="1" stroke-linecap="butt"/>
<line x1="491.8" y1="518.72" x2="491.8" y2="528.72" stroke="#fb7f81" stroke-width="1" stroke-linecap="butt"/>
<line x1="489.8" y1="518.72" x2="493.8" y2="518.72" stroke="#fb7f81" stroke-width="1" stroke-linecap="butt"/>
<line x1="489.8" y1="528.72" x2="493.8" y2="528.72" stroke="#fb7f81" stroke-width="1" stroke-linecap="butt"/>
<line x1="498.72" y1="519.86" x2="498.72" y2="531.22" stroke="#fb7f81" stroke-width="1" stroke-linecap="butt"/>
<line x1="496.72" y1="519.86" x2="500.72" y2="519.86" stroke="#fb7f81" stroke-width="1" stroke-linecap="butt"/>
<line x1="496.72" y1="531.22" x2="500.72" y2="531.22" stroke="#fb7f81" stroke-width="1" stroke-linecap="butt"/>
<line x1="505.64" y1="522.59" x2="505.64" y2="538.49" stroke="#fb7f81" stroke-width="1" stroke-linecap="butt"/>
<line x1="503.64" y1="522.59" x2="507.64" y2="522.59" stroke="#fb7f81" stroke-width="1" stroke-linecap="butt"/>
<line x1="503.64" y1="538.49" x2="507.64" y2="538.49" stroke="#fb7f81" stroke-width="1" stroke-linecap="butt"/>
<line x1="512.56" y1="513.95" x2="512.56" y2="526.68" stroke="#fb7f81" stroke-width="1" stroke-linecap="butt"/>
<line x1="510.56" y1="513.95" x2="514.56" y2="513.95" stroke="#fb7f81" stroke-width="1" stroke-linecap="butt"/>
<line x1="510.56" y1="526.68" x2="514.56" y2="526.68" stroke="#fb7f81" stroke-width="1" stroke-linecap="butt"/>
<line x1="519.48" y1="518.5" x2="519.48" y2="531.22" stroke="#fb7f81" stroke-width="1" stroke-linecap="butt"/>
<line x1="517.48" y1="518.5" x2="521.48" y2="518.5" stroke="#fb7f81" stroke-width="1" stroke-linecap="butt"/>
<line x1="517.48" y1="531.22" x2="521.48" y2="531.22" stroke="#fb7f81" stroke-width="1" stroke-linecap="butt"/>
<line x1="526.4" y1="515.77" x2="526.4" y2="522.59" stroke="#fb7f81" stroke-width="1" stroke-linecap="butt"/>
<line x1="524.4" y1="515.77" x2="528.4" y2="515.77" stroke="#fb7f81" stroke-width="1" stroke-linecap="butt"/>
<line x1="524.4" y1="522.59" x2="528.4" y2="522.59" stroke="#fb7f81" stroke-width="1" stroke-linecap="butt"/>
<line x1="533.32" y1="524.86" x2="533.32" y2="533.95" stroke="#fb7f81" stroke-width="1" stroke-linecap="butt"/>
<line x1="531.32" y1="524.86" x2="535.32" y2="524.86" stroke="#fb7f81" stroke-width="1" stroke-linecap="butt"/>
<line x1="531.32" y1="533.95" x2="535.32" y2="533.95" stroke="#fb7f81" stroke-width="1" stroke-linecap="butt"/>
<line x1="540.24" y1="532.13" x2="540.24" y2="540.31" stroke="#fb7f81" stroke-width="1" stroke-linecap="butt"/>
<line x1="538.24" y1="532.13" x2="542.24" y2="532.13" stroke="#fb7f81" stroke-width="1" stroke-linecap="butt"/>
<line x1="538.24" y1="540.31" x2="542.24" y2="540.31" stroke="#fb7f81" stroke-width="1" stroke-linecap="butt"/>
<line x1="547.16" y1="529.4" x2="547.16" y2="538.49" stroke="#fb7f81" stroke-width="1" stroke-linecap="butt"/>
<line x1="545.16" y1="529.4" x2="549.16" y2="529.4" stroke="#fb7f81" stroke-width="1" stroke-linecap="butt"/>
<line x1="545.16" y1="538.49" x2="549.16" y2="538.49" stroke="#fb7f81" stroke-width="1" stroke-linecap="butt"/>
<line x1="554.08" y1="533.95" x2="554.08" y2="545.31" stroke="#fb7f81" stroke-width="1" stroke-linecap="butt"/>
<line x1="552.08" y1="533.95" x2="556.08" y2="533.95" stroke="#fb7f81" stroke-width="1" stroke-linecap="butt"/>
<line x1="552.08" y1="545.31" x2="556.08" y2="545.31" stroke="#fb7f81" stroke-width="1" stroke-linecap="butt"/>
<polyline points="394.92,539.63 401.84,524.86 408.76,523.72 415.68,524.4 422.6,526 429.52,526.68 436.44,507.81 443.36,506.68 450.28,508.95 457.2,519.18 464.12,524.86 471.04,522.59 477.96,527.13 484.88,519.18 491.8,523.72 498.72,525.54 505.64,530.54 512.56,520.31 519.48,524.86 526.4,519.18 533.32,529.4 540.24,536.22 547.16,533.95 554.08,539.63" fill="none" stroke="#fb7f81" stroke-width="1.3" stroke-linejoin="round"/>
<rect x="392.92" y="537.63" width="4" height="4" fill="#fb7f81" />
<rect x="399.84" y="522.86" width="4" height="4" fill="#fb7f81" />
<rect x="406.76" y="521.72" width="4" height="4" fill="#fb7f81" />
<rect x="413.68" y="522.4" width="4" height="4" fill="#fb7f81" />
<rect x="420.6" y="524" width="4" height="4" fill="#fb7f81" />
<rect x="427.52" y="524.68" width="4" height="4" fill="#fb7f81" />
<rect x="434.44" y="505.81" width="4" height="4" fill="#fb7f81" />
<rect x="441.36" y="504.68" width="4" height="4" fill="#fb7f81" />
<rect x="448.28" y="506.95" width="4" height="4" fill="#fb7f81" />
<rect x="455.2" y="517.18" width="4" height="4" fill="#fb7f81" />
<rect x="462.12" y="522.86" width="4" height="4" fill="#fb7f81" />
<rect x="469.04" y="520.59" width="4" height="4" fill="#fb7f81" />
<rect x="475.96" y="525.13" width="4" height="4" fill="#fb7f81" />
<rect x="482.88" y="517.18" width="4" height="4" fill="#fb7f81" />
<rect x="489.8" y="521.72" width="4" height="4" fill="#fb7f81" />
<rect x="496.72" y="523.54" width="4" height="4" fill="#fb7f81" />
<rect x="503.64" y="528.54" width="4" height="4" fill="#fb7f81" />
<rect x="510.56" y="518.31" width="4" height="4" fill="#fb7f81" />
<rect x="517.48" y="522.86" width="4" height="4" fill="#fb7f81" />
<rect x="524.4" y="517.18" width="4" height="4" fill="#fb7f81" />
<rect x="531.32" y="527.4" width="4" height="4" fill="#fb7f81" />
<rect x="538.24" y="534.22" width="4" height="4" fill="#fb7f81" />
<rect x="545.16" y="531.95" width="4" height="4" fill="#fb7f81" />
<rect x="552.08" y="537.63" width="4" height="4" fill="#fb7f81" />
<rect x="381.7" y="476" width="180.3" height="90.9" fill="none" stroke="#000000" stroke-width="1.2" />
<line x1="378.9" y1="566.9" x2="381.7" y2="566.9" stroke="#000000" stroke-width="1.1" stroke-linecap="butt"/>
<text x="377.9" y="569.6" font-size="8.6" text-anchor="end" fill="#231815" stroke="#231815" stroke-width="0.18">0.3</text>
<line x1="378.9" y1="544.17" x2="381.7" y2="544.17" stroke="#000000" stroke-width="1.1" stroke-linecap="butt"/>
<text x="377.9" y="546.88" font-size="8.6" text-anchor="end" fill="#231815" stroke="#231815" stroke-width="0.18">0.4</text>
<line x1="378.9" y1="521.45" x2="381.7" y2="521.45" stroke="#000000" stroke-width="1.1" stroke-linecap="butt"/>
<text x="377.9" y="524.15" font-size="8.6" text-anchor="end" fill="#231815" stroke="#231815" stroke-width="0.18">0.5</text>
<line x1="378.9" y1="498.73" x2="381.7" y2="498.73" stroke="#000000" stroke-width="1.1" stroke-linecap="butt"/>
<text x="377.9" y="501.43" font-size="8.6" text-anchor="end" fill="#231815" stroke="#231815" stroke-width="0.18">0.6</text>
<line x1="378.9" y1="476" x2="381.7" y2="476" stroke="#000000" stroke-width="1.1" stroke-linecap="butt"/>
<text x="377.9" y="478.7" font-size="8.6" text-anchor="end" fill="#231815" stroke="#231815" stroke-width="0.18">0.7</text>
<line x1="388" y1="566.9" x2="388" y2="570.5" stroke="#000000" stroke-width="1.1" stroke-linecap="butt"/>
<text x="388" y="577.4" font-size="8.6" text-anchor="middle" fill="#231815" stroke="#231815" stroke-width="0.18">0</text>
<line x1="429.52" y1="566.9" x2="429.52" y2="570.5" stroke="#000000" stroke-width="1.1" stroke-linecap="butt"/>
<text x="429.52" y="577.4" font-size="8.6" text-anchor="middle" fill="#231815" stroke="#231815" stroke-width="0.18">6</text>
<line x1="471.04" y1="566.9" x2="471.04" y2="570.5" stroke="#000000" stroke-width="1.1" stroke-linecap="butt"/>
<text x="471.04" y="577.4" font-size="8.6" text-anchor="middle" fill="#231815" stroke="#231815" stroke-width="0.18">12</text>
<line x1="512.56" y1="566.9" x2="512.56" y2="570.5" stroke="#000000" stroke-width="1.1" stroke-linecap="butt"/>
<text x="512.56" y="577.4" font-size="8.6" text-anchor="middle" fill="#231815" stroke="#231815" stroke-width="0.18">18</text>
<line x1="554.08" y1="566.9" x2="554.08" y2="570.5" stroke="#000000" stroke-width="1.1" stroke-linecap="butt"/>
<text x="554.08" y="577.4" font-size="8.6" text-anchor="middle" fill="#231815" stroke="#231815" stroke-width="0.18">24</text>
<text x="472.24" y="586.6" font-size="8.9" text-anchor="middle" fill="#231815" stroke="#231815" stroke-width="0.18">Time (h)</text>
<text x="470" y="468" font-size="9.9" text-anchor="middle" fill="#231815" stroke="#231815" stroke-width="0.18">Energy Expenditure</text>
<text x="0" y="0" font-size="8.8" text-anchor="middle" fill="#231815" stroke="#231815" stroke-width="0.18" transform="translate(358.8 520) rotate(-90)">kcal/h</text>
<text x="383.7" y="492.6" font-size="8.45" text-anchor="start" fill="#231815" stroke="#231815" stroke-width="0.18">CL316,243</text>
<line x1="394.3" y1="497" x2="394.3" y2="510.56" stroke="#000000" stroke-width="1.6" stroke-linecap="butt"/>
<polygon points="391.2,508 397.4,508 394.3,514.4" fill="#000000"/>
<line x1="530.5" y1="481.6" x2="540.1" y2="481.6" stroke="#000000" stroke-width="1.5" stroke-linecap="butt"/>
<circle cx="535.3" cy="481.6" r="2.45" fill="#000000"/>
<text x="541" y="484.7" font-size="8.8" text-anchor="start" fill="#231815" stroke="#231815" stroke-width="0.18">WT</text>
<line x1="530.5" y1="491.4" x2="540.1" y2="491.4" stroke="#fb7f81" stroke-width="1.5" stroke-linecap="butt"/>
<rect x="533" y="489.1" width="4.6" height="4.6" fill="#fb7f81" />
<text x="541" y="494.5" font-size="8.8" text-anchor="start" fill="#231815" stroke="#231815" stroke-width="0.18">AKO</text>
<rect x="279.4" y="339.2" width="27.2" height="88" fill="#fdc17b" />
<rect x="306.6" y="339.2" width="27.6" height="88" fill="#a2a2a6" />
<rect x="256" y="365.23" width="8.7" height="61.97" fill="#000000" />
<line x1="260.35" y1="363.85" x2="260.35" y2="365.73" stroke="#000000" stroke-width="1.2" stroke-linecap="butt"/>
<line x1="257.75" y1="363.85" x2="262.95" y2="363.85" stroke="#000000" stroke-width="1.2" stroke-linecap="butt"/>
<circle cx="258.35" cy="360.8" r="1.8" fill="#ffffff" stroke="#000000" stroke-width="1.1"/>
<circle cx="262.35" cy="361.91" r="1.8" fill="#ffffff" stroke="#000000" stroke-width="1.1"/>
<circle cx="260.35" cy="364.68" r="1.8" fill="#ffffff" stroke="#000000" stroke-width="1.1"/>
<circle cx="258.15" cy="366.34" r="1.8" fill="#ffffff" stroke="#000000" stroke-width="1.1"/>
<circle cx="262.55" cy="368" r="1.8" fill="#ffffff" stroke="#000000" stroke-width="1.1"/>
<circle cx="260.35" cy="369.1" r="1.8" fill="#ffffff" stroke="#000000" stroke-width="1.1"/>
<rect x="269.4" y="368.55" width="8.6" height="58.65" fill="#fb7f81" />
<line x1="273.7" y1="366.89" x2="273.7" y2="369.05" stroke="#fb7f81" stroke-width="1.2" stroke-linecap="butt"/>
<line x1="271.1" y1="366.89" x2="276.3" y2="366.89" stroke="#fb7f81" stroke-width="1.2" stroke-linecap="butt"/>
<rect x="273.9" y="362.88" width="3.6" height="3.6" fill="#ffffff" stroke="#fb7f81" stroke-width="1" />
<rect x="269.9" y="364.54" width="3.6" height="3.6" fill="#ffffff" stroke="#fb7f81" stroke-width="1" />
<rect x="272.4" y="366.2" width="3.6" height="3.6" fill="#ffffff" stroke="#fb7f81" stroke-width="1" />
<rect x="269.9" y="367.86" width="3.6" height="3.6" fill="#ffffff" stroke="#fb7f81" stroke-width="1" />
<rect x="273.9" y="370.07" width="3.6" height="3.6" fill="#ffffff" stroke="#fb7f81" stroke-width="1" />
<rect x="271.9" y="374.5" width="3.6" height="3.6" fill="#ffffff" stroke="#fb7f81" stroke-width="1" />
<rect x="282" y="367.44" width="9.2" height="59.76" fill="#000000" />
<line x1="286.6" y1="365.78" x2="286.6" y2="367.94" stroke="#000000" stroke-width="1.2" stroke-linecap="butt"/>
<line x1="284" y1="365.78" x2="289.2" y2="365.78" stroke="#000000" stroke-width="1.2" stroke-linecap="butt"/>
<circle cx="284.6" cy="363.02" r="1.8" fill="#ffffff" stroke="#000000" stroke-width="1.1"/>
<circle cx="288.6" cy="364.68" r="1.8" fill="#ffffff" stroke="#000000" stroke-width="1.1"/>
<circle cx="286.6" cy="366.34" r="1.8" fill="#ffffff" stroke="#000000" stroke-width="1.1"/>
<circle cx="288.8" cy="368.55" r="1.8" fill="#ffffff" stroke="#000000" stroke-width="1.1"/>
<circle cx="284.4" cy="370.21" r="1.8" fill="#ffffff" stroke="#000000" stroke-width="1.1"/>
<circle cx="286.9" cy="371.87" r="1.8" fill="#ffffff" stroke="#000000" stroke-width="1.1"/>
<rect x="295.5" y="370.76" width="8.5" height="56.44" fill="#fb7f81" />
<line x1="299.75" y1="368.83" x2="299.75" y2="371.26" stroke="#fb7f81" stroke-width="1.2" stroke-linecap="butt"/>
<line x1="297.15" y1="368.83" x2="302.35" y2="368.83" stroke="#fb7f81" stroke-width="1.2" stroke-linecap="butt"/>
<rect x="297.95" y="363.98" width="3.6" height="3.6" fill="#ffffff" stroke="#fb7f81" stroke-width="1" />
<rect x="295.95" y="366.75" width="3.6" height="3.6" fill="#ffffff" stroke="#fb7f81" stroke-width="1" />
<rect x="299.95" y="368.41" width="3.6" height="3.6" fill="#ffffff" stroke="#fb7f81" stroke-width="1" />
<rect x="295.95" y="370.07" width="3.6" height="3.6" fill="#ffffff" stroke="#fb7f81" stroke-width="1" />
<rect x="299.95" y="372.28" width="3.6" height="3.6" fill="#ffffff" stroke="#fb7f81" stroke-width="1" />
<rect x="297.95" y="377.82" width="3.6" height="3.6" fill="#ffffff" stroke="#fb7f81" stroke-width="1" />
<rect x="308" y="360.8" width="9.4" height="66.4" fill="#000000" />
<line x1="312.7" y1="359.7" x2="312.7" y2="361.3" stroke="#000000" stroke-width="1.2" stroke-linecap="butt"/>
<line x1="310.1" y1="359.7" x2="315.3" y2="359.7" stroke="#000000" stroke-width="1.2" stroke-linecap="butt"/>
<circle cx="312.7" cy="358.04" r="1.8" fill="#ffffff" stroke="#000000" stroke-width="1.1"/>
<circle cx="310.5" cy="359.14" r="1.8" fill="#ffffff" stroke="#000000" stroke-width="1.1"/>
<circle cx="314.9" cy="360.25" r="1.8" fill="#ffffff" stroke="#000000" stroke-width="1.1"/>
<circle cx="311.2" cy="361.36" r="1.8" fill="#ffffff" stroke="#000000" stroke-width="1.1"/>
<circle cx="314.5" cy="362.46" r="1.8" fill="#ffffff" stroke="#000000" stroke-width="1.1"/>
<circle cx="312.7" cy="363.02" r="1.8" fill="#ffffff" stroke="#000000" stroke-width="1.1"/>
<rect x="321.7" y="366.34" width="9.1" height="60.86" fill="#fb7f81" />
<line x1="326.25" y1="364.68" x2="326.25" y2="366.84" stroke="#fb7f81" stroke-width="1.2" stroke-linecap="butt"/>
<line x1="323.65" y1="364.68" x2="328.85" y2="364.68" stroke="#fb7f81" stroke-width="1.2" stroke-linecap="butt"/>
<rect x="326.45" y="362.32" width="3.6" height="3.6" fill="#ffffff" stroke="#fb7f81" stroke-width="1" />
<rect x="322.45" y="363.43" width="3.6" height="3.6" fill="#ffffff" stroke="#fb7f81" stroke-width="1" />
<rect x="324.45" y="364.54" width="3.6" height="3.6" fill="#ffffff" stroke="#fb7f81" stroke-width="1" />
<rect x="326.45" y="365.64" width="3.6" height="3.6" fill="#ffffff" stroke="#fb7f81" stroke-width="1" />
<rect x="323.45" y="368.41" width="3.6" height="3.6" fill="#ffffff" stroke="#fb7f81" stroke-width="1" />
<rect x="324.45" y="373.39" width="3.6" height="3.6" fill="#ffffff" stroke="#fb7f81" stroke-width="1" />
<line x1="252.6" y1="343.4" x2="252.6" y2="427.9" stroke="#000000" stroke-width="1.4" stroke-linecap="butt"/>
<line x1="251.9" y1="427.2" x2="335.8" y2="427.2" stroke="#000000" stroke-width="1.4" stroke-linecap="butt"/>
<line x1="249" y1="427.2" x2="252.6" y2="427.2" stroke="#000000" stroke-width="1.1" stroke-linecap="butt"/>
<text x="248.4" y="430.2" font-size="9" text-anchor="end" fill="#231815" stroke="#231815" stroke-width="0.18">0</text>
<line x1="249" y1="399.53" x2="252.6" y2="399.53" stroke="#000000" stroke-width="1.1" stroke-linecap="butt"/>
<text x="248.4" y="402.53" font-size="9" text-anchor="end" fill="#231815" stroke="#231815" stroke-width="0.18">50</text>
<line x1="249" y1="371.87" x2="252.6" y2="371.87" stroke="#000000" stroke-width="1.1" stroke-linecap="butt"/>
<text x="248.4" y="374.87" font-size="9" text-anchor="end" fill="#231815" stroke="#231815" stroke-width="0.18">100</text>
<line x1="249" y1="344.2" x2="252.6" y2="344.2" stroke="#000000" stroke-width="1.1" stroke-linecap="butt"/>
<text x="248.4" y="347.2" font-size="9" text-anchor="end" fill="#231815" stroke="#231815" stroke-width="0.18">150</text>
<line x1="267" y1="427.2" x2="267" y2="430.6" stroke="#000000" stroke-width="1.1" stroke-linecap="butt"/>
<text x="265.6" y="441" font-size="9" text-anchor="middle" fill="#231815" stroke="#231815" stroke-width="0.18">Total</text>
<line x1="293" y1="427.2" x2="293" y2="430.6" stroke="#000000" stroke-width="1.1" stroke-linecap="butt"/>
<text x="294.2" y="441" font-size="9" text-anchor="middle" fill="#231815" stroke="#231815" stroke-width="0.18">Light</text>
<line x1="319.4" y1="427.2" x2="319.4" y2="430.6" stroke="#000000" stroke-width="1.1" stroke-linecap="butt"/>
<text x="319.8" y="441" font-size="9" text-anchor="middle" fill="#231815" stroke="#231815" stroke-width="0.18">Dark</text>
<line x1="260.3" y1="355.3" x2="273.7" y2="355.3" stroke="#231815" stroke-width="1.2" stroke-linecap="butt"/>
<text x="0" y="0" font-size="8.6" text-anchor="middle" fill="#231815" stroke="#231815" stroke-width="0.18" transform="translate(267 355.5) scale(0.95 1)">*</text>
<line x1="312.3" y1="351.3" x2="324.8" y2="351.3" stroke="#231815" stroke-width="1.2" stroke-linecap="butt"/>
<text x="0" y="0" font-size="8.6" text-anchor="middle" fill="#231815" stroke="#231815" stroke-width="0.18" transform="translate(318.55 351.5) scale(0.95 1)">**</text>
<text x="293" y="332.3" font-size="9.6" text-anchor="middle" fill="#231815" stroke="#231815" stroke-width="0.18">VO<tspan font-size="6.6" dy="2.2" dx="0.4">2</tspan></text>
<rect x="616" y="341" width="25.8" height="85.8" fill="#fdc17b" />
<rect x="641.8" y="341" width="26" height="85.8" fill="#a2a2a6" />
<rect x="591.6" y="355.43" width="9.4" height="71.37" fill="#000000" />
<line x1="596.3" y1="354.62" x2="596.3" y2="355.93" stroke="#000000" stroke-width="1.2" stroke-linecap="butt"/>
<line x1="593.7" y1="354.62" x2="598.9" y2="354.62" stroke="#000000" stroke-width="1.2" stroke-linecap="butt"/>
<circle cx="594.3" cy="353.81" r="1.8" fill="#ffffff" stroke="#000000" stroke-width="1.1"/>
<circle cx="596.3" cy="354.62" r="1.8" fill="#ffffff" stroke="#000000" stroke-width="1.1"/>
<circle cx="598.3" cy="355.43" r="1.8" fill="#ffffff" stroke="#000000" stroke-width="1.1"/>
<circle cx="594.3" cy="356.24" r="1.8" fill="#ffffff" stroke="#000000" stroke-width="1.1"/>
<circle cx="598.3" cy="356.24" r="1.8" fill="#ffffff" stroke="#000000" stroke-width="1.1"/>
<rect x="604.6" y="361.11" width="9" height="65.69" fill="#fb7f81" />
<line x1="609.1" y1="359.89" x2="609.1" y2="361.61" stroke="#fb7f81" stroke-width="1.2" stroke-linecap="butt"/>
<line x1="606.5" y1="359.89" x2="611.7" y2="359.89" stroke="#fb7f81" stroke-width="1.2" stroke-linecap="butt"/>
<rect x="607.3" y="357.69" width="3.6" height="3.6" fill="#ffffff" stroke="#fb7f81" stroke-width="1" />
<rect x="605.3" y="359.31" width="3.6" height="3.6" fill="#ffffff" stroke="#fb7f81" stroke-width="1" />
<rect x="609.3" y="360.12" width="3.6" height="3.6" fill="#ffffff" stroke="#fb7f81" stroke-width="1" />
<rect x="609.3" y="361.74" width="3.6" height="3.6" fill="#ffffff" stroke="#fb7f81" stroke-width="1" />
<rect x="605.3" y="363.36" width="3.6" height="3.6" fill="#ffffff" stroke="#fb7f81" stroke-width="1" />
<rect x="605.3" y="369.04" width="3.6" height="3.6" fill="#ffffff" stroke="#fb7f81" stroke-width="1" />
<rect x="617.6" y="356.24" width="9" height="70.56" fill="#000000" />
<line x1="622.1" y1="355.27" x2="622.1" y2="356.74" stroke="#000000" stroke-width="1.2" stroke-linecap="butt"/>
<line x1="619.5" y1="355.27" x2="624.7" y2="355.27" stroke="#000000" stroke-width="1.2" stroke-linecap="butt"/>
<circle cx="620.1" cy="354.62" r="1.8" fill="#ffffff" stroke="#000000" stroke-width="1.1"/>
<circle cx="623.1" cy="355.43" r="1.8" fill="#ffffff" stroke="#000000" stroke-width="1.1"/>
<circle cx="624.1" cy="357.05" r="1.8" fill="#ffffff" stroke="#000000" stroke-width="1.1"/>
<circle cx="620.1" cy="357.87" r="1.8" fill="#ffffff" stroke="#000000" stroke-width="1.1"/>
<circle cx="622.1" cy="360.3" r="1.8" fill="#ffffff" stroke="#000000" stroke-width="1.1"/>
<rect x="630.6" y="363.54" width="8.8" height="63.26" fill="#fb7f81" />
<line x1="635" y1="361.92" x2="635" y2="364.04" stroke="#fb7f81" stroke-width="1.2" stroke-linecap="butt"/>
<line x1="632.4" y1="361.92" x2="637.6" y2="361.92" stroke="#fb7f81" stroke-width="1.2" stroke-linecap="butt"/>
<rect x="633.2" y="359.31" width="3.6" height="3.6" fill="#ffffff" stroke="#fb7f81" stroke-width="1" />
<rect x="635.2" y="360.93" width="3.6" height="3.6" fill="#ffffff" stroke="#fb7f81" stroke-width="1" />
<rect x="631.2" y="362.55" width="3.6" height="3.6" fill="#ffffff" stroke="#fb7f81" stroke-width="1" />
<rect x="631.2" y="364.99" width="3.6" height="3.6" fill="#ffffff" stroke="#fb7f81" stroke-width="1" />
<rect x="635.2" y="366.61" width="3.6" height="3.6" fill="#ffffff" stroke="#fb7f81" stroke-width="1" />
<rect x="633.2" y="370.66" width="3.6" height="3.6" fill="#ffffff" stroke="#fb7f81" stroke-width="1" />
<rect x="643.2" y="351.38" width="9.2" height="75.42" fill="#000000" />
<line x1="647.8" y1="350.16" x2="647.8" y2="351.88" stroke="#000000" stroke-width="1.2" stroke-linecap="butt"/>
<line x1="645.2" y1="350.16" x2="650.4" y2="350.16" stroke="#000000" stroke-width="1.2" stroke-linecap="butt"/>
<circle cx="645.8" cy="349.75" r="1.8" fill="#ffffff" stroke="#000000" stroke-width="1.1"/>
<circle cx="647.8" cy="350.57" r="1.8" fill="#ffffff" stroke="#000000" stroke-width="1.1"/>
<circle cx="649.8" cy="351.38" r="1.8" fill="#ffffff" stroke="#000000" stroke-width="1.1"/>
<circle cx="649.8" cy="353.81" r="1.8" fill="#ffffff" stroke="#000000" stroke-width="1.1"/>
<circle cx="645.8" cy="355.43" r="1.8" fill="#ffffff" stroke="#000000" stroke-width="1.1"/>
<circle cx="647.8" cy="357.05" r="1.8" fill="#ffffff" stroke="#000000" stroke-width="1.1"/>
<rect x="656.2" y="358.68" width="9.2" height="68.12" fill="#fb7f81" />
<line x1="660.8" y1="357.05" x2="660.8" y2="359.18" stroke="#fb7f81" stroke-width="1.2" stroke-linecap="butt"/>
<line x1="658.2" y1="357.05" x2="663.4" y2="357.05" stroke="#fb7f81" stroke-width="1.2" stroke-linecap="butt"/>
<rect x="661" y="353.63" width="3.6" height="3.6" fill="#ffffff" stroke="#fb7f81" stroke-width="1" />
<rect x="657" y="356.06" width="3.6" height="3.6" fill="#ffffff" stroke="#fb7f81" stroke-width="1" />
<rect x="659" y="356.88" width="3.6" height="3.6" fill="#ffffff" stroke="#fb7f81" stroke-width="1" />
<rect x="661" y="360.93" width="3.6" height="3.6" fill="#ffffff" stroke="#fb7f81" stroke-width="1" />
<rect x="657" y="363.36" width="3.6" height="3.6" fill="#ffffff" stroke="#fb7f81" stroke-width="1" />
<rect x="659" y="365.8" width="3.6" height="3.6" fill="#ffffff" stroke="#fb7f81" stroke-width="1" />
<line x1="588.4" y1="344.8" x2="588.4" y2="427.5" stroke="#000000" stroke-width="1.4" stroke-linecap="butt"/>
<line x1="587.7" y1="426.8" x2="670" y2="426.8" stroke="#000000" stroke-width="1.4" stroke-linecap="butt"/>
<line x1="584.8" y1="426.8" x2="588.4" y2="426.8" stroke="#000000" stroke-width="1.1" stroke-linecap="butt"/>
<text x="584.2" y="429.8" font-size="9" text-anchor="end" fill="#231815" stroke="#231815" stroke-width="0.18">0</text>
<line x1="584.8" y1="410.58" x2="588.4" y2="410.58" stroke="#000000" stroke-width="1.1" stroke-linecap="butt"/>
<text x="584.2" y="413.58" font-size="9" text-anchor="end" fill="#231815" stroke="#231815" stroke-width="0.18">20</text>
<line x1="584.8" y1="394.36" x2="588.4" y2="394.36" stroke="#000000" stroke-width="1.1" stroke-linecap="butt"/>
<text x="584.2" y="397.36" font-size="9" text-anchor="end" fill="#231815" stroke="#231815" stroke-width="0.18">40</text>
<line x1="584.8" y1="378.14" x2="588.4" y2="378.14" stroke="#000000" stroke-width="1.1" stroke-linecap="butt"/>
<text x="584.2" y="381.14" font-size="9" text-anchor="end" fill="#231815" stroke="#231815" stroke-width="0.18">60</text>
<line x1="584.8" y1="361.92" x2="588.4" y2="361.92" stroke="#000000" stroke-width="1.1" stroke-linecap="butt"/>
<text x="584.2" y="364.92" font-size="9" text-anchor="end" fill="#231815" stroke="#231815" stroke-width="0.18">80</text>
<line x1="584.8" y1="345.7" x2="588.4" y2="345.7" stroke="#000000" stroke-width="1.1" stroke-linecap="butt"/>
<text x="584.2" y="348.7" font-size="9" text-anchor="end" fill="#231815" stroke="#231815" stroke-width="0.18">100</text>
<line x1="602.6" y1="426.8" x2="602.6" y2="430.2" stroke="#000000" stroke-width="1.1" stroke-linecap="butt"/>
<text x="602.4" y="440.8" font-size="9" text-anchor="middle" fill="#231815" stroke="#231815" stroke-width="0.18">Total</text>
<line x1="628.5" y1="426.8" x2="628.5" y2="430.2" stroke="#000000" stroke-width="1.1" stroke-linecap="butt"/>
<text x="630.8" y="440.8" font-size="9" text-anchor="middle" fill="#231815" stroke="#231815" stroke-width="0.18">Light</text>
<line x1="654.3" y1="426.8" x2="654.3" y2="430.2" stroke="#000000" stroke-width="1.1" stroke-linecap="butt"/>
<text x="656.8" y="440.8" font-size="9" text-anchor="middle" fill="#231815" stroke="#231815" stroke-width="0.18">Dark</text>
<line x1="596.4" y1="348.8" x2="608.2" y2="348.8" stroke="#231815" stroke-width="1.2" stroke-linecap="butt"/>
<text x="0" y="0" font-size="8.6" text-anchor="middle" fill="#231815" stroke="#231815" stroke-width="0.18" transform="translate(602.3 349) scale(0.95 1)">***</text>
<line x1="623" y1="350" x2="635" y2="350" stroke="#231815" stroke-width="1.2" stroke-linecap="butt"/>
<text x="0" y="0" font-size="8.6" text-anchor="middle" fill="#231815" stroke="#231815" stroke-width="0.18" transform="translate(629 350.2) scale(0.95 1)">**</text>
<line x1="649" y1="343.4" x2="661.4" y2="343.4" stroke="#231815" stroke-width="1.2" stroke-linecap="butt"/>
<text x="0" y="0" font-size="8.6" text-anchor="middle" fill="#231815" stroke="#231815" stroke-width="0.18" transform="translate(655.2 343.6) scale(0.95 1)">**</text>
<text x="627" y="332.3" font-size="9.6" text-anchor="middle" fill="#231815" stroke="#231815" stroke-width="0.18">VCO<tspan font-size="6.6" dy="2.2" dx="0.4">2</tspan></text>
<rect x="279.4" y="476.9" width="27.2" height="88.9" fill="#fdc17b" />
<rect x="306.6" y="476.9" width="27.6" height="88.9" fill="#a2a2a6" />
<rect x="255.3" y="530.99" width="8.4" height="34.81" fill="#000000" />
<line x1="259.5" y1="525.47" x2="259.5" y2="531.49" stroke="#000000" stroke-width="1.2" stroke-linecap="butt"/>
<line x1="256.9" y1="525.47" x2="262.1" y2="525.47" stroke="#000000" stroke-width="1.2" stroke-linecap="butt"/>
<circle cx="259.5" cy="508.49" r="1.8" fill="#ffffff" stroke="#000000" stroke-width="1.1"/>
<circle cx="259.5" cy="518.26" r="1.8" fill="#ffffff" stroke="#000000" stroke-width="1.1"/>
<circle cx="259.5" cy="522.5" r="1.8" fill="#ffffff" stroke="#000000" stroke-width="1.1"/>
<circle cx="259.5" cy="541.18" r="1.8" fill="#ffffff" stroke="#000000" stroke-width="1.1"/>
<circle cx="259.5" cy="546.27" r="1.8" fill="#ffffff" stroke="#000000" stroke-width="1.1"/>
<circle cx="259.5" cy="550.94" r="1.8" fill="#ffffff" stroke="#000000" stroke-width="1.1"/>
<rect x="268.7" y="541.18" width="9.1" height="24.62" fill="#fb7f81" />
<line x1="273.25" y1="535.66" x2="273.25" y2="541.68" stroke="#fb7f81" stroke-width="1.2" stroke-linecap="butt"/>
<line x1="270.65" y1="535.66" x2="275.85" y2="535.66" stroke="#fb7f81" stroke-width="1.2" stroke-linecap="butt"/>
<rect x="271.45" y="514.33" width="3.6" height="3.6" fill="#ffffff" stroke="#fb7f81" stroke-width="1" />
<rect x="271.45" y="522.82" width="3.6" height="3.6" fill="#ffffff" stroke="#fb7f81" stroke-width="1" />
<rect x="271.45" y="533.44" width="3.6" height="3.6" fill="#ffffff" stroke="#fb7f81" stroke-width="1" />
<rect x="271.45" y="549.14" width="3.6" height="3.6" fill="#ffffff" stroke="#fb7f81" stroke-width="1" />
<rect x="269.45" y="558.91" width="3.6" height="3.6" fill="#ffffff" stroke="#fb7f81" stroke-width="1" />
<rect x="273.45" y="560.6" width="3.6" height="3.6" fill="#ffffff" stroke="#fb7f81" stroke-width="1" />
<rect x="282" y="526.32" width="8.6" height="39.48" fill="#000000" />
<line x1="286.3" y1="521.23" x2="286.3" y2="526.82" stroke="#000000" stroke-width="1.2" stroke-linecap="butt"/>
<line x1="283.7" y1="521.23" x2="288.9" y2="521.23" stroke="#000000" stroke-width="1.2" stroke-linecap="butt"/>
<circle cx="286.3" cy="507.22" r="1.8" fill="#ffffff" stroke="#000000" stroke-width="1.1"/>
<circle cx="284.1" cy="516.98" r="1.8" fill="#ffffff" stroke="#000000" stroke-width="1.1"/>
<circle cx="288.5" cy="517.83" r="1.8" fill="#ffffff" stroke="#000000" stroke-width="1.1"/>
<circle cx="286.3" cy="533.96" r="1.8" fill="#ffffff" stroke="#000000" stroke-width="1.1"/>
<circle cx="286.3" cy="539.48" r="1.8" fill="#ffffff" stroke="#000000" stroke-width="1.1"/>
<circle cx="286.3" cy="544.57" r="1.8" fill="#ffffff" stroke="#000000" stroke-width="1.1"/>
<rect x="294.9" y="539.06" width="9.1" height="26.74" fill="#fb7f81" />
<line x1="299.45" y1="531.42" x2="299.45" y2="539.56" stroke="#fb7f81" stroke-width="1.2" stroke-linecap="butt"/>
<line x1="296.85" y1="531.42" x2="302.05" y2="531.42" stroke="#fb7f81" stroke-width="1.2" stroke-linecap="butt"/>
<rect x="297.65" y="513.06" width="3.6" height="3.6" fill="#ffffff" stroke="#fb7f81" stroke-width="1" />
<rect x="297.65" y="519.43" width="3.6" height="3.6" fill="#ffffff" stroke="#fb7f81" stroke-width="1" />
<rect x="297.65" y="529.19" width="3.6" height="3.6" fill="#ffffff" stroke="#fb7f81" stroke-width="1" />
<rect x="297.65" y="549.14" width="3.6" height="3.6" fill="#ffffff" stroke="#fb7f81" stroke-width="1" />
<rect x="295.65" y="554.66" width="3.6" height="3.6" fill="#ffffff" stroke="#fb7f81" stroke-width="1" />
<rect x="299.65" y="555.51" width="3.6" height="3.6" fill="#ffffff" stroke="#fb7f81" stroke-width="1" />
<rect x="308" y="536.08" width="9.4" height="29.72" fill="#000000" />
<line x1="312.7" y1="529.29" x2="312.7" y2="536.58" stroke="#000000" stroke-width="1.2" stroke-linecap="butt"/>
<line x1="310.1" y1="529.29" x2="315.3" y2="529.29" stroke="#000000" stroke-width="1.2" stroke-linecap="butt"/>
<circle cx="312.7" cy="510.61" r="1.8" fill="#ffffff" stroke="#000000" stroke-width="1.1"/>
<circle cx="312.7" cy="518.26" r="1.8" fill="#ffffff" stroke="#000000" stroke-width="1.1"/>
<circle cx="312.7" cy="527.59" r="1.8" fill="#ffffff" stroke="#000000" stroke-width="1.1"/>
<circle cx="312.7" cy="546.7" r="1.8" fill="#ffffff" stroke="#000000" stroke-width="1.1"/>
<circle cx="312.7" cy="552.22" r="1.8" fill="#ffffff" stroke="#000000" stroke-width="1.1"/>
<circle cx="312.7" cy="557.31" r="1.8" fill="#ffffff" stroke="#000000" stroke-width="1.1"/>
<rect x="321.4" y="543.73" width="9.4" height="22.07" fill="#fb7f81" />
<line x1="326.1" y1="537.78" x2="326.1" y2="544.23" stroke="#fb7f81" stroke-width="1.2" stroke-linecap="butt"/>
<line x1="323.5" y1="537.78" x2="328.7" y2="537.78" stroke="#fb7f81" stroke-width="1.2" stroke-linecap="butt"/>
<rect x="324.3" y="515.18" width="3.6" height="3.6" fill="#ffffff" stroke="#fb7f81" stroke-width="1" />
<rect x="324.3" y="525.79" width="3.6" height="3.6" fill="#ffffff" stroke="#fb7f81" stroke-width="1" />
<rect x="324.3" y="537.68" width="3.6" height="3.6" fill="#ffffff" stroke="#fb7f81" stroke-width="1" />
<rect x="324.3" y="554.66" width="3.6" height="3.6" fill="#ffffff" stroke="#fb7f81" stroke-width="1" />
<rect x="322.3" y="560.6" width="3.6" height="3.6" fill="#ffffff" stroke="#fb7f81" stroke-width="1" />
<rect x="326.3" y="561.03" width="3.6" height="3.6" fill="#ffffff" stroke="#fb7f81" stroke-width="1" />
<line x1="252.6" y1="480.2" x2="252.6" y2="566.5" stroke="#000000" stroke-width="1.4" stroke-linecap="butt"/>
<line x1="251.9" y1="565.8" x2="335.8" y2="565.8" stroke="#000000" stroke-width="1.4" stroke-linecap="butt"/>
<line x1="249" y1="565.8" x2="252.6" y2="565.8" stroke="#000000" stroke-width="1.1" stroke-linecap="butt"/>
<text x="248.4" y="568.8" font-size="9" text-anchor="end" fill="#231815" stroke="#231815" stroke-width="0.18">0.70</text>
<line x1="249" y1="544.57" x2="252.6" y2="544.57" stroke="#000000" stroke-width="1.1" stroke-linecap="butt"/>
<text x="248.4" y="547.57" font-size="9" text-anchor="end" fill="#231815" stroke="#231815" stroke-width="0.18">0.75</text>
<line x1="249" y1="523.35" x2="252.6" y2="523.35" stroke="#000000" stroke-width="1.1" stroke-linecap="butt"/>
<text x="248.4" y="526.35" font-size="9" text-anchor="end" fill="#231815" stroke="#231815" stroke-width="0.18">0.80</text>
<line x1="249" y1="502.12" x2="252.6" y2="502.12" stroke="#000000" stroke-width="1.1" stroke-linecap="butt"/>
<text x="248.4" y="505.12" font-size="9" text-anchor="end" fill="#231815" stroke="#231815" stroke-width="0.18">0.85</text>
<line x1="249" y1="480.9" x2="252.6" y2="480.9" stroke="#000000" stroke-width="1.1" stroke-linecap="butt"/>
<text x="248.4" y="483.9" font-size="9" text-anchor="end" fill="#231815" stroke="#231815" stroke-width="0.18">0.90</text>
<line x1="267" y1="565.8" x2="267" y2="569.2" stroke="#000000" stroke-width="1.1" stroke-linecap="butt"/>
<text x="266.6" y="578.4" font-size="9" text-anchor="middle" fill="#231815" stroke="#231815" stroke-width="0.18">Total</text>
<line x1="293" y1="565.8" x2="293" y2="569.2" stroke="#000000" stroke-width="1.1" stroke-linecap="butt"/>
<text x="294.2" y="578.4" font-size="9" text-anchor="middle" fill="#231815" stroke="#231815" stroke-width="0.18">Light</text>
<line x1="319.4" y1="565.8" x2="319.4" y2="569.2" stroke="#000000" stroke-width="1.1" stroke-linecap="butt"/>
<text x="319.6" y="578.4" font-size="9" text-anchor="middle" fill="#231815" stroke="#231815" stroke-width="0.18">Dark</text>
<text x="293" y="467.9" font-size="9.6" text-anchor="middle" fill="#231815" stroke="#231815" stroke-width="0.18">RER</text>
<rect x="616.2" y="480" width="25.6" height="83" fill="#fdc17b" />
<rect x="641.8" y="480" width="25.4" height="83" fill="#a2a2a6" />
<rect x="593.4" y="502.24" width="9.1" height="60.76" fill="#000000" />
<line x1="597.95" y1="499.73" x2="597.95" y2="502.74" stroke="#000000" stroke-width="1.2" stroke-linecap="butt"/>
<line x1="595.35" y1="499.73" x2="600.55" y2="499.73" stroke="#000000" stroke-width="1.2" stroke-linecap="butt"/>
<circle cx="595.95" cy="495.32" r="1.8" fill="#ffffff" stroke="#000000" stroke-width="1.1"/>
<circle cx="599.95" cy="496.89" r="1.8" fill="#ffffff" stroke="#000000" stroke-width="1.1"/>
<circle cx="597.95" cy="501.61" r="1.8" fill="#ffffff" stroke="#000000" stroke-width="1.1"/>
<circle cx="595.95" cy="503.19" r="1.8" fill="#ffffff" stroke="#000000" stroke-width="1.1"/>
<circle cx="599.95" cy="506.34" r="1.8" fill="#ffffff" stroke="#000000" stroke-width="1.1"/>
<circle cx="597.95" cy="507.91" r="1.8" fill="#ffffff" stroke="#000000" stroke-width="1.1"/>
<rect x="605.8" y="515.78" width="9.2" height="47.22" fill="#fb7f81" />
<line x1="610.4" y1="512" x2="610.4" y2="516.28" stroke="#fb7f81" stroke-width="1.2" stroke-linecap="butt"/>
<line x1="607.8" y1="512" x2="613" y2="512" stroke="#fb7f81" stroke-width="1.2" stroke-linecap="butt"/>
<rect x="607.6" y="506.11" width="3.6" height="3.6" fill="#ffffff" stroke="#fb7f81" stroke-width="1" />
<rect x="609.6" y="509.26" width="3.6" height="3.6" fill="#ffffff" stroke="#fb7f81" stroke-width="1" />
<rect x="606.6" y="516.5" width="3.6" height="3.6" fill="#ffffff" stroke="#fb7f81" stroke-width="1" />
<rect x="610.6" y="517.76" width="3.6" height="3.6" fill="#ffffff" stroke="#fb7f81" stroke-width="1" />
<rect x="608.6" y="539.16" width="3.6" height="3.6" fill="#ffffff" stroke="#fb7f81" stroke-width="1" />
<rect x="618.6" y="509.48" width="8.8" height="53.52" fill="#000000" />
<line x1="623" y1="505.71" x2="623" y2="509.98" stroke="#000000" stroke-width="1.2" stroke-linecap="butt"/>
<line x1="620.4" y1="505.71" x2="625.6" y2="505.71" stroke="#000000" stroke-width="1.2" stroke-linecap="butt"/>
<circle cx="625" cy="499.1" r="1.8" fill="#ffffff" stroke="#000000" stroke-width="1.1"/>
<circle cx="621" cy="501.61" r="1.8" fill="#ffffff" stroke="#000000" stroke-width="1.1"/>
<circle cx="623" cy="509.48" r="1.8" fill="#ffffff" stroke="#000000" stroke-width="1.1"/>
<circle cx="621" cy="511.06" r="1.8" fill="#ffffff" stroke="#000000" stroke-width="1.1"/>
<circle cx="625" cy="518.93" r="1.8" fill="#ffffff" stroke="#000000" stroke-width="1.1"/>
<circle cx="623" cy="521.45" r="1.8" fill="#ffffff" stroke="#000000" stroke-width="1.1"/>
<rect x="631.3" y="523.02" width="8.8" height="39.98" fill="#fb7f81" />
<line x1="635.7" y1="519.24" x2="635.7" y2="523.52" stroke="#fb7f81" stroke-width="1.2" stroke-linecap="butt"/>
<line x1="633.1" y1="519.24" x2="638.3" y2="519.24" stroke="#fb7f81" stroke-width="1.2" stroke-linecap="butt"/>
<rect x="633.9" y="506.74" width="3.6" height="3.6" fill="#ffffff" stroke="#fb7f81" stroke-width="1" />
<rect x="631.9" y="517.13" width="3.6" height="3.6" fill="#ffffff" stroke="#fb7f81" stroke-width="1" />
<rect x="635.9" y="521.85" width="3.6" height="3.6" fill="#ffffff" stroke="#fb7f81" stroke-width="1" />
<rect x="631.9" y="522.79" width="3.6" height="3.6" fill="#ffffff" stroke="#fb7f81" stroke-width="1" />
<rect x="633.9" y="531.29" width="3.6" height="3.6" fill="#ffffff" stroke="#fb7f81" stroke-width="1" />
<rect x="633.9" y="545.46" width="3.6" height="3.6" fill="#ffffff" stroke="#fb7f81" stroke-width="1" />
<rect x="643.7" y="493.11" width="9.1" height="69.89" fill="#000000" />
<line x1="648.25" y1="491.23" x2="648.25" y2="493.61" stroke="#000000" stroke-width="1.2" stroke-linecap="butt"/>
<line x1="645.65" y1="491.23" x2="650.85" y2="491.23" stroke="#000000" stroke-width="1.2" stroke-linecap="butt"/>
<circle cx="648.25" cy="487.45" r="1.8" fill="#ffffff" stroke="#000000" stroke-width="1.1"/>
<circle cx="646.25" cy="491.23" r="1.8" fill="#ffffff" stroke="#000000" stroke-width="1.1"/>
<circle cx="650.25" cy="493.11" r="1.8" fill="#ffffff" stroke="#000000" stroke-width="1.1"/>
<circle cx="648.25" cy="493.74" r="1.8" fill="#ffffff" stroke="#000000" stroke-width="1.1"/>
<circle cx="646.25" cy="496.26" r="1.8" fill="#ffffff" stroke="#000000" stroke-width="1.1"/>
<circle cx="650.25" cy="500.04" r="1.8" fill="#ffffff" stroke="#000000" stroke-width="1.1"/>
<rect x="656.2" y="509.48" width="9.1" height="53.52" fill="#fb7f81" />
<line x1="660.75" y1="505.71" x2="660.75" y2="509.98" stroke="#fb7f81" stroke-width="1.2" stroke-linecap="butt"/>
<line x1="658.15" y1="505.71" x2="663.35" y2="505.71" stroke="#fb7f81" stroke-width="1.2" stroke-linecap="butt"/>
<rect x="658.95" y="501.39" width="3.6" height="3.6" fill="#ffffff" stroke="#fb7f81" stroke-width="1" />
<rect x="656.95" y="507.05" width="3.6" height="3.6" fill="#ffffff" stroke="#fb7f81" stroke-width="1" />
<rect x="660.95" y="508.31" width="3.6" height="3.6" fill="#ffffff" stroke="#fb7f81" stroke-width="1" />
<rect x="657.95" y="510.2" width="3.6" height="3.6" fill="#ffffff" stroke="#fb7f81" stroke-width="1" />
<rect x="660.95" y="515.55" width="3.6" height="3.6" fill="#ffffff" stroke="#fb7f81" stroke-width="1" />
<rect x="658.95" y="532.24" width="3.6" height="3.6" fill="#ffffff" stroke="#fb7f81" stroke-width="1" />
<line x1="589.2" y1="483.6" x2="589.2" y2="563.7" stroke="#000000" stroke-width="1.4" stroke-linecap="butt"/>
<line x1="588.5" y1="563" x2="668.6" y2="563" stroke="#000000" stroke-width="1.4" stroke-linecap="butt"/>
<line x1="585.6" y1="563" x2="589.2" y2="563" stroke="#000000" stroke-width="1.1" stroke-linecap="butt"/>
<text x="585" y="566" font-size="9" text-anchor="end" fill="#231815" stroke="#231815" stroke-width="0.18">0.35</text>
<line x1="585.6" y1="547.26" x2="589.2" y2="547.26" stroke="#000000" stroke-width="1.1" stroke-linecap="butt"/>
<text x="585" y="550.26" font-size="9" text-anchor="end" fill="#231815" stroke="#231815" stroke-width="0.18">0.40</text>
<line x1="585.6" y1="531.52" x2="589.2" y2="531.52" stroke="#000000" stroke-width="1.1" stroke-linecap="butt"/>
<text x="585" y="534.52" font-size="9" text-anchor="end" fill="#231815" stroke="#231815" stroke-width="0.18">0.45</text>
<line x1="585.6" y1="515.78" x2="589.2" y2="515.78" stroke="#000000" stroke-width="1.1" stroke-linecap="butt"/>
<text x="585" y="518.78" font-size="9" text-anchor="end" fill="#231815" stroke="#231815" stroke-width="0.18">0.50</text>
<line x1="585.6" y1="500.04" x2="589.2" y2="500.04" stroke="#000000" stroke-width="1.1" stroke-linecap="butt"/>
<text x="585" y="503.04" font-size="9" text-anchor="end" fill="#231815" stroke="#231815" stroke-width="0.18">0.55</text>
<line x1="585.6" y1="484.3" x2="589.2" y2="484.3" stroke="#000000" stroke-width="1.1" stroke-linecap="butt"/>
<text x="585" y="487.3" font-size="9" text-anchor="end" fill="#231815" stroke="#231815" stroke-width="0.18">0.60</text>
<line x1="604.2" y1="563" x2="604.2" y2="566.4" stroke="#000000" stroke-width="1.1" stroke-linecap="butt"/>
<text x="602.8" y="578.2" font-size="9" text-anchor="middle" fill="#231815" stroke="#231815" stroke-width="0.18">Total</text>
<line x1="629.4" y1="563" x2="629.4" y2="566.4" stroke="#000000" stroke-width="1.1" stroke-linecap="butt"/>
<text x="631.4" y="578.2" font-size="9" text-anchor="middle" fill="#231815" stroke="#231815" stroke-width="0.18">Light</text>
<line x1="654.5" y1="563" x2="654.5" y2="566.4" stroke="#000000" stroke-width="1.1" stroke-linecap="butt"/>
<text x="657" y="578.2" font-size="9" text-anchor="middle" fill="#231815" stroke="#231815" stroke-width="0.18">Dark</text>
<line x1="598" y1="490.8" x2="612" y2="490.8" stroke="#231815" stroke-width="1.2" stroke-linecap="butt"/>
<text x="0" y="0" font-size="8.6" text-anchor="middle" fill="#231815" stroke="#231815" stroke-width="0.18" transform="translate(605 491) scale(0.95 1)">**</text>
<line x1="623" y1="493" x2="635.8" y2="493" stroke="#231815" stroke-width="1.2" stroke-linecap="butt"/>
<text x="0" y="0" font-size="8.6" text-anchor="middle" fill="#231815" stroke="#231815" stroke-width="0.18" transform="translate(629.4 493.2) scale(0.95 1)">*</text>
<line x1="647.3" y1="482.9" x2="660.5" y2="482.9" stroke="#231815" stroke-width="1.2" stroke-linecap="butt"/>
<text x="0" y="0" font-size="8.6" text-anchor="middle" fill="#231815" stroke="#231815" stroke-width="0.18" transform="translate(653.9 483.1) scale(0.95 1)">**</text>
<text x="628.8" y="467.5" font-size="9.6" text-anchor="middle" fill="#231815" stroke="#231815" stroke-width="0.18">EE</text>
</svg>
</body></html>
